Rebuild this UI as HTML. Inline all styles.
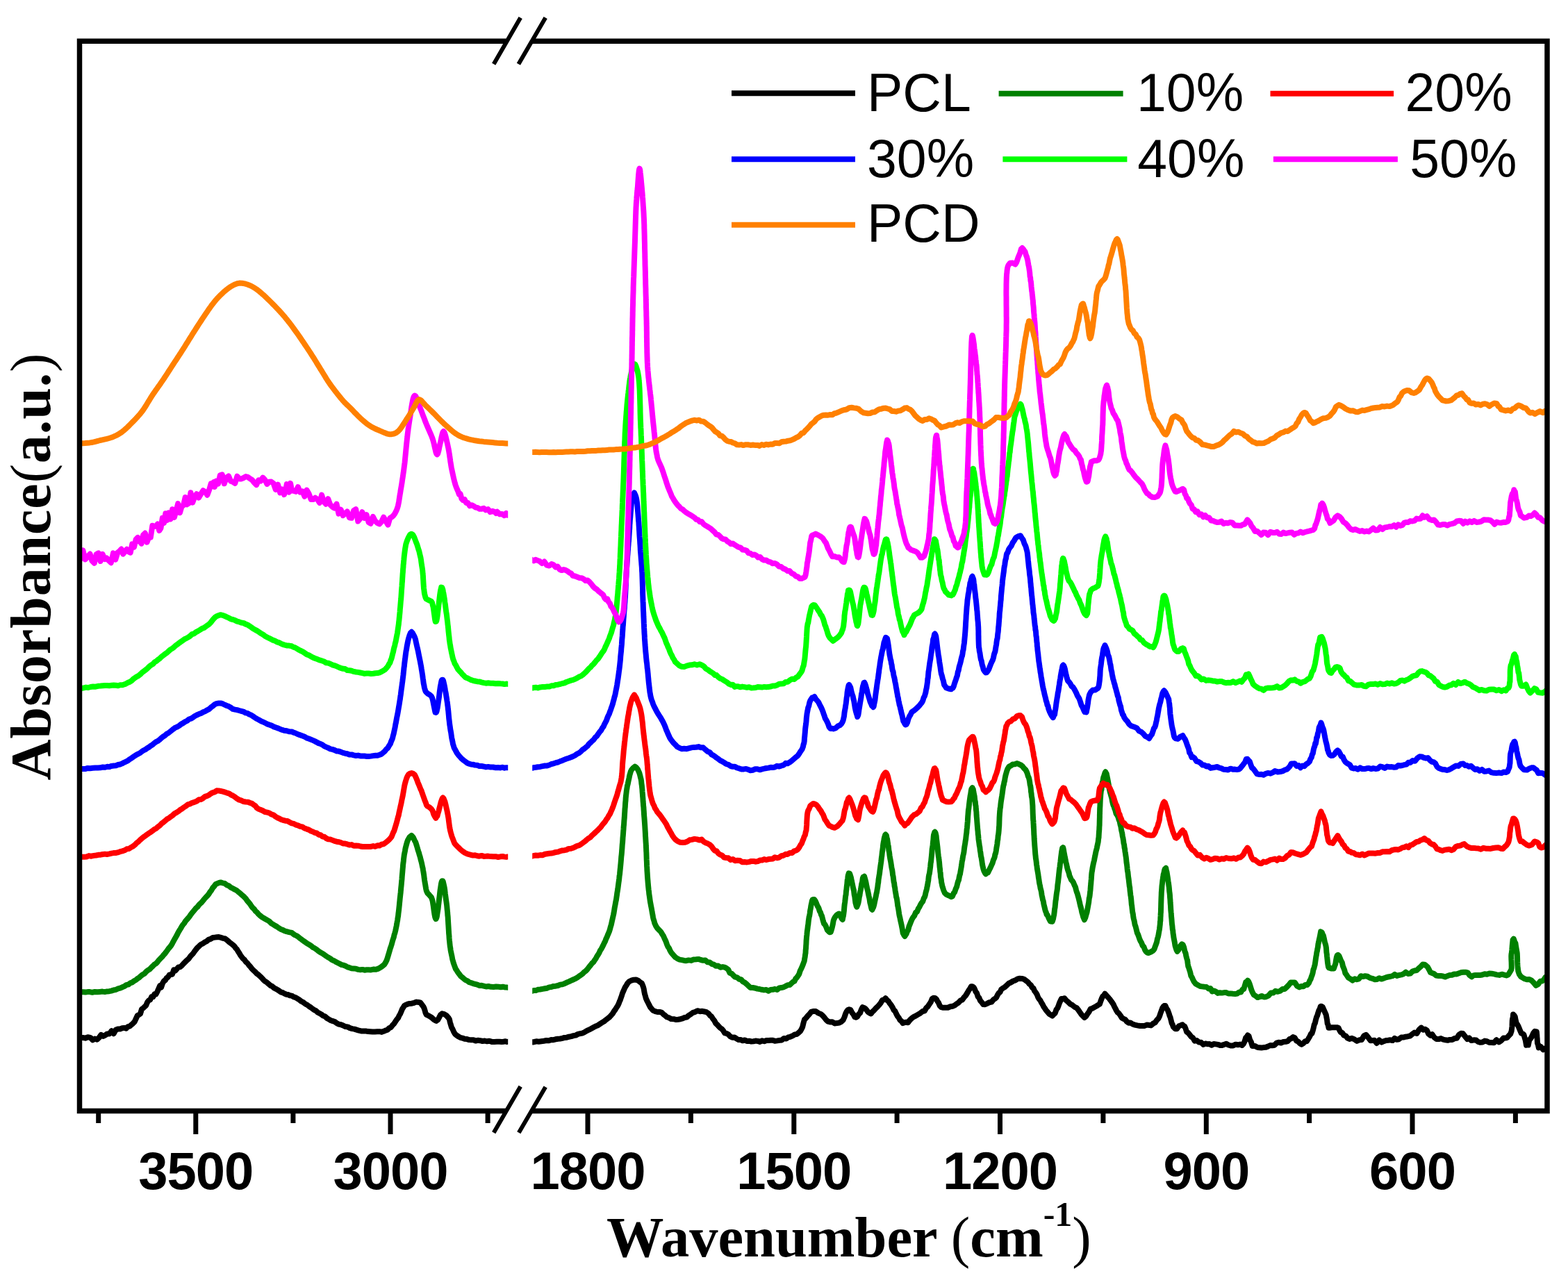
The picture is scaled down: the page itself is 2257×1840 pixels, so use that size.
<!DOCTYPE html>
<html><head><meta charset="utf-8"><title>FTIR spectra</title>
<style>html,body{margin:0;padding:0;background:#fff;}svg{display:block;filter:blur(0.55px);}</style>
</head><body>
<svg width="2257" height="1840" viewBox="0 0 2257 1840">
<defs>
<clipPath id="clipL"><rect x="114.5" y="59.3" width="616.7" height="1540.2"/></clipPath>
<clipPath id="clipR"><rect x="766.2" y="59.3" width="1460.8" height="1540.2"/></clipPath>
</defs>
<rect width="2257" height="1840" fill="#fff"/>
<g fill="none" stroke-width="8.0" stroke-linejoin="round" stroke-linecap="butt">
<path d="M110.0 1497.0L111.8 1492.5 114.0 1493.7 116.3 1493.9 119.3 1494.0 122.8 1494.7 126.4 1493.3 130.1 1493.9 133.5 1497.4 136.5 1495.6 139.8 1496.6 142.7 1493.8 145.5 1489.9 148.6 1491.9 151.4 1490.5 154.4 1488.4 157.5 1488.5 160.6 1484.2 163.7 1488.2 166.6 1482.8 169.8 1481.5 172.9 1481.5 175.9 1480.3 178.8 1479.9 181.6 1480.8 184.2 1478.1 186.7 1477.6 189.1 1475.4 191.4 1473.4 193.6 1471.2 195.8 1466.5 197.9 1462.0 199.9 1461.0 202.0 1459.5 204.1 1452.8 206.1 1451.5 208.1 1449.5 210.1 1447.8 212.2 1442.7 214.2 1440.3 216.2 1439.4 218.3 1434.9 220.4 1435.2 222.4 1431.2 224.5 1431.5 226.7 1427.2 228.4 1423.3 230.2 1419.2 232.1 1421.4 234.0 1415.7 235.9 1412.4 237.8 1411.4 239.7 1408.2 241.7 1406.9 243.8 1403.7 245.9 1403.1 248.0 1402.8 250.2 1396.3 252.3 1397.6 254.5 1395.1 256.7 1392.5 259.2 1392.3 261.7 1390.2 264.2 1387.4 266.7 1384.9 269.2 1382.4 271.7 1380.2 273.8 1377.2 275.9 1374.8 277.9 1372.9 279.9 1369.9 282.0 1367.1 284.2 1364.4 286.6 1362.2 289.1 1359.8 291.6 1358.7 294.4 1356.7 297.2 1355.4 300.2 1352.9 303.2 1351.9 306.3 1350.0 309.3 1349.6 312.1 1349.2 314.9 1349.0 318.0 1349.9 321.1 1350.8 324.1 1351.5 327.1 1353.7 329.9 1356.3 332.6 1358.4 335.2 1360.4 337.3 1362.2 339.2 1364.9 341.0 1366.8 342.7 1369.7 344.4 1372.3 346.1 1375.3 347.9 1377.7 349.9 1380.2 351.9 1381.9 353.9 1384.8 356.0 1386.5 358.2 1389.5 360.3 1391.8 362.6 1394.7 364.8 1397.0 367.1 1399.0 369.4 1401.5 371.8 1403.3 374.2 1405.4 376.7 1407.8 379.2 1410.7 381.7 1412.9 384.2 1414.4 386.8 1416.7 389.4 1419.0 392.0 1420.2 394.8 1422.6 397.9 1424.1 401.0 1426.0 404.1 1428.3 407.1 1429.2 409.9 1430.7 412.4 1431.7 414.5 1432.0 417.3 1433.2 420.0 1433.6 422.1 1435.1 424.6 1435.8 427.4 1437.3 430.4 1439.2 433.4 1441.5 436.6 1443.1 439.6 1445.5 442.5 1447.0 445.0 1449.0 447.5 1450.5 450.0 1452.5 452.5 1454.2 455.0 1455.4 457.5 1457.7 460.0 1459.0 462.6 1460.4 465.1 1462.5 467.9 1463.3 470.7 1466.0 473.5 1467.6 476.3 1469.2 479.1 1470.1 481.9 1471.0 484.7 1473.2 487.6 1474.6 490.8 1475.2 494.0 1476.5 497.2 1478.1 500.4 1478.4 503.6 1480.1 506.9 1481.1 510.1 1481.6 513.3 1482.6 516.6 1483.7 519.8 1484.4 523.1 1484.4 526.3 1484.4 529.5 1485.1 532.7 1485.3 536.1 1485.6 539.6 1485.6 543.0 1485.3 546.3 1485.2 549.4 1485.9 552.2 1484.8 555.2 1483.5 557.8 1482.6 560.3 1480.1 562.7 1479.1 565.0 1476.1 567.1 1473.9 569.2 1470.8 571.2 1467.8 573.2 1465.4 574.7 1462.0 576.2 1459.6 577.6 1456.2 579.0 1452.7 580.5 1450.5 582.1 1447.9 583.8 1446.9 586.7 1445.7 589.7 1444.9 592.8 1444.7 596.1 1443.8 599.5 1442.6 602.5 1443.0 605.0 1443.4 607.3 1446.5 609.3 1449.1 610.6 1451.8 611.5 1454.6 612.4 1458.0 613.8 1460.9 617.4 1462.6 621.3 1465.0 624.7 1468.2 628.1 1469.9 630.1 1468.4 632.1 1464.9 634.1 1461.1 636.3 1459.3 639.4 1460.1 642.7 1462.2 645.4 1465.2 646.9 1467.6 647.9 1472.1 648.7 1474.7 649.9 1478.9 651.4 1481.5 653.0 1485.2 654.9 1488.6 657.4 1490.7 659.8 1492.3 662.6 1493.9 665.6 1494.6 668.8 1495.8 672.1 1496.1 675.4 1497.1 678.4 1497.3 681.5 1497.3 684.6 1498.5 687.8 1497.8 691.1 1498.2 694.5 1499.0 697.9 1498.5 701.0 1499.3 704.4 1498.7 707.9 1499.9 711.6 1500.0 715.2 1499.8 718.8 1499.8 722.1 1500.1 725.0 1499.7 727.5 1499.3 729.5 1499.9 731.7 1499.7 733.5 1499.3" stroke="#000000" clip-path="url(#clipL)"/>
<path d="M762.8 1500.6L764.6 1500.2 766.8 1500.5 769.1 1500.0 772.0 1499.3 775.4 1499.7 779.1 1499.2 782.8 1498.7 786.5 1498.0 790.0 1498.2 793.3 1497.1 796.5 1497.2 799.7 1496.3 803.0 1495.7 806.2 1495.5 809.4 1494.9 812.6 1493.9 815.8 1493.7 819.1 1492.7 822.3 1492.1 825.5 1491.1 828.7 1490.6 831.9 1488.9 835.1 1488.2 838.0 1487.6 840.9 1486.3 843.7 1484.6 846.6 1483.2 849.5 1481.9 852.3 1480.3 855.0 1478.8 857.7 1477.4 860.7 1476.2 863.7 1474.2 866.6 1472.2 869.5 1470.6 872.2 1468.3 874.8 1466.3 877.2 1464.5 879.6 1461.9 881.8 1459.4 883.8 1456.0 885.7 1453.5 887.5 1450.5 889.2 1448.0 890.5 1445.3 891.7 1442.0 892.8 1439.7 893.9 1436.3 894.9 1433.6 896.0 1429.9 897.1 1427.6 898.2 1424.9 899.9 1421.2 901.6 1418.6 903.5 1415.4 905.7 1413.1 908.8 1411.7 912.2 1410.7 915.5 1410.5 918.5 1411.7 921.3 1414.0 923.8 1415.6 925.0 1418.3 925.9 1420.8 926.7 1423.7 927.3 1427.5 928.0 1431.0 928.8 1433.6 929.8 1437.4 931.2 1440.6 932.7 1443.5 934.4 1446.9 936.2 1450.4 938.2 1452.7 940.3 1454.9 943.1 1456.1 946.3 1457.0 949.5 1457.0 952.3 1457.6 954.9 1460.3 957.2 1461.9 959.8 1464.3 962.8 1465.3 966.2 1467.1 969.8 1467.2 973.3 1468.1 976.3 1467.7 979.4 1467.2 982.5 1466.3 985.5 1465.0 988.4 1464.6 991.6 1461.9 994.5 1460.1 997.4 1457.9 1000.4 1457.1 1003.9 1455.2 1007.5 1456.2 1010.9 1455.8 1014.0 1456.5 1017.0 1457.2 1019.9 1459.2 1022.1 1462.1 1024.1 1463.5 1026.1 1466.8 1028.1 1469.2 1030.4 1473.5 1032.4 1475.3 1034.4 1477.5 1036.5 1479.7 1038.7 1481.2 1040.9 1483.7 1043.2 1487.3 1045.5 1487.8 1048.3 1489.3 1051.1 1492.2 1054.0 1493.7 1057.1 1493.4 1060.5 1495.6 1063.1 1497.1 1065.9 1496.9 1068.9 1498.3 1071.9 1497.4 1075.0 1498.9 1078.2 1498.7 1081.4 1499.5 1084.5 1499.2 1087.6 1498.6 1090.7 1498.9 1093.8 1499.9 1096.9 1498.3 1100.1 1499.2 1103.2 1498.0 1106.3 1497.9 1109.4 1497.7 1112.4 1497.8 1115.3 1498.8 1118.7 1498.4 1122.0 1497.9 1125.3 1497.5 1128.5 1494.9 1131.6 1495.6 1134.6 1493.4 1137.4 1492.8 1140.8 1491.4 1144.0 1489.4 1147.0 1489.0 1149.8 1486.7 1152.2 1484.4 1153.8 1481.4 1155.1 1478.8 1156.0 1475.0 1156.9 1471.4 1158.0 1467.8 1159.5 1466.5 1161.9 1463.6 1164.7 1460.6 1167.6 1456.9 1170.6 1456.0 1174.2 1456.0 1178.0 1458.6 1181.7 1460.2 1184.3 1462.3 1186.7 1465.1 1189.2 1468.4 1191.8 1470.6 1194.6 1471.4 1197.8 1471.2 1201.3 1473.4 1204.8 1473.1 1208.2 1472.5 1211.2 1470.9 1213.5 1468.7 1215.4 1464.6 1217.1 1459.6 1218.8 1456.1 1220.4 1454.2 1222.2 1453.3 1224.2 1453.8 1226.2 1457.7 1228.3 1460.4 1230.4 1464.2 1232.4 1464.8 1234.2 1463.5 1236.1 1460.1 1238.0 1458.5 1239.8 1453.6 1241.6 1450.2 1243.4 1450.9 1245.5 1452.0 1247.5 1454.4 1249.5 1457.0 1251.7 1458.6 1253.8 1459.5 1256.0 1456.5 1258.2 1454.5 1260.5 1451.8 1262.8 1449.7 1265.2 1447.1 1267.6 1444.2 1270.0 1439.9 1272.4 1439.4 1274.7 1437.3 1276.8 1440.0 1278.8 1441.5 1280.7 1444.6 1282.7 1447.1 1284.9 1450.7 1286.6 1454.3 1288.3 1455.7 1290.0 1459.4 1291.8 1462.9 1293.7 1465.2 1295.6 1468.8 1297.5 1470.1 1299.5 1473.2 1301.5 1472.3 1304.2 1471.8 1306.9 1472.3 1309.8 1468.5 1312.6 1465.8 1315.4 1463.9 1318.1 1462.6 1321.4 1460.6 1324.7 1458.7 1327.9 1456.2 1331.0 1455.3 1333.2 1451.3 1335.4 1449.3 1337.6 1445.9 1339.8 1442.7 1341.8 1437.9 1343.8 1436.7 1345.7 1436.9 1347.6 1438.2 1349.2 1441.2 1350.9 1443.6 1352.7 1447.9 1354.9 1450.2 1357.7 1450.8 1361.0 1450.7 1364.4 1450.8 1367.9 1449.3 1371.1 1448.8 1374.0 1447.6 1376.9 1445.3 1379.8 1443.5 1382.5 1440.6 1385.1 1439.6 1387.6 1435.9 1389.9 1433.5 1392.1 1430.0 1394.1 1426.3 1396.1 1423.4 1397.9 1420.3 1399.6 1420.2 1401.4 1421.3 1402.9 1424.0 1404.4 1427.7 1406.1 1430.0 1407.7 1434.9 1409.3 1436.6 1411.1 1440.8 1413.0 1442.9 1415.3 1446.0 1417.9 1446.2 1420.9 1444.8 1424.1 1443.2 1427.2 1442.6 1430.0 1439.2 1432.1 1437.9 1434.1 1436.2 1435.9 1432.5 1437.7 1429.7 1439.5 1428.5 1441.2 1424.5 1443.0 1423.2 1446.0 1421.3 1448.9 1418.9 1452.2 1415.7 1455.0 1414.5 1458.2 1412.5 1461.5 1411.4 1464.7 1409.4 1467.8 1408.7 1471.0 1408.9 1474.0 1409.8 1477.0 1412.0 1479.8 1414.1 1481.8 1416.8 1483.8 1418.2 1485.6 1421.6 1487.5 1422.9 1489.2 1426.8 1491.0 1429.1 1492.7 1431.9 1494.3 1436.1 1495.9 1438.6 1497.5 1440.4 1499.0 1443.6 1500.5 1445.8 1502.1 1449.1 1503.8 1451.5 1506.0 1454.9 1508.2 1457.3 1510.6 1460.1 1512.8 1461.4 1514.8 1462.6 1516.8 1460.4 1518.7 1458.8 1520.5 1453.6 1522.2 1451.5 1523.7 1447.7 1525.0 1444.0 1526.3 1441.1 1527.8 1437.9 1529.6 1438.2 1532.1 1437.2 1534.9 1440.5 1537.8 1442.9 1540.6 1445.7 1543.7 1447.2 1546.8 1449.8 1549.9 1451.2 1552.1 1454.0 1554.3 1457.3 1556.5 1460.4 1558.7 1462.7 1560.9 1465.0 1563.1 1463.3 1565.3 1459.9 1567.5 1456.9 1569.7 1452.6 1572.0 1452.0 1575.1 1450.2 1578.3 1448.5 1581.2 1446.7 1582.9 1445.6 1584.5 1441.0 1585.9 1437.3 1587.4 1434.3 1588.8 1433.6 1590.4 1430.8 1592.6 1433.2 1594.9 1435.7 1597.3 1438.5 1599.6 1441.6 1601.2 1443.9 1602.6 1446.0 1604.1 1449.3 1605.6 1452.1 1607.1 1455.1 1608.8 1457.7 1610.7 1459.2 1612.7 1462.0 1614.9 1465.5 1617.1 1466.8 1619.5 1467.7 1621.9 1470.8 1624.6 1472.7 1627.3 1472.5 1630.3 1474.5 1633.6 1475.6 1637.1 1476.4 1640.8 1477.0 1644.3 1476.9 1647.6 1476.9 1650.6 1475.6 1653.1 1475.7 1656.9 1476.4 1660.0 1473.5 1662.6 1472.4 1665.1 1468.8 1667.5 1466.2 1669.0 1463.2 1670.4 1458.9 1671.8 1455.3 1673.1 1451.5 1674.5 1449.3 1675.8 1448.1 1677.5 1448.0 1679.2 1452.0 1680.8 1454.3 1682.5 1458.8 1683.6 1462.5 1684.6 1464.9 1685.6 1468.9 1686.7 1473.3 1687.7 1475.0 1688.9 1478.6 1690.2 1479.6 1691.6 1481.3 1694.1 1481.2 1696.9 1477.2 1699.7 1476.3 1702.1 1475.3 1703.8 1477.2 1705.2 1477.8 1706.5 1480.6 1708.1 1485.6 1710.1 1486.9 1712.2 1489.3 1714.5 1492.4 1717.1 1494.3 1719.7 1498.6 1722.6 1497.9 1725.7 1500.6 1728.9 1500.8 1732.1 1503.9 1735.0 1502.5 1737.9 1503.2 1740.9 1503.0 1744.0 1504.8 1747.1 1503.0 1750.1 1503.4 1753.1 1503.9 1756.1 1504.9 1759.1 1504.9 1762.1 1503.9 1765.1 1502.7 1768.2 1504.5 1771.5 1505.5 1775.0 1505.4 1778.6 1503.7 1782.0 1504.3 1785.1 1503.6 1787.7 1505.0 1789.9 1502.9 1791.7 1499.0 1793.2 1494.0 1794.6 1492.9 1796.0 1490.4 1797.7 1492.0 1799.2 1497.3 1800.8 1500.0 1802.7 1505.9 1806.1 1505.9 1810.2 1508.0 1812.8 1508.2 1815.8 1508.5 1819.0 1508.1 1822.2 1507.8 1825.3 1506.5 1828.4 1505.0 1831.4 1505.3 1834.5 1504.7 1837.5 1501.6 1840.3 1500.8 1843.9 1501.5 1847.4 1500.0 1850.8 1499.8 1853.5 1499.1 1856.1 1496.1 1858.7 1495.2 1861.3 1493.1 1863.7 1494.2 1866.1 1498.5 1868.5 1499.4 1870.9 1502.1 1873.3 1503.7 1875.8 1502.3 1878.4 1499.3 1880.9 1499.2 1883.3 1495.6 1885.4 1492.0 1887.0 1488.3 1888.4 1488.0 1889.5 1484.6 1890.6 1480.5 1891.7 1475.4 1892.9 1473.0 1894.0 1468.1 1895.1 1464.3 1896.2 1462.1 1897.3 1458.2 1898.5 1454.6 1899.6 1453.0 1900.8 1449.0 1901.9 1448.8 1903.9 1450.0 1906.0 1454.8 1907.9 1459.2 1908.8 1461.2 1909.5 1465.3 1910.1 1468.2 1910.7 1473.5 1911.5 1475.0 1912.5 1479.8 1913.9 1479.7 1917.1 1479.3 1921.0 1479.3 1924.4 1479.2 1926.5 1479.8 1928.3 1483.6 1930.0 1486.3 1932.0 1486.8 1934.4 1490.7 1937.0 1491.3 1939.7 1494.6 1942.5 1495.9 1946.0 1494.8 1949.6 1496.4 1953.0 1498.9 1956.6 1497.3 1960.0 1497.0 1963.2 1491.4 1966.3 1489.9 1969.2 1493.4 1972.7 1498.2 1975.2 1498.1 1978.3 1497.7 1981.7 1501.9 1985.2 1497.4 1988.6 1500.6 1991.7 1499.2 1995.1 1498.0 1998.2 1497.8 2001.3 1497.3 2004.4 1498.1 2007.5 1494.9 2010.6 1496.8 2013.7 1496.2 2017.0 1493.5 2020.0 1493.6 2023.2 1492.7 2026.5 1492.2 2029.8 1491.5 2033.0 1488.7 2036.1 1486.6 2039.4 1488.0 2042.6 1482.4 2045.8 1479.6 2048.7 1482.6 2051.3 1481.7 2054.0 1483.6 2056.2 1488.5 2058.9 1490.8 2061.5 1489.1 2064.5 1493.6 2067.8 1496.1 2071.0 1496.1 2074.1 1495.1 2077.4 1496.6 2080.6 1497.3 2083.8 1497.8 2086.8 1496.9 2090.3 1496.9 2093.7 1495.1 2096.9 1494.8 2100.0 1489.8 2103.0 1487.8 2105.8 1488.1 2108.8 1492.2 2112.1 1496.1 2114.8 1494.4 2117.9 1498.1 2121.3 1497.3 2124.8 1497.6 2127.7 1500.0 2130.7 1500.8 2133.9 1500.5 2137.1 1498.6 2140.4 1499.2 2143.8 1501.0 2146.9 1501.0 2150.4 1501.3 2154.0 1497.2 2157.6 1500.4 2161.0 1498.1 2164.2 1494.5 2167.0 1494.5 2169.2 1494.1 2172.2 1490.7 2174.2 1488.7 2175.0 1486.2 2175.6 1484.7 2176.1 1481.0 2176.5 1478.0 2176.8 1469.6 2177.2 1466.5 2177.6 1466.9 2178.1 1460.4 2178.7 1463.9 2179.7 1462.1 2180.7 1463.6 2181.9 1469.9 2183.1 1474.4 2184.3 1475.3 2185.6 1477.7 2187.7 1482.8 2189.9 1487.8 2192.0 1488.5 2193.4 1489.6 2194.6 1493.8 2195.8 1497.9 2197.0 1504.8 2198.3 1504.4 2199.8 1504.6 2201.3 1497.2 2202.9 1495.7 2204.6 1493.0 2206.8 1488.0 2209.1 1484.9 2211.0 1488.0 2211.8 1485.4 2212.3 1490.5 2212.5 1494.5 2212.7 1496.2 2213.0 1502.0 2213.7 1503.1 2214.8 1508.4 2217.7 1506.8 2221.3 1511.3 2224.4 1509.2 2226.5 1511.7 2228.4 1507.1" stroke="#000000" clip-path="url(#clipR)"/>
<path d="M110.0 1428.2L111.7 1428.7 114.0 1427.9 115.6 1427.9 117.7 1428.3 120.2 1428.2 123.0 1428.5 126.1 1428.1 129.4 1428.1 132.9 1428.8 136.5 1427.9 140.2 1428.2 143.8 1427.9 147.4 1427.6 150.9 1428.1 154.2 1427.4 157.3 1427.2 160.1 1426.6 163.5 1425.5 166.8 1424.8 170.0 1423.4 173.0 1422.7 176.0 1421.3 178.9 1420.1 181.8 1418.2 184.8 1417.4 187.7 1415.3 190.3 1414.4 192.9 1412.3 195.5 1411.0 198.0 1408.9 200.5 1407.3 203.1 1404.9 205.6 1403.0 208.1 1401.7 210.5 1398.9 213.0 1396.9 215.4 1395.5 217.6 1393.2 219.9 1391.0 222.1 1388.7 224.4 1387.3 226.6 1385.1 228.8 1382.2 231.0 1379.9 233.1 1377.9 235.2 1375.3 237.3 1373.0 239.2 1370.5 241.2 1367.7 243.0 1365.2 244.8 1363.2 246.5 1361.0 248.1 1358.2 249.7 1355.2 251.1 1352.6 252.6 1350.0 254.0 1347.6 255.5 1344.6 256.9 1341.8 258.4 1339.4 259.9 1337.0 261.5 1334.2 263.3 1331.4 265.1 1329.4 266.9 1326.4 268.7 1324.2 270.5 1322.2 272.4 1320.0 274.3 1317.2 276.1 1314.8 278.0 1312.5 279.9 1310.2 281.9 1307.7 284.0 1306.0 286.0 1303.3 288.1 1301.1 290.2 1299.2 292.2 1296.8 294.3 1294.1 296.3 1291.9 298.3 1289.9 300.4 1287.4 302.4 1284.1 304.4 1281.7 306.3 1278.2 308.3 1276.0 310.4 1273.2 312.6 1272.1 314.9 1271.1 317.6 1270.4 320.5 1271.3 323.5 1271.9 326.6 1274.3 329.6 1275.5 332.5 1277.9 335.2 1279.1 337.9 1280.7 340.3 1281.8 342.7 1283.8 345.0 1285.6 347.4 1287.8 349.9 1289.8 351.8 1291.7 353.8 1293.8 355.8 1296.8 357.8 1299.0 359.8 1301.3 361.8 1304.5 363.9 1307.2 365.9 1308.9 368.0 1312.0 370.1 1313.7 372.1 1316.1 374.7 1318.5 377.3 1320.5 379.9 1322.0 382.6 1323.7 385.2 1325.0 387.8 1326.7 390.5 1329.3 393.1 1330.9 395.8 1332.6 398.6 1334.1 401.3 1336.1 403.9 1337.7 406.5 1338.7 408.9 1339.9 412.6 1341.2 416.1 1342.1 420.0 1342.9 422.1 1344.6 424.3 1346.1 426.7 1347.1 429.2 1348.8 431.8 1351.0 434.4 1352.8 437.1 1354.9 439.8 1356.7 442.4 1358.6 445.0 1360.0 447.6 1361.6 450.1 1363.8 452.6 1365.0 455.1 1366.7 457.6 1368.7 460.1 1370.5 462.6 1371.9 465.1 1373.4 467.7 1375.2 470.2 1377.0 472.7 1378.6 475.3 1380.0 478.0 1382.1 480.7 1383.2 483.5 1384.9 486.2 1386.3 489.0 1387.7 491.8 1389.1 494.6 1389.7 497.4 1390.8 500.2 1392.4 503.0 1393.2 506.0 1394.2 509.2 1394.4 512.3 1394.8 515.5 1395.9 518.7 1396.3 521.8 1395.9 524.8 1396.7 527.8 1396.3 530.6 1396.3 534.0 1396.4 537.4 1395.6 540.8 1395.8 543.9 1394.9 546.6 1393.4 549.0 1392.0 551.6 1390.0 553.4 1388.4 555.2 1385.4 556.5 1382.8 557.6 1379.7 558.7 1376.0 559.7 1372.7 560.8 1368.9 561.9 1364.9 562.7 1362.9 563.5 1360.4 564.3 1357.5 565.1 1354.5 566.0 1351.6 566.8 1349.4 567.6 1345.5 568.4 1343.3 569.2 1340.1 569.9 1336.7 570.6 1333.5 571.2 1330.3 571.7 1327.2 572.2 1324.8 572.6 1321.4 573.1 1318.8 573.4 1315.6 573.8 1312.5 574.1 1310.0 574.5 1306.2 574.8 1303.4 575.1 1299.9 575.4 1297.1 575.7 1293.7 576.0 1291.1 576.4 1287.3 576.7 1284.7 577.0 1281.1 577.3 1277.8 577.6 1275.1 577.9 1271.8 578.2 1268.3 578.5 1265.3 578.7 1262.1 579.0 1258.6 579.3 1255.4 579.6 1251.5 579.9 1248.4 580.1 1245.3 580.5 1242.1 580.8 1239.7 581.1 1236.5 581.4 1234.3 581.8 1231.0 582.2 1228.8 582.9 1225.5 583.6 1221.2 584.3 1218.6 585.1 1215.6 586.0 1212.4 587.0 1209.7 588.3 1207.3 589.6 1205.2 592.4 1203.0 594.8 1205.7 597.0 1210.5 598.3 1212.8 599.4 1216.2 600.6 1220.2 601.3 1222.7 602.1 1225.3 603.0 1227.9 603.8 1230.9 604.7 1233.7 605.5 1237.2 606.4 1240.3 607.2 1243.7 608.0 1247.7 608.6 1250.0 609.1 1253.4 609.7 1256.8 610.2 1260.1 610.6 1263.5 611.1 1267.3 611.6 1270.5 612.1 1273.2 612.7 1276.8 613.2 1279.9 613.9 1282.7 614.6 1284.3 615.4 1285.9 618.2 1288.8 620.9 1291.9 621.8 1294.4 622.6 1297.0 623.3 1301.5 623.9 1305.2 624.5 1310.0 625.1 1314.1 625.6 1317.3 626.2 1320.3 626.8 1322.0 627.4 1323.1 627.9 1322.4 628.4 1321.1 628.9 1319.3 629.4 1315.8 629.9 1312.5 630.5 1308.9 631.0 1304.2 631.5 1300.0 632.0 1295.4 632.6 1290.7 633.1 1286.1 633.6 1281.7 634.1 1278.6 634.6 1275.1 635.1 1272.0 635.6 1270.0 636.1 1268.7 636.6 1268.2 637.2 1268.4 637.8 1269.3 638.5 1272.3 639.1 1275.1 639.7 1277.8 640.3 1281.9 640.8 1286.5 641.4 1290.8 642.0 1295.2 642.5 1298.8 643.0 1302.4 643.3 1305.1 643.6 1308.6 643.9 1311.6 644.2 1314.4 644.4 1317.9 644.7 1320.1 644.9 1324.2 645.1 1327.2 645.3 1330.8 645.5 1333.7 645.7 1337.2 645.9 1340.2 646.1 1344.0 646.4 1346.8 646.6 1350.5 646.9 1353.9 647.2 1356.5 647.5 1359.6 647.8 1362.4 648.2 1364.5 648.6 1367.8 649.2 1370.9 649.9 1374.1 650.6 1377.4 651.3 1381.4 652.0 1383.6 652.8 1386.7 653.8 1389.4 654.8 1392.1 656.0 1395.2 657.6 1397.4 659.3 1400.3 661.2 1402.6 663.2 1405.4 665.4 1407.2 667.9 1409.3 670.2 1411.1 672.7 1412.1 675.3 1414.2 678.1 1415.0 681.0 1416.1 684.0 1416.9 687.2 1417.7 690.4 1418.9 693.2 1418.8 696.3 1419.6 699.7 1420.5 703.2 1420.0 706.8 1420.8 710.5 1421.0 714.1 1420.5 717.6 1420.8 720.9 1421.2 723.9 1420.7 726.6 1421.4 728.8 1421.4 730.6 1421.7 732.9 1421.8 734.6 1422.1" stroke="#008000" clip-path="url(#clipL)"/>
<path d="M762.5 1427.5L764.3 1427.4 766.5 1426.6 768.6 1426.0 771.2 1426.1 774.2 1424.8 777.5 1424.5 780.9 1423.9 784.3 1423.3 787.6 1422.7 790.6 1421.4 793.6 1421.0 796.8 1419.9 800.0 1419.7 803.2 1419.0 806.4 1417.6 809.5 1417.2 812.5 1416.2 815.3 1414.8 818.7 1413.4 821.8 1411.9 824.9 1410.5 827.9 1409.2 830.8 1407.6 833.7 1405.4 836.2 1403.7 838.6 1402.0 841.0 1399.4 843.4 1397.7 845.7 1395.2 847.9 1392.3 850.1 1389.6 852.2 1386.9 854.1 1385.3 855.8 1382.6 857.6 1380.2 859.2 1377.0 860.9 1374.5 862.4 1372.0 864.0 1368.4 865.4 1366.5 866.9 1363.6 868.3 1360.9 869.7 1357.8 871.0 1355.5 872.3 1351.9 873.6 1349.3 874.7 1346.4 875.9 1343.6 877.0 1340.9 878.0 1337.8 878.9 1334.2 879.7 1331.8 880.4 1328.6 881.1 1325.4 881.8 1322.4 882.4 1319.7 883.0 1317.1 883.6 1314.1 884.2 1310.3 884.7 1307.0 885.3 1303.9 885.8 1301.2 886.4 1297.8 886.9 1295.7 887.4 1292.2 887.9 1288.8 888.3 1285.8 888.8 1282.9 889.3 1279.7 889.7 1276.7 890.1 1273.4 890.5 1270.5 890.9 1267.9 891.3 1264.4 891.6 1261.1 892.0 1258.9 892.3 1255.6 892.6 1252.5 892.9 1249.6 893.2 1246.5 893.5 1243.3 893.8 1239.9 894.0 1237.4 894.3 1233.4 894.6 1231.1 894.9 1228.0 895.1 1225.2 895.4 1221.4 895.6 1218.3 895.8 1215.4 896.1 1213.0 896.3 1209.9 896.5 1206.2 896.8 1203.2 897.0 1200.5 897.2 1197.4 897.5 1193.8 897.7 1190.3 898.0 1187.5 898.2 1184.6 898.4 1181.3 898.7 1178.2 898.9 1174.7 899.1 1171.6 899.3 1168.6 899.5 1164.8 899.8 1162.1 900.0 1158.3 900.2 1155.4 900.5 1152.7 900.7 1149.0 901.0 1146.0 901.3 1143.6 901.6 1140.9 901.9 1138.1 902.5 1134.7 903.0 1131.2 903.7 1128.8 904.3 1125.7 904.9 1123.0 905.6 1119.8 906.3 1116.2 907.0 1113.8 907.9 1110.7 909.0 1108.3 911.4 1105.6 913.9 1103.7 916.0 1105.1 918.0 1107.7 919.2 1110.4 920.3 1112.9 921.3 1116.5 922.2 1120.3 922.7 1122.1 923.1 1124.7 923.4 1128.1 923.8 1130.7 924.1 1133.6 924.4 1136.4 924.6 1140.0 924.9 1143.3 925.1 1146.4 925.4 1149.7 925.6 1153.6 925.9 1156.7 926.1 1160.0 926.4 1162.3 926.6 1165.8 926.8 1168.4 927.0 1171.9 927.2 1174.9 927.4 1177.2 927.7 1181.1 927.9 1184.1 928.1 1186.9 928.3 1189.7 928.5 1193.3 928.7 1196.6 928.9 1199.7 929.0 1203.2 929.2 1205.5 929.4 1209.0 929.6 1212.5 929.8 1215.4 929.9 1218.1 930.1 1221.4 930.2 1224.9 930.4 1227.7 930.5 1230.9 930.6 1234.2 930.7 1237.4 930.9 1240.7 931.0 1244.0 931.1 1247.0 931.3 1249.8 931.4 1252.9 931.6 1255.6 931.8 1258.8 932.0 1262.0 932.2 1264.7 932.4 1267.1 932.7 1271.0 933.0 1274.4 933.3 1277.6 933.6 1280.7 934.0 1283.5 934.3 1286.8 934.7 1289.5 935.1 1292.2 935.5 1295.2 936.0 1298.7 936.5 1301.3 937.0 1304.0 937.6 1307.1 938.2 1310.3 938.7 1313.5 939.4 1317.0 940.0 1320.7 940.7 1323.5 941.5 1325.9 942.3 1329.2 943.3 1331.4 944.3 1333.6 946.4 1336.7 948.8 1339.1 951.2 1341.5 953.5 1345.4 954.9 1347.5 956.3 1350.7 957.6 1353.4 958.8 1356.2 960.1 1360.0 961.4 1363.0 962.8 1364.7 964.5 1368.5 966.2 1371.4 967.9 1373.5 969.8 1375.6 972.0 1378.2 974.8 1379.9 977.9 1381.6 981.3 1382.1 984.9 1382.9 987.9 1383.2 991.2 1382.4 994.7 1382.9 998.3 1381.5 1001.9 1381.3 1005.4 1380.9 1008.8 1382.0 1012.0 1382.8 1015.2 1382.4 1018.4 1385.3 1021.5 1385.6 1024.5 1387.8 1027.5 1388.6 1030.4 1390.8 1033.7 1390.5 1037.0 1392.7 1040.2 1392.1 1043.1 1392.7 1045.7 1394.0 1048.4 1396.2 1050.5 1400.7 1053.0 1401.7 1055.5 1404.2 1058.2 1406.7 1061.1 1407.4 1064.1 1409.8 1066.7 1410.2 1069.4 1413.4 1072.2 1414.7 1075.0 1417.1 1077.6 1419.6 1080.0 1421.9 1083.7 1422.0 1087.6 1422.7 1090.2 1423.6 1093.2 1424.0 1096.3 1424.8 1099.6 1425.4 1102.9 1425.0 1106.1 1426.8 1109.2 1425.1 1112.3 1424.8 1115.5 1424.0 1118.6 1425.0 1121.6 1422.4 1124.5 1422.1 1127.7 1421.3 1130.8 1419.9 1133.8 1418.3 1136.7 1418.1 1139.3 1415.6 1141.5 1413.6 1143.5 1412.7 1145.3 1409.0 1147.1 1407.3 1148.7 1404.9 1150.3 1402.3 1151.8 1397.5 1153.2 1394.8 1154.5 1392.1 1155.7 1389.1 1156.7 1386.2 1157.7 1383.8 1158.3 1379.6 1158.7 1377.9 1159.1 1374.2 1159.5 1372.2 1159.7 1367.9 1160.0 1365.5 1160.2 1361.7 1160.4 1359.3 1160.6 1354.3 1160.8 1352.1 1161.1 1348.5 1161.4 1346.2 1161.8 1341.6 1162.1 1339.3 1162.5 1336.7 1162.9 1332.8 1163.3 1331.0 1163.7 1326.6 1164.1 1323.7 1164.6 1320.3 1165.1 1318.8 1165.7 1314.8 1166.2 1310.8 1166.8 1308.0 1167.4 1303.9 1168.1 1300.9 1168.8 1297.1 1169.6 1295.3 1170.6 1295.0 1171.9 1294.9 1173.4 1296.7 1175.1 1300.5 1176.7 1304.4 1178.3 1307.0 1179.8 1311.8 1181.0 1313.7 1182.0 1317.0 1183.0 1318.8 1184.0 1322.8 1185.0 1326.6 1186.0 1329.7 1187.2 1330.8 1189.0 1334.0 1190.9 1339.1 1192.8 1341.1 1194.6 1342.3 1195.8 1341.9 1196.8 1338.7 1197.8 1335.1 1198.7 1331.2 1199.7 1325.4 1200.7 1322.8 1201.9 1320.5 1204.7 1317.1 1207.5 1315.4 1209.2 1316.1 1210.7 1321.1 1212.1 1323.2 1212.8 1323.9 1213.4 1320.6 1213.9 1318.7 1214.4 1315.1 1214.9 1311.3 1215.3 1305.9 1215.7 1302.0 1216.2 1298.8 1216.7 1294.2 1217.1 1290.4 1217.6 1288.2 1218.0 1283.0 1218.4 1280.6 1218.8 1276.5 1219.3 1272.5 1219.7 1267.4 1220.2 1265.0 1220.6 1261.1 1221.1 1259.5 1221.7 1257.4 1222.2 1257.5 1223.1 1257.7 1224.0 1260.5 1224.9 1263.2 1225.9 1268.5 1226.8 1272.4 1227.7 1276.7 1228.4 1280.0 1229.0 1282.0 1229.7 1288.3 1230.3 1290.7 1230.9 1295.9 1231.4 1299.8 1232.0 1301.7 1232.7 1304.5 1233.3 1305.7 1234.0 1303.9 1234.7 1302.3 1235.4 1300.3 1236.1 1296.6 1236.8 1291.5 1237.4 1289.4 1238.1 1284.4 1238.8 1281.3 1239.6 1277.0 1240.3 1272.4 1241.1 1269.9 1241.8 1264.5 1242.6 1262.6 1243.4 1262.4 1244.2 1261.8 1244.9 1264.8 1245.8 1267.6 1246.6 1271.2 1247.5 1276.1 1248.3 1279.9 1249.1 1282.7 1249.9 1286.6 1250.7 1290.6 1251.5 1293.8 1252.3 1299.3 1253.0 1301.8 1253.8 1305.7 1254.6 1308.8 1255.4 1309.7 1256.3 1307.9 1257.2 1306.2 1258.2 1302.7 1259.1 1298.2 1260.1 1293.6 1260.9 1289.9 1261.4 1287.1 1262.0 1284.8 1262.4 1282.3 1262.9 1279.3 1263.3 1277.1 1263.8 1272.5 1264.2 1270.9 1264.6 1266.2 1265.1 1263.2 1265.5 1260.6 1266.0 1257.8 1266.5 1253.2 1266.9 1250.7 1267.4 1246.6 1267.8 1244.0 1268.3 1240.5 1268.8 1235.7 1269.3 1232.4 1269.8 1227.4 1270.3 1224.1 1270.8 1220.4 1271.2 1215.8 1271.7 1212.8 1272.2 1210.7 1272.7 1207.1 1273.2 1205.1 1273.7 1204.0 1274.2 1202.0 1274.7 1201.5 1275.3 1202.9 1275.9 1202.9 1276.5 1206.5 1277.1 1208.2 1277.7 1212.3 1278.3 1216.2 1278.9 1219.1 1279.4 1224.4 1280.0 1227.1 1280.6 1232.0 1281.2 1235.9 1281.7 1238.4 1282.2 1241.0 1282.7 1244.4 1283.2 1247.7 1283.7 1250.5 1284.2 1252.4 1284.7 1256.2 1285.1 1260.0 1285.6 1261.8 1286.1 1265.9 1286.6 1270.0 1287.1 1271.4 1287.6 1276.1 1288.1 1278.0 1288.6 1282.1 1289.1 1285.0 1289.6 1287.8 1290.1 1291.6 1290.7 1293.1 1291.2 1296.2 1291.7 1299.6 1292.2 1304.0 1292.7 1306.0 1293.3 1309.5 1293.8 1313.0 1294.3 1316.4 1294.9 1319.5 1295.4 1321.3 1296.0 1324.6 1296.7 1327.7 1297.5 1331.2 1298.2 1334.6 1298.9 1338.4 1299.7 1343.4 1300.5 1344.8 1301.4 1346.6 1302.4 1348.0 1303.5 1346.2 1304.6 1344.6 1305.9 1341.0 1307.1 1339.3 1308.5 1333.7 1309.8 1330.6 1311.1 1327.3 1312.5 1323.9 1314.3 1320.7 1316.2 1318.4 1318.1 1313.8 1320.0 1312.7 1321.8 1308.3 1323.4 1305.9 1325.1 1302.3 1326.7 1299.7 1328.2 1297.9 1329.7 1293.4 1331.0 1291.3 1331.8 1288.7 1332.6 1284.7 1333.3 1282.6 1333.9 1280.1 1334.5 1277.1 1335.1 1274.5 1335.6 1271.1 1336.2 1268.0 1336.7 1262.8 1337.2 1259.9 1337.8 1257.8 1338.3 1254.5 1338.8 1250.7 1339.2 1247.7 1339.6 1242.9 1340.1 1240.4 1340.5 1236.1 1340.9 1232.4 1341.3 1228.0 1341.7 1222.4 1342.2 1219.7 1342.6 1216.4 1343.0 1212.3 1343.4 1209.0 1343.7 1204.6 1344.1 1201.6 1344.5 1201.2 1344.9 1199.2 1345.3 1198.2 1345.7 1197.8 1346.2 1199.0 1346.6 1199.2 1347.1 1201.4 1347.6 1203.4 1348.0 1208.0 1348.5 1211.6 1348.9 1215.0 1349.4 1219.0 1349.9 1224.1 1350.3 1228.3 1350.8 1232.7 1351.2 1234.6 1351.6 1238.4 1352.0 1241.1 1352.3 1244.7 1352.6 1248.3 1353.0 1251.0 1353.3 1254.9 1353.7 1257.2 1354.0 1262.3 1354.4 1264.5 1354.8 1266.6 1355.2 1270.6 1355.7 1272.5 1356.2 1275.2 1356.8 1277.3 1358.3 1282.0 1359.9 1285.6 1362.0 1287.6 1365.5 1289.3 1369.2 1291.2 1371.0 1290.3 1372.6 1286.2 1374.2 1284.3 1375.7 1279.7 1377.1 1276.8 1378.4 1271.4 1379.2 1268.7 1380.0 1267.2 1380.7 1263.0 1381.4 1259.9 1382.0 1258.5 1382.6 1254.4 1383.1 1251.7 1383.7 1248.3 1384.2 1244.9 1384.7 1240.6 1385.3 1238.1 1385.8 1234.9 1386.3 1231.9 1386.8 1229.9 1387.4 1227.1 1387.8 1223.5 1388.3 1219.5 1388.8 1216.6 1389.2 1214.4 1389.7 1210.6 1390.1 1208.6 1390.5 1204.9 1390.9 1201.4 1391.3 1199.0 1391.6 1194.6 1392.0 1191.7 1392.2 1189.6 1392.5 1185.7 1392.8 1182.8 1393.0 1179.1 1393.2 1175.7 1393.5 1172.1 1393.7 1169.4 1394.0 1165.6 1394.3 1164.6 1394.6 1161.9 1395.0 1158.3 1395.5 1153.9 1396.0 1150.4 1396.6 1146.1 1397.2 1143.0 1397.8 1138.7 1398.4 1135.9 1399.0 1135.1 1399.6 1134.2 1400.2 1135.7 1400.8 1136.5 1401.4 1140.4 1402.1 1143.9 1402.7 1146.7 1403.2 1152.0 1403.8 1154.3 1404.2 1158.9 1404.6 1160.5 1404.9 1165.2 1405.1 1166.9 1405.4 1169.2 1405.6 1173.9 1405.8 1176.4 1406.1 1179.6 1406.3 1182.5 1406.6 1186.4 1406.8 1188.8 1407.1 1192.5 1407.3 1194.8 1407.6 1197.3 1407.8 1201.0 1408.2 1203.3 1408.5 1208.1 1408.9 1210.8 1409.3 1213.5 1409.8 1217.5 1410.3 1219.6 1410.8 1224.4 1411.4 1227.5 1412.0 1232.7 1412.6 1234.8 1413.3 1239.3 1414.0 1244.7 1414.7 1247.9 1415.5 1251.4 1416.3 1253.9 1417.1 1255.5 1418.0 1257.2 1419.0 1258.3 1420.4 1256.4 1422.0 1256.4 1423.7 1252.9 1425.4 1249.6 1427.1 1245.8 1428.6 1242.7 1430.0 1237.9 1430.9 1236.2 1431.7 1233.9 1432.4 1230.0 1433.1 1228.6 1433.8 1224.9 1434.3 1221.2 1434.9 1217.9 1435.4 1215.2 1435.8 1210.6 1436.3 1208.5 1436.7 1203.4 1437.0 1202.0 1437.4 1199.1 1437.7 1195.7 1438.0 1191.0 1438.2 1189.3 1438.3 1186.9 1438.4 1182.8 1438.5 1180.2 1438.6 1176.7 1438.8 1173.9 1439.0 1170.5 1439.3 1167.7 1439.6 1163.9 1440.0 1162.5 1440.4 1158.0 1440.8 1154.6 1441.2 1152.2 1441.7 1148.8 1442.2 1145.9 1442.7 1142.5 1443.3 1137.9 1443.8 1134.3 1444.3 1131.4 1444.9 1129.5 1445.5 1125.8 1446.0 1124.6 1446.6 1120.5 1447.5 1116.1 1448.3 1113.4 1449.2 1110.2 1450.4 1107.0 1452.2 1103.9 1454.6 1102.7 1457.6 1100.6 1460.9 1100.3 1464.1 1099.1 1466.9 1100.3 1469.5 1101.5 1471.9 1103.4 1474.1 1106.3 1476.2 1108.2 1478.0 1111.7 1479.0 1114.4 1479.9 1117.8 1480.8 1119.4 1481.5 1122.1 1482.1 1125.4 1482.7 1130.1 1483.2 1131.6 1483.7 1135.1 1484.1 1140.2 1484.5 1142.1 1484.9 1146.7 1485.3 1148.3 1485.7 1151.1 1486.0 1155.1 1486.2 1157.6 1486.4 1160.2 1486.5 1164.6 1486.6 1166.6 1486.7 1170.5 1486.8 1172.7 1487.0 1177.0 1487.2 1181.1 1487.4 1181.7 1487.5 1184.7 1487.7 1187.6 1487.8 1190.9 1488.0 1193.5 1488.2 1198.1 1488.3 1201.1 1488.5 1203.4 1488.7 1208.1 1488.9 1211.0 1489.1 1213.6 1489.3 1217.0 1489.5 1219.5 1489.8 1223.4 1490.0 1226.0 1490.3 1230.1 1490.6 1232.4 1490.9 1235.9 1491.3 1237.9 1491.7 1241.0 1492.1 1245.0 1492.5 1247.1 1492.9 1250.7 1493.4 1253.5 1493.9 1256.4 1494.4 1259.4 1494.9 1263.6 1495.4 1266.2 1495.9 1270.1 1496.5 1273.1 1497.0 1275.1 1497.6 1278.8 1498.2 1280.9 1498.9 1283.8 1499.6 1288.9 1500.3 1291.8 1501.0 1295.6 1501.7 1297.3 1502.5 1302.0 1503.3 1305.2 1504.1 1308.9 1504.9 1311.8 1505.7 1313.3 1506.6 1316.7 1507.5 1317.2 1509.6 1321.9 1511.9 1326.6 1513.9 1326.8 1514.7 1326.9 1515.4 1324.7 1516.0 1323.1 1516.6 1319.6 1517.2 1317.1 1517.7 1312.7 1518.1 1308.8 1518.6 1306.4 1519.0 1302.0 1519.5 1296.9 1519.9 1294.9 1520.4 1290.3 1520.8 1287.1 1521.2 1284.4 1521.6 1282.4 1522.0 1279.2 1522.4 1274.1 1522.8 1271.3 1523.1 1269.4 1523.5 1265.2 1523.8 1262.8 1524.2 1258.4 1524.5 1255.8 1524.9 1251.8 1525.2 1250.0 1525.5 1248.0 1525.9 1244.1 1526.4 1240.8 1526.8 1237.3 1527.2 1233.5 1527.7 1229.8 1528.1 1226.5 1528.6 1223.8 1529.1 1221.4 1529.6 1221.6 1530.2 1220.2 1530.8 1222.7 1531.5 1226.8 1532.2 1230.5 1532.9 1234.5 1533.6 1237.5 1534.4 1241.9 1535.1 1244.2 1536.0 1248.7 1536.8 1251.8 1537.7 1254.3 1538.6 1256.8 1539.5 1261.0 1540.6 1263.3 1542.0 1266.8 1543.5 1268.2 1545.0 1270.5 1546.6 1274.4 1548.0 1277.3 1548.9 1281.0 1549.8 1284.3 1550.7 1286.2 1551.5 1289.4 1552.3 1292.1 1553.1 1295.4 1553.9 1298.6 1554.6 1301.9 1555.4 1305.2 1556.3 1308.3 1557.3 1313.5 1558.2 1316.3 1559.1 1319.9 1560.0 1322.1 1560.9 1324.3 1561.6 1322.6 1562.3 1321.2 1563.0 1318.6 1563.7 1316.1 1564.5 1313.8 1565.2 1309.8 1565.9 1306.1 1566.6 1302.0 1567.2 1298.7 1567.8 1293.0 1568.3 1291.5 1568.7 1288.6 1569.1 1284.6 1569.5 1281.4 1569.8 1277.1 1570.0 1274.9 1570.3 1272.0 1570.5 1269.0 1570.8 1265.8 1571.0 1262.7 1571.3 1258.4 1571.6 1255.8 1572.0 1253.9 1572.6 1249.6 1573.1 1247.1 1573.8 1243.6 1574.4 1241.1 1575.0 1238.8 1575.7 1234.9 1576.3 1232.2 1576.9 1229.1 1577.5 1226.1 1578.2 1223.4 1578.9 1220.8 1579.5 1217.6 1580.1 1214.9 1580.7 1212.2 1581.2 1207.2 1581.5 1206.0 1581.7 1202.0 1581.9 1198.6 1582.1 1196.5 1582.3 1193.6 1582.4 1190.5 1582.6 1188.1 1582.7 1183.1 1582.8 1179.4 1582.9 1176.3 1582.9 1173.4 1583.0 1171.1 1583.1 1167.2 1583.2 1163.6 1583.4 1160.8 1583.5 1157.8 1583.7 1152.8 1583.8 1151.0 1584.1 1147.6 1584.3 1144.1 1584.6 1141.4 1584.9 1138.6 1585.5 1136.7 1586.1 1130.7 1586.8 1126.3 1587.5 1123.7 1588.3 1119.1 1589.0 1117.6 1589.8 1114.9 1590.6 1112.4 1591.3 1111.3 1592.0 1113.4 1592.7 1113.7 1593.4 1117.4 1594.1 1120.6 1594.8 1124.2 1595.6 1128.8 1596.3 1132.7 1597.0 1136.8 1597.8 1140.4 1598.6 1143.2 1599.4 1146.1 1600.2 1148.7 1601.0 1153.4 1601.8 1156.8 1602.7 1159.9 1603.5 1161.1 1604.3 1164.2 1605.2 1166.2 1606.6 1171.4 1608.0 1173.4 1609.4 1176.1 1610.7 1180.5 1611.4 1181.6 1612.1 1185.0 1612.7 1187.9 1613.4 1190.1 1614.0 1194.3 1614.6 1197.1 1615.2 1199.5 1615.8 1203.9 1616.4 1206.4 1617.0 1210.1 1617.5 1214.2 1618.1 1216.1 1618.6 1220.7 1619.0 1221.8 1619.4 1225.7 1619.8 1227.8 1620.3 1231.5 1620.7 1233.8 1621.1 1237.1 1621.5 1241.6 1621.9 1244.2 1622.3 1247.2 1622.6 1250.6 1623.0 1254.2 1623.4 1255.5 1623.8 1259.6 1624.2 1263.1 1624.6 1265.5 1625.0 1269.1 1625.4 1272.6 1625.8 1276.2 1626.2 1277.6 1626.6 1282.7 1627.0 1285.6 1627.3 1288.7 1627.7 1290.6 1628.1 1293.9 1628.4 1297.1 1628.8 1302.1 1629.2 1304.1 1629.6 1308.0 1630.0 1311.6 1630.4 1314.3 1630.9 1316.3 1631.3 1320.1 1631.8 1322.7 1632.3 1324.5 1632.8 1326.7 1633.6 1331.4 1634.4 1333.3 1635.2 1336.3 1636.0 1339.5 1636.9 1343.2 1637.9 1345.0 1639.0 1348.0 1640.2 1351.6 1641.6 1354.9 1643.1 1357.3 1644.7 1361.5 1646.4 1363.2 1648.1 1367.7 1649.8 1370.2 1651.5 1371.6 1653.1 1372.0 1656.7 1370.5 1660.0 1368.5 1661.5 1366.4 1662.9 1362.4 1664.0 1359.5 1665.0 1356.7 1666.0 1351.5 1666.7 1349.5 1667.4 1346.6 1667.9 1343.6 1668.5 1340.1 1668.9 1338.2 1669.4 1334.0 1669.8 1330.7 1670.0 1326.6 1670.3 1326.0 1670.4 1321.6 1670.6 1318.4 1670.7 1315.2 1670.9 1313.5 1671.0 1309.2 1671.1 1306.3 1671.2 1302.0 1671.3 1299.0 1671.4 1295.8 1671.5 1292.7 1671.7 1288.3 1671.8 1284.9 1672.0 1282.6 1672.2 1280.1 1672.4 1276.9 1672.6 1274.5 1672.9 1272.6 1673.4 1267.7 1674.1 1263.5 1674.7 1258.7 1675.4 1256.7 1676.1 1253.0 1676.8 1250.9 1677.5 1250.6 1678.2 1249.8 1678.8 1253.1 1679.5 1255.4 1680.2 1259.9 1680.9 1264.2 1681.5 1268.6 1682.1 1272.3 1682.4 1275.3 1682.7 1277.0 1683.0 1280.4 1683.3 1283.8 1683.6 1285.7 1683.9 1288.5 1684.1 1292.4 1684.4 1295.3 1684.6 1299.6 1684.9 1303.3 1685.1 1306.5 1685.3 1310.4 1685.6 1313.7 1685.8 1315.0 1686.0 1319.0 1686.3 1321.7 1686.5 1324.0 1686.7 1327.1 1687.0 1330.6 1687.4 1333.2 1687.8 1338.3 1688.2 1339.5 1688.5 1343.3 1689.0 1346.3 1689.4 1349.6 1690.0 1352.7 1690.7 1356.1 1691.5 1361.4 1692.4 1364.5 1693.4 1367.6 1694.6 1369.9 1696.7 1367.2 1697.9 1365.0 1699.1 1361.7 1701.3 1359.3 1702.8 1360.3 1704.2 1364.0 1705.4 1369.6 1706.6 1372.4 1707.3 1376.2 1708.0 1378.9 1708.5 1380.8 1709.1 1382.5 1709.7 1387.5 1710.3 1391.3 1711.1 1393.1 1712.1 1396.4 1713.2 1399.9 1714.3 1404.8 1715.6 1406.9 1717.0 1410.0 1718.6 1413.3 1721.3 1416.6 1724.3 1418.3 1727.6 1420.0 1730.4 1420.4 1733.5 1420.8 1736.6 1421.0 1739.6 1423.4 1742.3 1423.1 1744.8 1427.5 1747.3 1426.4 1750.1 1427.7 1752.9 1430.0 1755.8 1429.2 1758.8 1429.6 1762.0 1429.1 1765.2 1429.1 1768.1 1430.5 1771.3 1430.4 1774.5 1430.8 1777.8 1431.1 1780.9 1430.5 1783.7 1428.4 1786.2 1428.5 1788.4 1424.8 1790.3 1424.0 1791.9 1418.7 1793.3 1413.9 1794.6 1414.0 1796.0 1411.6 1797.4 1413.6 1798.7 1416.6 1799.9 1420.5 1801.2 1424.7 1802.7 1428.6 1804.9 1432.4 1807.4 1433.9 1810.2 1436.1 1813.0 1435.2 1816.1 1433.9 1819.3 1435.5 1822.3 1435.2 1825.8 1433.6 1829.2 1429.6 1832.8 1429.5 1835.9 1426.8 1839.3 1427.8 1842.8 1426.7 1846.2 1424.0 1849.3 1423.9 1852.3 1421.0 1855.1 1418.2 1857.8 1414.6 1860.6 1414.4 1863.7 1414.4 1867.0 1419.5 1870.2 1421.4 1873.3 1420.0 1876.2 1420.3 1879.0 1417.9 1881.6 1418.0 1883.9 1415.4 1885.4 1411.7 1886.6 1409.9 1887.7 1406.3 1888.7 1403.9 1889.6 1400.9 1890.5 1395.7 1891.4 1393.9 1892.1 1390.9 1892.7 1389.0 1893.3 1384.8 1893.8 1381.3 1894.4 1377.2 1894.9 1374.7 1895.4 1371.0 1895.9 1369.4 1896.4 1365.9 1896.9 1364.0 1897.4 1359.5 1898.1 1356.4 1898.8 1352.7 1899.6 1349.6 1900.3 1345.7 1901.1 1341.4 1901.9 1343.0 1902.8 1342.4 1903.8 1345.0 1904.9 1347.1 1905.9 1351.5 1907.0 1356.8 1907.9 1359.5 1908.5 1361.9 1909.0 1365.0 1909.4 1371.2 1909.8 1373.6 1910.1 1377.1 1910.5 1380.7 1911.0 1385.9 1911.5 1389.2 1912.1 1392.3 1912.9 1393.5 1913.9 1393.6 1916.9 1394.6 1919.9 1394.4 1921.3 1390.3 1922.3 1387.8 1923.2 1381.7 1924.0 1377.6 1924.9 1375.3 1925.9 1374.8 1927.3 1376.0 1928.8 1379.3 1930.3 1383.3 1931.9 1386.1 1933.0 1391.2 1934.1 1393.7 1935.2 1396.4 1936.4 1401.2 1937.7 1402.8 1939.2 1405.1 1941.0 1407.8 1943.7 1409.2 1946.9 1411.6 1950.1 1409.3 1953.0 1410.2 1956.0 1409.4 1958.8 1405.2 1962.0 1406.1 1965.0 1405.2 1968.3 1405.8 1971.8 1407.9 1975.4 1408.8 1979.0 1410.2 1982.1 1409.9 1985.2 1408.2 1988.4 1409.6 1991.6 1408.7 1994.8 1407.3 1998.0 1406.5 2001.2 1406.0 2004.3 1405.2 2007.5 1402.9 2010.7 1405.0 2013.8 1404.0 2017.0 1403.4 2020.2 1402.2 2023.5 1399.7 2026.8 1402.0 2030.0 1401.6 2033.1 1398.5 2036.1 1397.5 2039.3 1397.0 2042.3 1394.0 2045.2 1391.5 2048.0 1388.5 2050.6 1388.7 2052.9 1390.5 2055.0 1392.3 2057.0 1396.0 2059.1 1400.1 2061.4 1401.0 2064.3 1402.1 2067.4 1404.6 2070.7 1405.1 2074.1 1405.0 2077.0 1405.4 2080.2 1406.6 2083.4 1405.2 2086.7 1403.9 2090.0 1403.8 2093.1 1402.5 2096.6 1402.5 2100.1 1401.2 2103.5 1400.0 2106.7 1399.8 2109.6 1399.7 2112.6 1400.3 2115.2 1404.0 2118.4 1406.3 2120.9 1404.4 2123.7 1403.9 2126.8 1404.0 2130.1 1404.1 2133.5 1403.5 2137.0 1402.3 2140.4 1402.8 2143.8 1401.5 2147.1 1401.7 2150.7 1402.4 2154.4 1403.4 2158.1 1403.9 2161.8 1402.7 2165.2 1403.6 2168.3 1404.4 2170.9 1403.5 2173.0 1400.1 2174.5 1397.7 2175.3 1396.2 2175.7 1393.9 2175.7 1390.6 2175.6 1385.4 2175.4 1381.4 2175.3 1376.6 2175.5 1373.6 2175.9 1371.4 2176.3 1367.6 2176.7 1362.2 2177.1 1358.1 2177.6 1353.2 2178.1 1352.5 2178.7 1351.6 2179.5 1353.5 2180.4 1356.6 2181.4 1357.8 2182.3 1364.0 2183.1 1368.2 2183.5 1371.0 2183.8 1372.7 2184.0 1376.9 2184.1 1380.5 2184.2 1385.4 2184.4 1389.3 2184.6 1391.7 2184.9 1394.5 2185.4 1398.4 2186.0 1400.4 2186.9 1402.7 2189.1 1406.0 2191.7 1407.6 2194.5 1409.2 2197.8 1410.3 2201.4 1410.1 2204.6 1411.7 2207.9 1415.1 2211.0 1418.9 2214.0 1417.1 2217.1 1412.7 2219.9 1412.6 2222.2 1410.6 2224.4 1407.0 2226.4 1405.9 2228.4 1406.2" stroke="#008000" clip-path="url(#clipR)"/>
<path d="M110.0 1234.6L111.8 1234.2 114.0 1233.6 116.0 1233.6 118.5 1233.7 121.4 1233.8 124.6 1233.5 128.0 1232.1 131.5 1232.7 135.0 1231.9 138.4 1231.5 141.6 1230.8 144.7 1230.7 147.8 1230.0 151.0 1229.6 154.1 1230.0 157.3 1229.4 160.4 1228.6 163.4 1228.1 166.4 1228.0 169.3 1227.4 172.7 1226.2 176.0 1225.4 179.3 1224.3 182.5 1222.3 185.6 1222.0 188.6 1220.0 191.4 1218.5 194.1 1216.4 196.6 1213.8 199.0 1212.1 201.3 1209.6 203.7 1207.6 206.2 1205.4 208.7 1203.7 211.3 1201.8 213.9 1199.9 216.6 1198.3 219.3 1196.3 222.0 1194.1 224.6 1192.9 227.2 1190.5 229.9 1188.7 232.5 1185.8 235.1 1183.9 237.7 1181.7 240.3 1179.4 243.0 1178.0 245.7 1175.8 248.4 1174.0 251.2 1171.3 254.0 1169.9 256.7 1168.2 259.2 1166.1 261.5 1164.8 264.7 1162.4 267.5 1160.7 270.7 1158.1 273.4 1157.6 276.6 1155.8 279.9 1154.9 283.2 1153.5 286.3 1151.3 289.1 1151.1 292.3 1149.2 295.1 1146.9 298.3 1145.9 300.8 1144.7 303.4 1142.6 306.2 1141.1 309.0 1140.3 312.0 1138.3 314.9 1138.4 317.8 1139.0 320.8 1139.6 323.9 1140.6 327.0 1141.7 330.0 1142.6 332.7 1144.5 335.2 1145.5 338.4 1147.6 341.2 1149.8 344.4 1151.7 347.1 1152.4 350.3 1154.0 353.6 1154.5 357.0 1154.7 360.1 1156.0 362.8 1156.9 365.4 1158.9 367.5 1160.2 369.6 1163.0 372.1 1164.8 374.8 1165.7 377.9 1167.0 381.3 1169.0 384.6 1169.6 387.7 1170.5 390.5 1172.4 393.7 1173.3 396.5 1175.6 399.7 1177.5 402.1 1178.5 404.8 1180.0 407.6 1180.8 410.6 1181.7 413.7 1182.0 416.9 1183.8 420.0 1185.3 422.9 1185.9 425.9 1187.6 428.9 1188.4 432.0 1189.9 435.1 1190.4 438.3 1192.5 441.4 1193.6 444.5 1194.6 447.6 1196.5 450.4 1197.5 453.1 1198.8 455.9 1199.5 458.7 1201.7 461.4 1202.2 464.2 1204.5 466.9 1204.8 469.7 1207.0 472.5 1208.3 475.3 1208.4 478.3 1209.6 481.4 1210.8 484.5 1211.7 487.5 1212.2 490.6 1213.0 493.7 1214.5 496.8 1214.6 499.9 1215.4 503.0 1216.6 506.1 1216.1 509.2 1217.7 512.4 1217.4 515.6 1217.7 518.7 1218.5 521.8 1219.0 524.8 1219.0 527.8 1218.9 530.6 1219.0 533.9 1218.9 537.2 1218.1 540.3 1218.8 543.3 1217.2 546.2 1217.5 549.0 1215.8 551.9 1215.3 554.7 1213.5 557.3 1211.4 559.7 1209.3 561.9 1206.8 563.5 1204.9 564.8 1201.7 566.1 1198.5 567.2 1196.5 568.3 1193.1 569.2 1189.9 570.2 1186.7 571.2 1183.1 572.1 1179.8 572.9 1176.4 573.7 1174.2 574.4 1170.2 575.1 1167.3 575.8 1164.2 576.5 1160.8 577.2 1158.1 577.8 1154.9 578.5 1151.3 579.2 1148.2 579.8 1145.4 580.4 1141.8 580.9 1138.8 581.5 1135.5 582.1 1131.8 582.7 1129.1 583.3 1126.9 584.0 1124.4 585.2 1120.6 586.5 1117.5 588.0 1115.1 590.1 1113.7 592.4 1113.1 594.8 1113.9 597.0 1115.7 598.9 1119.8 600.6 1123.9 601.7 1127.1 602.9 1129.7 604.2 1133.0 605.4 1136.2 606.7 1138.7 608.0 1142.7 609.2 1146.0 610.4 1149.3 611.5 1152.5 612.7 1155.3 614.0 1159.2 615.4 1160.8 618.1 1162.2 620.9 1164.7 622.7 1167.4 624.2 1172.3 625.8 1175.3 627.4 1177.9 628.4 1176.0 629.4 1174.9 630.5 1170.6 631.5 1167.7 632.6 1163.0 633.6 1159.2 634.6 1155.1 635.6 1152.2 636.6 1149.6 637.5 1148.4 638.6 1149.6 639.6 1152.3 640.5 1154.4 641.5 1158.4 642.4 1162.8 643.2 1165.9 644.0 1169.9 644.6 1173.0 645.1 1175.9 645.6 1178.7 646.0 1182.4 646.4 1185.3 646.8 1188.4 647.3 1191.8 647.9 1195.0 648.6 1197.9 649.5 1201.3 650.5 1204.5 651.6 1207.2 652.8 1210.5 654.2 1214.0 656.0 1216.3 658.2 1218.6 660.6 1220.8 663.3 1223.5 666.3 1225.9 669.3 1227.9 672.5 1229.3 675.2 1230.1 677.9 1230.8 680.8 1231.6 683.8 1231.2 686.9 1232.2 690.0 1232.7 693.2 1231.9 696.5 1232.9 699.5 1232.8 702.8 1232.6 706.3 1233.1 709.9 1233.3 713.5 1233.2 717.0 1234.0 720.4 1233.3 723.5 1233.0 726.3 1233.6 728.7 1233.9 730.6 1233.5 732.8 1233.4 734.6 1233.3" stroke="#ff0000" clip-path="url(#clipL)"/>
<path d="M762.5 1232.9L764.3 1232.9 766.5 1232.5 768.6 1231.9 771.2 1231.5 774.2 1231.7 777.5 1231.1 780.9 1231.2 784.3 1229.8 787.6 1229.2 790.6 1228.7 793.6 1228.6 796.8 1227.9 800.0 1226.9 803.2 1226.6 806.4 1225.3 809.5 1224.4 812.5 1224.2 815.3 1223.6 818.6 1221.9 821.8 1221.8 824.8 1220.8 827.8 1219.4 830.8 1217.8 833.7 1217.1 836.5 1215.4 839.2 1213.4 841.9 1211.4 844.6 1209.0 847.2 1206.9 849.7 1205.5 852.2 1202.8 854.8 1200.5 857.4 1198.0 859.9 1195.8 862.4 1193.1 864.7 1190.9 866.9 1187.8 869.0 1185.2 871.0 1183.0 872.9 1179.8 874.7 1177.5 876.4 1174.2 878.0 1171.9 879.5 1168.4 880.8 1165.6 882.0 1162.6 883.1 1159.5 884.2 1156.0 885.3 1152.8 886.3 1149.9 887.3 1147.3 888.3 1144.3 889.2 1140.5 890.1 1137.7 890.9 1134.7 891.7 1131.7 892.6 1128.9 893.3 1126.6 894.0 1123.3 894.6 1119.6 895.0 1116.6 895.3 1113.7 895.5 1110.9 895.7 1107.1 895.9 1103.8 896.1 1099.8 896.4 1096.2 896.6 1094.1 896.9 1091.0 897.2 1087.6 897.4 1085.3 897.7 1081.4 898.0 1078.6 898.4 1075.3 898.7 1072.1 899.0 1069.0 899.4 1066.2 899.7 1062.8 900.1 1059.8 900.5 1056.2 900.9 1053.6 901.4 1049.6 901.8 1047.1 902.3 1043.3 902.8 1040.0 903.2 1037.4 903.7 1033.4 904.2 1030.7 904.7 1028.4 905.1 1025.2 905.6 1022.9 906.2 1019.1 906.9 1015.8 907.5 1013.7 908.2 1010.4 909.0 1008.3 910.0 1005.6 910.9 1003.6 913.0 1000.4 915.0 1003.6 916.0 1005.3 917.0 1008.0 918.1 1010.5 919.2 1013.6 920.3 1016.3 921.3 1019.2 922.2 1023.1 922.7 1025.6 923.2 1028.0 923.6 1030.7 924.0 1033.4 924.4 1037.4 924.8 1039.8 925.1 1043.1 925.4 1047.0 925.7 1049.6 926.1 1053.1 926.4 1056.1 926.8 1059.1 927.2 1062.6 927.6 1065.9 928.0 1068.8 928.4 1072.6 928.8 1075.5 929.3 1078.4 929.7 1082.0 930.0 1085.2 930.4 1088.3 930.8 1090.7 931.1 1093.4 931.4 1096.5 931.7 1100.5 932.0 1103.2 932.2 1107.3 932.5 1109.8 932.7 1112.9 933.0 1116.6 933.3 1120.4 933.6 1122.8 933.9 1125.9 934.2 1128.8 934.5 1132.2 934.9 1135.6 935.3 1138.8 935.8 1142.3 936.3 1145.1 937.0 1147.7 937.9 1150.7 939.0 1154.7 940.1 1157.6 941.4 1159.9 942.8 1163.6 944.3 1165.7 946.0 1168.9 947.8 1171.0 949.8 1173.2 951.8 1176.1 953.7 1178.8 955.4 1181.1 957.4 1184.1 959.2 1186.9 960.9 1190.7 962.8 1193.8 964.5 1197.0 966.2 1199.8 967.9 1203.2 969.9 1205.9 972.0 1208.5 975.4 1211.2 979.1 1212.8 983.0 1212.9 986.2 1212.8 989.5 1211.5 992.8 1209.3 996.0 1208.9 999.7 1207.9 1003.3 1208.4 1007.0 1209.6 1009.9 1208.6 1012.9 1211.8 1015.9 1213.5 1018.9 1214.6 1021.8 1216.3 1024.3 1218.6 1026.7 1222.3 1029.0 1224.8 1031.4 1225.2 1033.8 1228.5 1036.5 1230.4 1039.3 1231.4 1042.2 1234.6 1045.3 1235.0 1048.4 1235.2 1051.6 1238.0 1054.9 1237.0 1058.1 1239.3 1061.4 1238.8 1064.9 1238.9 1068.3 1241.2 1071.8 1241.1 1075.2 1241.4 1078.4 1240.9 1081.6 1239.9 1084.7 1239.9 1087.8 1240.7 1090.8 1240.1 1093.8 1238.6 1096.9 1238.5 1100.0 1237.1 1103.0 1238.0 1106.1 1237.1 1109.2 1236.8 1112.3 1236.5 1115.3 1234.3 1118.4 1235.2 1121.5 1234.6 1124.7 1232.3 1127.8 1231.7 1130.8 1229.8 1133.7 1229.9 1136.9 1227.9 1140.1 1227.9 1143.1 1225.3 1146.0 1224.5 1148.5 1222.7 1150.5 1219.9 1152.3 1216.5 1153.9 1214.5 1155.4 1210.2 1156.6 1207.6 1157.7 1204.3 1158.9 1202.3 1159.8 1197.6 1160.5 1195.7 1160.8 1191.5 1161.1 1188.9 1161.2 1187.2 1161.3 1183.7 1161.5 1180.1 1161.7 1176.7 1162.0 1172.7 1162.5 1169.6 1163.2 1167.0 1164.7 1164.4 1166.4 1160.0 1168.5 1158.3 1170.6 1157.0 1172.7 1157.4 1175.0 1158.7 1177.4 1161.4 1179.7 1165.1 1181.7 1167.6 1183.4 1170.9 1184.8 1172.8 1186.0 1176.0 1187.4 1179.8 1189.0 1181.9 1191.1 1185.3 1193.3 1188.7 1195.6 1189.5 1198.2 1190.9 1201.4 1191.8 1205.0 1189.8 1208.4 1186.4 1211.2 1183.0 1212.5 1181.7 1213.5 1178.8 1214.3 1175.3 1214.8 1172.5 1215.4 1168.8 1216.0 1165.8 1216.7 1164.5 1217.8 1160.0 1218.8 1155.1 1219.9 1153.3 1221.1 1149.6 1222.2 1148.5 1223.6 1150.8 1224.9 1154.3 1226.3 1157.7 1227.7 1161.6 1228.8 1165.2 1229.9 1169.5 1231.1 1174.2 1232.2 1176.5 1233.2 1179.0 1234.2 1179.2 1235.1 1180.3 1235.8 1176.9 1236.5 1173.3 1237.2 1168.3 1238.0 1164.3 1238.8 1161.6 1240.1 1157.3 1241.4 1153.6 1242.9 1149.8 1244.3 1148.3 1245.7 1148.6 1247.0 1152.8 1248.5 1156.1 1249.9 1161.0 1251.7 1163.6 1253.6 1166.6 1255.4 1168.4 1256.4 1168.8 1257.4 1166.7 1258.3 1163.7 1259.3 1159.4 1260.2 1155.4 1261.1 1151.1 1262.0 1149.3 1262.8 1144.7 1263.6 1141.2 1264.4 1138.1 1265.1 1137.0 1265.8 1133.0 1266.6 1130.0 1267.4 1126.9 1268.3 1124.2 1269.8 1120.7 1271.4 1116.4 1273.1 1114.0 1274.7 1112.2 1275.8 1112.5 1277.0 1114.8 1278.0 1117.7 1279.1 1122.5 1280.1 1126.7 1281.2 1129.5 1282.0 1132.9 1282.9 1136.9 1283.7 1138.2 1284.5 1142.0 1285.3 1144.7 1286.1 1148.9 1286.9 1152.1 1287.7 1155.0 1288.6 1158.0 1289.6 1161.3 1290.6 1164.5 1291.6 1167.4 1292.6 1172.6 1293.6 1175.4 1294.8 1177.8 1296.0 1179.8 1298.0 1183.5 1300.1 1185.4 1302.4 1188.5 1304.3 1186.0 1306.2 1185.5 1308.3 1182.6 1310.4 1179.7 1312.5 1176.3 1315.6 1173.3 1318.8 1172.1 1321.8 1169.5 1323.8 1167.7 1325.8 1163.1 1327.6 1161.5 1329.4 1157.7 1331.0 1155.2 1332.1 1151.2 1333.1 1148.6 1334.0 1146.6 1334.9 1143.2 1335.7 1139.1 1336.6 1136.6 1337.4 1133.9 1338.3 1129.8 1339.2 1127.5 1340.2 1123.1 1341.1 1119.0 1342.1 1116.3 1343.1 1111.9 1344.0 1108.6 1344.9 1106.3 1345.7 1106.1 1346.5 1108.0 1347.2 1108.7 1347.9 1111.6 1348.5 1116.2 1349.2 1120.3 1349.8 1124.0 1350.5 1126.7 1351.2 1130.5 1351.9 1133.1 1352.6 1136.8 1353.3 1140.0 1354.1 1143.3 1354.9 1146.4 1355.8 1148.3 1356.8 1151.8 1359.2 1152.8 1362.0 1154.2 1365.5 1154.6 1369.2 1154.3 1370.7 1152.9 1372.3 1150.3 1373.8 1149.0 1375.4 1145.1 1376.9 1142.6 1378.3 1139.2 1379.7 1135.8 1380.9 1133.7 1382.1 1130.1 1383.0 1126.6 1383.8 1124.9 1384.6 1120.8 1385.2 1117.7 1385.8 1114.4 1386.4 1112.7 1386.9 1109.2 1387.4 1106.5 1387.9 1102.0 1388.4 1100.3 1388.9 1096.9 1389.5 1093.0 1390.1 1090.4 1390.7 1086.7 1391.2 1083.8 1391.7 1080.0 1392.3 1075.5 1392.8 1073.2 1393.5 1070.1 1394.2 1067.5 1395.0 1065.5 1397.3 1063.0 1399.6 1060.8 1400.7 1060.8 1401.7 1063.5 1402.6 1067.8 1403.4 1071.3 1404.2 1075.7 1404.6 1078.1 1405.0 1079.1 1405.4 1082.4 1405.7 1085.9 1405.9 1088.7 1406.2 1092.0 1406.4 1096.6 1406.7 1099.9 1407.0 1104.0 1407.3 1105.8 1407.7 1110.4 1408.1 1113.2 1408.6 1115.9 1409.1 1119.0 1409.8 1121.9 1411.1 1125.2 1412.4 1129.7 1414.0 1132.2 1415.6 1137.4 1417.3 1138.4 1419.0 1140.3 1420.7 1138.3 1422.6 1137.5 1424.6 1135.1 1426.5 1131.3 1428.3 1127.1 1430.0 1125.4 1431.2 1122.9 1432.3 1118.9 1433.4 1115.9 1434.3 1113.6 1435.3 1110.5 1436.1 1107.6 1437.0 1103.4 1437.8 1099.3 1438.5 1096.0 1439.3 1094.2 1440.0 1089.3 1440.7 1087.8 1441.3 1084.1 1441.9 1082.1 1442.5 1078.5 1443.0 1074.0 1443.6 1071.7 1444.2 1068.5 1444.8 1066.7 1445.4 1063.2 1446.0 1058.9 1446.5 1056.7 1447.0 1052.2 1447.6 1049.5 1448.3 1045.5 1449.2 1044.4 1450.3 1041.6 1452.5 1039.3 1455.1 1038.4 1457.7 1035.6 1460.8 1034.4 1463.9 1031.1 1466.9 1030.0 1468.9 1030.1 1470.9 1031.9 1472.7 1037.2 1474.5 1041.0 1476.1 1042.7 1477.4 1045.6 1478.5 1048.7 1479.6 1052.9 1480.7 1055.6 1481.7 1060.2 1482.6 1061.5 1483.5 1065.0 1484.2 1069.1 1484.9 1071.9 1485.6 1074.2 1486.2 1078.0 1486.7 1081.0 1487.3 1083.2 1487.9 1088.1 1488.4 1090.2 1489.0 1092.8 1489.5 1095.9 1489.9 1098.4 1490.4 1103.0 1490.8 1105.1 1491.2 1108.6 1491.6 1111.8 1492.0 1114.2 1492.5 1118.2 1492.9 1122.1 1493.4 1124.9 1494.0 1128.4 1494.6 1129.8 1495.3 1133.8 1496.0 1135.9 1496.7 1139.7 1497.4 1142.4 1498.2 1147.1 1499.1 1149.6 1499.9 1153.1 1500.8 1155.0 1501.8 1158.4 1502.8 1160.8 1503.8 1164.3 1505.2 1166.4 1506.7 1169.8 1508.3 1174.9 1509.9 1176.8 1511.6 1181.7 1513.1 1184.3 1514.6 1186.3 1515.8 1185.2 1516.8 1183.9 1517.6 1183.0 1518.3 1180.6 1519.0 1177.7 1519.5 1172.6 1520.1 1169.9 1520.7 1164.2 1521.4 1161.3 1522.2 1158.5 1523.1 1154.8 1524.1 1151.4 1525.1 1148.0 1526.2 1143.3 1527.3 1138.8 1528.3 1137.5 1529.4 1135.9 1530.5 1134.4 1532.0 1134.8 1533.4 1138.2 1535.0 1142.9 1537.0 1146.5 1538.9 1150.2 1541.2 1151.1 1543.7 1153.4 1546.4 1155.5 1549.0 1158.3 1551.4 1161.7 1553.5 1164.6 1555.7 1167.9 1557.7 1170.6 1559.5 1174.4 1561.2 1178.2 1562.8 1177.9 1563.8 1177.4 1564.7 1175.6 1565.4 1171.6 1566.1 1166.9 1566.8 1162.5 1567.7 1160.6 1568.8 1157.5 1570.1 1154.7 1573.1 1153.2 1576.6 1152.5 1579.4 1152.4 1580.7 1149.0 1581.4 1146.5 1581.7 1142.6 1582.2 1138.4 1583.0 1134.4 1585.2 1131.2 1588.0 1127.7 1591.9 1130.0 1594.0 1129.8 1596.0 1132.7 1597.6 1134.7 1598.9 1137.9 1600.2 1140.5 1601.4 1144.3 1602.6 1146.7 1603.9 1151.0 1605.2 1155.3 1606.3 1158.1 1607.3 1159.6 1608.3 1163.2 1609.3 1166.0 1610.4 1170.7 1611.5 1172.1 1612.6 1176.2 1613.8 1178.6 1615.1 1182.2 1616.6 1184.7 1618.1 1184.9 1620.8 1188.6 1623.8 1190.2 1626.9 1190.6 1630.0 1192.8 1632.8 1192.2 1636.0 1194.2 1639.0 1195.0 1642.0 1196.7 1644.8 1198.3 1647.6 1200.4 1650.5 1202.1 1653.1 1202.3 1656.7 1202.8 1660.0 1202.5 1661.5 1200.4 1663.0 1197.8 1664.2 1193.8 1665.4 1191.7 1666.4 1189.3 1667.4 1185.3 1668.2 1183.0 1668.9 1180.1 1669.4 1175.5 1669.9 1172.4 1670.4 1169.6 1671.1 1167.3 1672.2 1163.2 1673.3 1159.5 1674.5 1156.2 1675.7 1154.6 1676.9 1155.6 1678.0 1158.8 1679.2 1162.2 1680.3 1165.8 1681.1 1169.8 1681.8 1173.9 1682.5 1175.6 1683.3 1179.8 1684.0 1182.0 1684.9 1186.2 1685.8 1189.1 1686.9 1192.5 1688.0 1196.4 1689.1 1199.4 1690.4 1202.3 1691.7 1205.7 1693.2 1206.6 1695.4 1204.9 1697.8 1201.2 1700.2 1197.8 1702.4 1195.5 1703.8 1198.4 1705.1 1198.5 1706.2 1202.3 1707.3 1205.8 1708.5 1210.8 1709.8 1213.1 1711.4 1217.2 1713.1 1218.7 1714.9 1222.2 1716.8 1223.9 1719.0 1225.1 1721.5 1228.4 1724.2 1231.5 1727.1 1230.8 1730.3 1234.5 1733.7 1236.5 1736.3 1234.8 1739.2 1235.8 1742.3 1237.8 1745.4 1237.1 1748.7 1235.8 1751.9 1236.0 1755.2 1237.5 1758.4 1236.3 1761.4 1236.8 1765.0 1235.0 1768.7 1236.0 1772.4 1236.3 1776.0 1235.3 1779.4 1236.8 1782.6 1234.5 1785.3 1234.5 1787.9 1232.3 1790.1 1229.7 1792.0 1225.6 1793.7 1223.3 1795.5 1220.6 1797.2 1222.4 1798.8 1226.1 1800.3 1231.0 1801.9 1234.9 1803.8 1237.7 1806.5 1238.0 1809.5 1240.5 1813.0 1243.0 1815.7 1243.3 1818.7 1240.6 1822.0 1241.3 1825.4 1239.7 1828.8 1237.9 1832.1 1237.4 1835.1 1236.6 1838.3 1238.8 1841.4 1235.5 1844.4 1237.1 1847.2 1236.9 1849.9 1235.3 1852.8 1231.9 1855.5 1230.8 1858.1 1227.1 1860.9 1227.2 1864.5 1228.7 1868.3 1229.9 1872.0 1231.0 1874.7 1230.1 1877.4 1228.8 1880.2 1227.3 1882.7 1224.0 1884.9 1221.3 1886.6 1219.3 1888.0 1218.5 1889.2 1214.3 1890.3 1211.2 1891.3 1208.8 1892.3 1204.5 1893.2 1202.1 1893.9 1198.6 1894.6 1196.9 1895.3 1193.0 1895.9 1189.1 1896.5 1187.0 1897.1 1183.0 1897.8 1178.3 1899.0 1175.2 1900.2 1171.8 1901.5 1168.3 1902.8 1171.8 1904.3 1174.4 1905.7 1178.5 1907.0 1182.0 1907.7 1185.8 1908.2 1186.4 1908.7 1189.0 1909.2 1194.2 1909.7 1197.5 1910.1 1201.9 1910.6 1203.5 1911.1 1205.8 1911.8 1209.9 1912.5 1211.5 1914.2 1213.3 1916.2 1213.3 1918.3 1214.1 1920.7 1210.3 1923.1 1206.6 1925.4 1203.1 1927.3 1206.4 1929.0 1209.4 1930.8 1211.6 1932.8 1215.7 1934.6 1217.1 1936.6 1221.0 1938.6 1222.0 1940.8 1225.7 1943.2 1225.9 1945.7 1227.6 1948.5 1227.9 1951.4 1230.2 1954.5 1230.5 1957.7 1231.3 1960.9 1229.5 1964.1 1231.5 1967.3 1229.9 1970.4 1228.4 1973.6 1228.6 1976.7 1228.6 1980.0 1228.7 1983.3 1228.0 1986.5 1227.9 1989.8 1226.3 1993.2 1226.2 1996.6 1226.0 2000.0 1226.3 2003.4 1224.2 2006.7 1223.3 2009.6 1223.1 2012.6 1223.4 2015.6 1222.1 2018.5 1220.4 2021.5 1219.8 2024.4 1218.4 2027.2 1220.2 2030.0 1216.8 2033.1 1216.1 2036.1 1213.9 2039.2 1212.0 2042.1 1211.6 2045.0 1209.5 2047.7 1208.8 2050.2 1207.0 2053.2 1209.7 2055.9 1210.5 2058.4 1213.7 2061.1 1215.5 2063.5 1216.0 2065.9 1218.3 2068.3 1222.3 2070.8 1222.8 2073.5 1224.2 2076.4 1224.9 2079.5 1223.6 2082.6 1223.2 2085.9 1222.7 2089.1 1224.2 2092.2 1223.1 2095.5 1219.0 2098.8 1217.9 2102.1 1217.6 2105.1 1215.9 2107.7 1215.1 2111.5 1218.6 2115.5 1220.4 2118.1 1221.0 2121.1 1220.9 2124.4 1221.3 2127.9 1221.4 2131.6 1222.7 2135.2 1220.8 2138.8 1221.7 2142.1 1221.7 2145.6 1221.9 2149.3 1221.0 2153.0 1220.5 2156.7 1220.2 2160.1 1221.7 2163.3 1222.0 2166.1 1219.0 2168.4 1217.2 2170.1 1214.5 2171.3 1212.5 2172.1 1209.3 2172.7 1205.9 2173.0 1204.4 2173.3 1198.6 2173.6 1197.5 2174.0 1193.5 2174.6 1189.6 2175.7 1186.7 2176.9 1182.4 2178.1 1178.4 2179.3 1178.5 2180.5 1179.5 2181.7 1181.2 2182.9 1184.7 2184.0 1189.9 2184.7 1193.9 2185.2 1196.7 2185.7 1201.0 2186.2 1203.4 2187.2 1207.2 2188.6 1211.3 2191.2 1211.3 2194.5 1214.1 2197.9 1216.5 2201.2 1217.6 2205.0 1216.2 2208.8 1211.5 2212.0 1212.3 2214.3 1214.0 2216.2 1219.2 2218.2 1220.5 2221.3 1219.8 2224.4 1217.1 2226.5 1215.0 2228.4 1212.4" stroke="#ff0000" clip-path="url(#clipR)"/>
<path d="M110.0 1107.5L111.7 1107.0 114.0 1106.9 115.7 1106.9 117.8 1107.0 120.3 1106.9 123.2 1106.9 126.4 1105.9 129.8 1106.2 133.4 1105.8 137.1 1105.5 140.8 1105.5 144.5 1105.3 148.0 1104.4 151.4 1104.7 154.6 1103.7 157.5 1104.1 160.1 1102.9 163.7 1102.5 166.9 1102.2 169.9 1101.0 172.8 1100.5 175.6 1099.4 178.5 1097.8 181.2 1096.6 183.8 1095.4 186.3 1093.4 188.9 1091.8 191.5 1089.9 194.2 1088.2 197.0 1086.4 199.3 1085.2 201.7 1084.0 204.2 1082.0 206.7 1080.3 209.2 1079.2 211.8 1077.3 214.4 1075.8 217.0 1073.7 219.5 1072.3 222.1 1069.9 224.6 1068.1 227.1 1066.9 229.6 1065.1 232.2 1062.6 234.7 1060.6 237.2 1059.2 239.7 1056.8 242.2 1055.5 244.7 1053.5 247.2 1051.5 249.8 1049.4 252.3 1047.6 255.1 1046.5 257.9 1044.9 260.7 1042.6 263.5 1041.1 266.4 1039.1 269.2 1037.9 272.0 1035.5 274.7 1034.7 277.3 1033.2 279.9 1031.3 283.2 1029.5 286.3 1028.1 289.4 1027.0 292.4 1025.3 295.3 1024.1 298.3 1022.3 301.1 1020.9 303.8 1018.3 306.5 1016.4 309.2 1014.2 312.0 1012.9 314.9 1012.5 317.7 1012.5 320.5 1013.2 323.4 1014.7 326.4 1016.0 329.4 1017.1 332.3 1018.8 335.2 1020.9 338.3 1021.6 341.3 1022.1 344.3 1023.0 347.3 1023.8 350.4 1024.6 353.6 1026.4 356.2 1026.9 358.8 1028.5 361.5 1029.5 364.3 1031.4 367.1 1033.3 369.9 1035.0 372.8 1036.5 375.6 1038.2 378.5 1039.4 381.3 1040.6 384.4 1042.4 387.6 1043.5 390.9 1044.6 394.2 1046.4 397.4 1047.5 400.6 1048.6 403.6 1049.9 406.4 1050.9 408.9 1051.7 412.8 1052.2 416.1 1053.3 420.0 1053.4 422.5 1054.6 425.3 1055.5 428.3 1057.0 431.5 1058.1 434.7 1059.2 438.0 1060.4 441.3 1062.4 444.5 1063.6 447.6 1064.8 450.4 1065.9 453.1 1067.1 455.9 1068.6 458.7 1070.1 461.4 1071.0 464.2 1072.4 466.9 1074.4 469.7 1075.6 472.5 1076.7 475.3 1078.3 478.3 1078.9 481.4 1079.9 484.5 1081.4 487.5 1081.6 490.6 1082.6 493.7 1083.9 496.8 1084.7 499.9 1085.2 503.0 1086.5 506.1 1086.4 509.2 1087.4 512.4 1088.0 515.5 1087.6 518.7 1088.4 521.8 1088.4 524.8 1088.6 527.8 1088.9 530.6 1089.0 534.0 1088.6 537.2 1088.1 540.4 1087.7 543.4 1087.8 546.3 1086.8 549.0 1085.7 551.6 1083.5 553.9 1081.6 556.1 1078.7 558.2 1076.9 560.1 1073.6 561.9 1070.8 563.0 1067.7 564.1 1065.2 565.0 1063.0 565.8 1059.3 566.6 1056.6 567.3 1053.4 568.0 1050.0 568.7 1046.9 569.3 1043.0 569.9 1040.5 570.5 1037.0 571.2 1033.2 571.8 1030.4 572.3 1027.9 572.9 1024.6 573.4 1021.6 573.9 1018.5 574.4 1015.7 574.9 1012.7 575.4 1009.2 575.9 1006.6 576.3 1003.1 576.8 1000.1 577.2 996.8 577.6 993.6 578.1 990.2 578.5 987.3 578.9 984.0 579.3 981.3 579.7 978.0 580.1 974.7 580.5 971.5 580.8 968.4 581.2 964.7 581.5 961.4 581.9 959.0 582.2 955.5 582.6 952.2 582.9 949.7 583.3 947.1 583.6 944.3 584.0 941.4 584.5 937.6 585.1 934.8 585.6 931.2 586.1 928.5 586.7 925.7 587.3 922.4 588.0 919.7 589.3 915.3 590.8 911.4 592.4 909.8 594.0 911.7 595.6 914.6 597.0 917.5 598.1 920.8 598.9 924.7 599.7 928.3 600.6 932.4 601.2 934.6 601.8 937.3 602.4 940.4 603.0 943.5 603.6 946.7 604.3 949.9 604.9 952.9 605.5 956.2 606.2 959.8 606.7 963.2 607.2 966.1 607.7 969.3 608.2 972.5 608.7 976.5 609.2 979.7 609.7 983.9 610.3 986.5 610.9 990.0 611.7 992.9 612.5 995.2 613.5 996.6 615.9 998.8 618.5 1000.3 620.9 1002.3 622.0 1004.7 623.0 1008.2 623.8 1012.1 624.6 1016.3 625.3 1019.8 625.9 1022.8 626.6 1025.7 627.4 1025.9 628.0 1025.5 628.6 1023.8 629.1 1021.5 629.7 1019.0 630.3 1015.0 630.9 1010.8 631.5 1007.0 632.1 1002.6 632.6 997.3 633.2 993.2 633.8 988.9 634.4 985.9 634.9 983.1 635.5 980.2 636.1 978.9 636.6 978.7 637.3 978.7 638.1 980.2 638.8 983.2 639.6 986.6 640.3 990.3 641.0 994.5 641.7 997.8 642.4 1002.3 643.0 1005.9 643.4 1008.8 643.9 1011.9 644.2 1014.6 644.6 1017.3 644.9 1020.6 645.3 1023.6 645.6 1027.2 645.9 1030.5 646.2 1034.1 646.6 1037.1 646.9 1039.9 647.3 1043.5 647.7 1045.8 648.1 1048.7 648.6 1052.1 649.2 1054.9 649.7 1058.8 650.2 1062.2 650.8 1065.3 651.4 1067.7 652.0 1071.3 652.8 1073.7 653.7 1076.8 654.8 1078.7 656.0 1081.0 657.8 1084.2 659.8 1087.1 662.1 1089.6 664.5 1092.3 667.0 1094.4 669.7 1096.4 672.5 1098.5 675.1 1099.7 677.9 1100.4 680.8 1100.7 683.8 1101.6 686.9 1101.8 690.0 1103.0 693.2 1103.0 696.5 1103.7 699.5 1104.4 702.8 1103.9 706.2 1104.6 709.8 1104.5 713.5 1105.2 717.0 1105.1 720.4 1105.4 723.5 1104.7 726.3 1105.7 728.7 1105.2 730.6 1105.2 732.8 1105.1 734.6 1105.5" stroke="#0000ff" clip-path="url(#clipL)"/>
<path d="M762.5 1105.9L764.3 1106.1 766.5 1105.7 768.6 1104.9 771.2 1104.7 774.3 1104.2 777.5 1103.9 780.9 1103.2 784.3 1102.5 787.6 1102.4 790.6 1101.5 793.7 1100.0 796.8 1099.3 800.0 1098.2 803.2 1097.5 806.4 1096.0 809.5 1094.9 812.5 1093.6 815.3 1092.5 818.6 1091.5 821.8 1090.3 824.9 1089.0 827.8 1087.5 830.8 1085.3 833.7 1084.0 836.1 1082.0 838.5 1079.5 840.9 1078.0 843.3 1075.9 845.6 1074.1 847.9 1071.0 850.1 1069.1 852.2 1067.0 854.5 1065.0 856.8 1061.7 858.9 1060.0 861.1 1056.7 863.1 1053.9 865.0 1051.8 866.9 1048.3 868.5 1046.3 870.1 1042.6 871.6 1039.8 873.0 1037.1 874.3 1033.4 875.6 1030.3 876.8 1028.1 878.0 1024.7 879.1 1021.8 880.1 1018.8 881.1 1016.0 882.0 1013.3 882.9 1009.5 883.7 1007.0 884.5 1003.4 885.3 1001.1 885.9 998.0 886.5 994.8 887.1 991.9 887.6 989.4 888.2 986.1 888.7 982.7 889.1 980.0 889.6 976.8 890.0 974.0 890.5 970.5 890.9 967.2 891.3 964.5 891.7 961.2 892.0 958.8 892.3 955.8 892.7 952.1 893.0 949.3 893.2 945.7 893.5 942.7 893.8 939.9 894.1 937.2 894.3 933.7 894.6 930.9 894.9 927.8 895.1 924.5 895.3 921.0 895.6 917.8 895.8 915.5 896.0 912.0 896.2 908.9 896.4 906.4 896.6 902.4 896.9 900.1 897.1 897.1 897.3 893.7 897.5 890.7 897.8 887.9 898.0 884.1 898.3 881.2 898.5 878.8 898.8 875.8 899.0 872.5 899.2 869.5 899.5 866.5 899.7 862.9 899.9 860.3 900.1 856.9 900.3 853.6 900.4 851.0 900.6 847.5 900.7 844.7 900.9 842.1 901.0 838.3 901.1 836.1 901.2 832.5 901.4 829.9 901.5 826.5 901.7 823.3 901.9 820.1 902.1 817.2 902.3 813.9 902.5 810.8 902.7 807.9 903.0 804.6 903.2 801.0 903.5 797.8 903.7 794.7 904.0 791.2 904.2 787.6 904.5 784.5 904.7 781.2 905.0 778.9 905.2 775.7 905.4 772.5 905.6 769.5 905.8 766.2 906.1 762.7 906.3 759.5 906.4 756.0 906.6 753.7 906.8 750.2 907.0 747.4 907.3 744.3 907.5 741.5 907.8 737.4 908.1 733.8 908.4 730.2 908.7 727.3 909.0 724.0 909.5 720.4 910.0 718.3 910.7 715.4 911.4 712.2 913.0 709.5 914.6 712.9 915.3 715.0 916.0 717.6 916.5 720.5 916.9 723.2 917.3 726.5 917.6 729.9 917.9 733.9 918.2 737.5 918.5 741.0 918.7 743.8 918.9 746.5 919.1 749.7 919.4 752.0 919.6 756.0 919.8 759.0 920.0 762.2 920.2 765.1 920.4 769.1 920.6 772.3 920.9 775.8 921.1 779.0 921.3 782.6 921.5 784.9 921.7 788.4 921.8 791.5 922.0 794.3 922.2 796.3 922.5 799.9 922.8 804.1 923.0 806.5 923.3 809.8 923.5 812.9 923.8 816.0 924.0 819.6 924.1 822.5 924.3 825.0 924.4 828.2 924.5 831.1 924.6 833.9 924.7 837.1 924.8 840.1 924.9 843.1 925.0 846.2 925.1 848.9 925.1 853.1 925.2 856.4 925.3 859.1 925.4 862.1 925.5 865.4 925.7 868.5 925.8 872.6 925.9 875.3 926.0 878.6 926.2 881.6 926.3 884.2 926.4 887.5 926.6 891.2 926.7 894.3 926.8 897.2 927.0 900.3 927.1 903.9 927.3 907.1 927.4 910.1 927.6 913.2 927.8 915.7 927.9 918.9 928.1 922.1 928.3 924.5 928.5 928.1 928.7 930.3 929.0 934.1 929.2 937.0 929.5 940.0 929.8 943.0 930.1 946.6 930.4 949.6 930.7 952.5 931.1 955.0 931.4 958.1 931.7 961.8 932.1 964.0 932.4 967.3 932.7 970.4 933.0 974.0 933.3 977.0 933.6 980.5 933.9 983.6 934.3 986.6 934.6 989.9 935.0 992.8 935.4 996.4 935.9 999.1 936.4 1002.1 937.0 1004.7 938.0 1008.2 939.1 1010.7 940.2 1014.0 941.5 1017.0 942.9 1019.6 944.3 1022.4 945.7 1025.0 947.3 1027.8 949.0 1030.4 950.7 1032.9 952.4 1036.0 954.0 1038.8 955.4 1041.6 956.8 1044.7 958.0 1047.7 959.1 1051.0 960.2 1053.3 961.4 1056.3 962.8 1059.3 964.4 1062.8 966.2 1065.4 968.0 1067.7 970.0 1070.2 972.0 1072.1 974.9 1075.2 978.0 1076.8 981.2 1078.2 984.7 1077.8 988.4 1078.2 992.3 1077.1 995.4 1076.4 998.8 1075.9 1002.3 1075.7 1005.6 1075.1 1008.8 1076.2 1012.2 1076.3 1015.4 1079.3 1018.6 1082.1 1021.8 1083.3 1024.2 1086.3 1026.6 1087.4 1029.0 1089.1 1031.4 1091.0 1033.9 1092.6 1036.5 1094.8 1039.4 1096.2 1042.3 1097.9 1045.3 1100.0 1048.4 1100.8 1051.6 1103.0 1054.9 1103.8 1057.8 1103.7 1060.9 1105.5 1064.2 1106.4 1067.4 1107.6 1070.7 1107.4 1073.9 1106.9 1077.1 1108.1 1080.0 1109.2 1083.6 1108.7 1087.0 1107.3 1090.2 1107.2 1093.5 1108.3 1096.9 1107.3 1099.9 1106.7 1103.0 1106.0 1106.1 1105.6 1109.2 1104.8 1112.2 1105.1 1115.3 1104.5 1118.4 1102.8 1121.6 1103.6 1124.7 1102.4 1127.8 1101.6 1130.8 1098.8 1133.7 1099.2 1137.0 1097.3 1140.2 1094.8 1143.2 1092.2 1146.0 1089.8 1148.5 1087.8 1150.9 1084.2 1152.8 1081.2 1154.5 1078.8 1155.9 1075.1 1156.6 1071.6 1157.2 1070.2 1157.7 1067.4 1158.0 1062.6 1158.3 1060.0 1158.6 1056.4 1158.8 1054.5 1159.1 1049.7 1159.5 1046.4 1159.9 1043.7 1160.2 1041.6 1160.5 1038.9 1160.8 1034.1 1161.1 1031.7 1161.5 1028.2 1162.0 1025.2 1162.5 1022.9 1163.2 1018.8 1164.2 1016.5 1165.2 1011.7 1166.4 1008.5 1167.7 1006.6 1169.1 1004.4 1170.6 1004.1 1172.3 1003.0 1174.2 1006.3 1176.2 1008.6 1178.2 1011.0 1180.0 1014.9 1181.7 1018.0 1183.1 1021.0 1184.4 1024.2 1185.5 1027.6 1186.6 1030.5 1187.7 1034.1 1189.0 1036.3 1190.5 1039.0 1191.9 1042.1 1193.5 1046.8 1195.3 1049.0 1197.3 1048.7 1199.9 1049.4 1202.9 1048.2 1206.0 1045.5 1208.9 1044.2 1211.2 1042.1 1212.6 1039.6 1213.7 1037.0 1214.5 1033.2 1215.0 1031.1 1215.5 1026.2 1216.1 1022.5 1216.7 1019.6 1217.2 1015.9 1217.7 1013.1 1218.2 1008.8 1218.7 1004.4 1219.1 1002.5 1219.6 996.6 1220.1 993.7 1220.6 990.9 1221.1 988.7 1221.6 986.7 1222.2 985.9 1223.2 987.7 1224.3 989.9 1225.5 995.6 1226.6 999.5 1227.7 1002.6 1228.5 1006.7 1229.2 1009.1 1230.0 1014.2 1230.7 1018.7 1231.5 1022.5 1232.2 1025.2 1232.9 1027.6 1233.6 1029.6 1234.2 1032.0 1234.8 1030.6 1235.4 1029.2 1236.0 1025.4 1236.5 1021.6 1237.1 1018.1 1237.6 1014.8 1238.2 1011.2 1238.8 1007.8 1239.4 1004.4 1240.1 998.7 1240.8 996.7 1241.4 991.4 1242.1 987.8 1242.8 985.7 1243.6 982.9 1244.3 982.6 1245.2 984.5 1246.1 987.0 1247.0 990.6 1247.9 993.5 1248.9 998.6 1249.9 1001.6 1251.1 1005.4 1252.5 1010.2 1253.8 1013.0 1255.1 1016.2 1256.3 1017.1 1257.0 1018.2 1257.7 1016.9 1258.3 1013.4 1258.9 1010.7 1259.5 1007.7 1260.1 1002.2 1260.6 998.4 1261.2 994.2 1261.7 990.9 1262.3 986.2 1262.8 982.8 1263.3 979.6 1263.7 977.4 1264.2 974.1 1264.6 970.4 1265.0 968.2 1265.4 964.2 1265.9 961.1 1266.3 959.0 1266.7 955.2 1267.2 952.2 1267.7 949.0 1268.3 945.5 1269.0 942.2 1269.8 937.5 1270.7 934.9 1271.5 930.9 1272.4 925.3 1273.3 923.0 1274.1 920.4 1274.9 917.9 1275.7 918.1 1276.4 919.0 1277.0 919.4 1277.6 922.3 1278.2 925.7 1278.8 929.7 1279.4 934.3 1279.9 938.3 1280.6 943.2 1281.2 945.9 1281.8 949.6 1282.4 950.9 1283.0 955.4 1283.6 957.3 1284.2 962.1 1284.8 965.2 1285.5 966.7 1286.1 970.6 1286.7 973.9 1287.4 975.9 1288.0 979.6 1288.6 982.6 1289.2 985.1 1289.8 989.3 1290.4 992.1 1291.0 995.9 1291.6 998.9 1292.2 1002.8 1292.8 1004.7 1293.4 1008.7 1294.0 1011.0 1294.7 1015.1 1295.3 1016.4 1296.0 1019.8 1296.8 1022.9 1297.7 1027.2 1298.5 1029.9 1299.4 1034.1 1300.3 1038.3 1301.2 1039.7 1302.2 1041.8 1303.3 1043.4 1304.7 1042.9 1306.1 1040.2 1307.5 1035.0 1309.1 1031.4 1310.8 1028.6 1312.5 1025.1 1315.5 1023.1 1318.8 1020.4 1321.8 1017.5 1323.5 1015.7 1325.2 1013.6 1326.8 1011.7 1328.3 1008.8 1329.7 1004.2 1331.0 1002.0 1331.7 999.4 1332.4 997.2 1333.0 993.3 1333.6 991.1 1334.1 988.0 1334.5 985.4 1335.0 981.8 1335.4 977.2 1335.8 975.8 1336.2 970.8 1336.5 967.0 1337.0 964.5 1337.4 961.3 1337.8 958.3 1338.3 954.5 1338.8 951.5 1339.3 948.9 1339.9 944.1 1340.4 940.7 1341.0 937.2 1341.5 931.6 1342.1 929.0 1342.6 925.8 1343.1 920.7 1343.7 919.1 1344.2 917.4 1344.7 915.0 1345.2 913.0 1345.7 912.5 1346.2 913.5 1346.8 914.6 1347.3 916.3 1347.8 920.0 1348.3 923.4 1348.7 927.1 1349.2 931.4 1349.7 935.6 1350.2 938.5 1350.7 943.1 1351.2 945.2 1351.7 948.8 1352.3 953.3 1352.8 956.3 1353.3 959.3 1353.8 963.0 1354.3 966.6 1354.9 970.2 1355.5 971.7 1356.1 973.9 1356.8 977.0 1357.9 980.3 1359.0 985.8 1360.3 987.6 1362.0 990.2 1365.5 991.5 1369.2 992.3 1370.4 990.8 1371.5 990.7 1372.7 988.3 1373.8 984.5 1374.8 981.6 1375.9 978.5 1376.9 975.3 1377.9 972.8 1378.8 967.4 1379.7 965.4 1380.5 960.8 1381.3 957.9 1382.1 955.4 1382.9 952.1 1383.7 948.4 1384.4 945.6 1385.0 944.2 1385.5 941.4 1386.1 937.0 1386.6 935.6 1387.1 931.3 1387.6 927.8 1387.9 926.2 1388.2 922.7 1388.5 919.4 1388.8 916.1 1389.0 914.0 1389.3 910.2 1389.5 907.2 1389.7 903.9 1389.9 901.1 1390.1 896.7 1390.3 893.8 1390.5 891.3 1390.7 886.4 1391.0 882.8 1391.2 880.1 1391.4 877.1 1391.7 872.9 1391.9 871.7 1392.2 868.7 1392.5 864.2 1392.8 862.4 1393.2 859.7 1393.8 855.1 1394.4 852.6 1395.0 847.3 1395.7 844.7 1396.4 839.3 1397.1 838.1 1397.7 834.8 1398.4 832.6 1399.0 830.5 1399.6 829.8 1400.2 831.5 1400.8 832.9 1401.3 834.6 1401.8 839.5 1402.3 841.9 1402.8 847.5 1403.3 851.0 1403.8 854.9 1404.2 859.0 1404.6 862.6 1404.9 864.8 1405.2 867.6 1405.6 871.6 1405.9 874.6 1406.2 878.5 1406.5 880.1 1406.8 885.3 1407.0 887.1 1407.3 891.8 1407.5 893.6 1407.8 896.4 1408.0 900.0 1408.2 902.7 1408.3 906.4 1408.4 908.6 1408.4 913.2 1408.5 916.3 1408.5 918.9 1408.6 922.5 1408.7 925.4 1408.8 928.2 1409.0 932.0 1409.4 933.5 1409.8 937.6 1410.4 939.9 1411.1 945.0 1411.9 949.5 1412.8 951.8 1413.7 957.1 1414.7 960.1 1415.7 964.0 1416.8 965.9 1417.9 967.3 1419.0 968.4 1420.3 968.2 1421.7 966.2 1423.2 963.9 1424.7 959.9 1426.2 956.0 1427.6 952.8 1428.9 950.4 1430.0 946.8 1430.9 942.2 1431.7 939.7 1432.4 938.2 1433.1 933.9 1433.6 930.6 1434.1 928.2 1434.6 923.9 1435.1 920.7 1435.6 919.3 1436.0 915.4 1436.3 912.3 1436.7 909.8 1436.9 907.7 1437.2 903.1 1437.5 900.9 1437.7 898.2 1438.0 894.2 1438.2 891.7 1438.5 888.3 1438.7 883.7 1439.0 880.6 1439.3 878.8 1439.6 874.4 1439.8 873.1 1440.1 869.5 1440.4 865.6 1440.7 863.9 1440.9 859.1 1441.2 855.8 1441.5 852.9 1441.8 849.6 1442.1 845.9 1442.4 843.8 1442.7 841.1 1443.0 836.6 1443.4 833.5 1443.7 830.8 1444.1 828.5 1444.4 825.9 1444.8 823.3 1445.3 818.4 1445.8 815.2 1446.3 813.1 1446.9 808.3 1447.4 805.7 1448.0 804.1 1448.7 799.2 1449.4 796.7 1450.3 796.0 1451.9 791.2 1453.7 788.3 1455.6 786.1 1457.7 781.4 1459.9 778.3 1462.2 774.2 1464.6 772.8 1466.9 771.6 1468.9 771.3 1470.9 774.7 1472.8 777.4 1474.6 782.9 1476.1 785.8 1476.9 788.2 1477.6 791.0 1478.2 793.1 1478.7 795.5 1479.1 798.8 1479.5 802.5 1479.9 806.9 1480.3 810.3 1480.6 813.6 1480.9 816.6 1481.3 819.0 1481.7 822.4 1482.0 826.5 1482.4 829.2 1482.7 831.0 1483.0 833.8 1483.3 838.2 1483.6 840.6 1483.9 844.9 1484.2 846.0 1484.5 850.7 1484.8 854.2 1485.1 857.4 1485.4 859.2 1485.7 863.2 1486.0 866.1 1486.3 869.6 1486.6 871.5 1486.9 875.1 1487.2 877.1 1487.5 881.9 1487.9 884.2 1488.3 886.7 1488.6 890.7 1489.0 893.8 1489.3 897.0 1489.7 900.9 1490.1 902.1 1490.4 906.9 1490.8 907.8 1491.1 910.9 1491.4 915.5 1491.7 916.3 1492.0 919.6 1492.4 924.4 1492.7 925.8 1492.9 930.5 1493.2 931.9 1493.5 936.3 1493.8 938.5 1494.2 941.5 1494.6 945.7 1495.0 949.2 1495.3 952.0 1495.7 954.4 1496.2 958.0 1496.6 960.9 1497.1 963.9 1497.6 968.0 1498.1 970.1 1498.6 974.6 1499.1 976.6 1499.7 980.7 1500.2 983.3 1500.8 987.2 1501.3 989.7 1501.9 992.7 1502.6 995.0 1503.4 999.1 1504.2 1002.2 1505.0 1005.1 1505.8 1009.1 1506.6 1011.1 1507.5 1015.2 1508.4 1016.3 1509.3 1020.6 1510.9 1024.7 1512.6 1028.3 1514.3 1031.3 1515.8 1033.1 1516.6 1031.2 1517.4 1029.3 1518.1 1028.7 1518.7 1024.1 1519.3 1020.9 1519.9 1016.8 1520.5 1012.0 1521.1 1008.4 1521.6 1005.1 1522.2 1002.1 1522.8 997.3 1523.3 995.6 1523.8 992.4 1524.3 988.4 1524.8 986.2 1525.3 981.8 1525.8 978.8 1526.3 976.6 1526.8 972.6 1527.5 968.6 1528.2 965.4 1528.9 961.6 1529.6 958.4 1530.5 957.6 1531.3 958.7 1532.0 960.3 1532.9 963.2 1533.7 967.4 1534.7 972.1 1535.8 976.2 1537.0 980.1 1538.7 981.8 1540.5 984.1 1542.5 988.0 1544.4 989.2 1546.2 991.9 1547.8 994.9 1549.2 997.6 1550.6 1001.1 1552.0 1003.4 1553.5 1005.9 1555.0 1010.2 1556.6 1015.4 1558.3 1018.2 1559.9 1022.1 1561.4 1025.1 1562.8 1024.9 1563.7 1025.4 1564.4 1021.8 1565.0 1019.0 1565.5 1015.5 1566.0 1012.3 1566.6 1007.3 1567.2 1004.4 1568.0 1000.7 1568.9 998.6 1570.1 996.4 1573.1 993.4 1576.5 993.4 1579.4 991.4 1580.4 991.0 1581.3 988.9 1581.9 986.0 1582.4 982.4 1582.8 979.7 1583.1 975.7 1583.4 972.8 1583.6 967.5 1583.8 963.9 1584.1 961.7 1584.5 959.2 1584.9 956.3 1585.5 950.9 1586.2 946.4 1586.8 944.1 1587.5 938.9 1588.2 934.7 1588.9 932.4 1589.6 931.3 1590.4 929.1 1591.5 931.4 1592.6 933.9 1593.8 937.5 1594.9 943.0 1596.0 945.3 1596.7 948.2 1597.3 951.4 1597.9 955.5 1598.5 957.2 1599.0 960.7 1599.6 964.9 1600.2 966.7 1600.8 970.7 1601.5 974.1 1602.2 977.7 1603.0 980.0 1603.8 983.6 1604.5 985.3 1605.4 989.4 1606.2 991.7 1607.1 995.4 1607.9 998.1 1608.8 1002.0 1609.7 1003.9 1610.5 1008.9 1611.4 1012.0 1612.2 1015.1 1613.1 1017.2 1614.0 1022.6 1615.0 1025.3 1616.0 1028.8 1617.0 1029.4 1618.1 1032.7 1620.3 1036.0 1622.7 1038.5 1625.4 1042.8 1628.0 1045.0 1630.8 1046.0 1633.7 1047.0 1636.5 1048.4 1639.7 1052.6 1642.7 1053.7 1645.7 1056.4 1648.6 1059.8 1651.4 1061.2 1654.0 1063.2 1656.2 1059.6 1658.1 1057.2 1659.8 1052.2 1661.0 1048.4 1662.2 1047.1 1663.2 1044.3 1664.2 1039.7 1664.9 1036.9 1665.5 1033.1 1666.1 1030.9 1666.7 1027.1 1667.3 1023.8 1667.9 1019.9 1668.6 1016.9 1669.3 1013.9 1670.2 1011.1 1671.2 1006.5 1672.2 1003.0 1673.3 998.2 1674.4 995.8 1675.6 994.3 1677.6 996.7 1679.7 1001.1 1681.5 1005.3 1682.2 1006.5 1682.8 1011.3 1683.2 1013.0 1683.6 1017.5 1683.9 1019.5 1684.1 1023.1 1684.4 1028.1 1684.7 1029.8 1685.1 1033.0 1685.6 1036.9 1686.1 1040.3 1686.6 1044.0 1687.1 1046.5 1687.6 1049.0 1688.3 1051.3 1689.1 1055.7 1689.9 1059.8 1690.9 1062.0 1692.5 1063.4 1695.5 1063.9 1699.2 1060.5 1702.4 1059.0 1704.3 1062.4 1705.8 1064.4 1707.2 1067.7 1708.5 1071.6 1709.8 1075.0 1711.1 1078.4 1712.1 1083.9 1713.4 1084.9 1715.3 1090.2 1717.2 1089.8 1719.6 1091.7 1722.2 1096.0 1725.0 1096.7 1727.9 1098.4 1730.9 1101.5 1733.7 1101.5 1736.6 1103.6 1739.5 1103.0 1742.5 1105.9 1745.6 1105.3 1748.8 1104.7 1752.2 1103.9 1754.9 1105.4 1757.9 1106.1 1761.1 1107.8 1764.4 1108.1 1767.8 1108.4 1771.2 1106.7 1774.5 1107.7 1777.6 1107.6 1780.5 1108.1 1783.1 1107.6 1785.3 1106.1 1788.1 1102.6 1790.3 1099.7 1792.1 1097.4 1793.8 1093.0 1795.5 1092.7 1797.2 1094.8 1798.8 1096.4 1800.3 1100.7 1802.0 1105.4 1803.8 1106.6 1806.5 1110.2 1809.5 1114.4 1813.0 1115.1 1815.6 1114.8 1818.7 1115.7 1822.0 1113.8 1825.4 1112.9 1828.8 1113.7 1832.1 1112.2 1835.1 1110.0 1839.1 1111.4 1842.9 1111.1 1846.5 1110.1 1849.9 1108.3 1852.3 1107.6 1854.5 1105.7 1856.6 1103.3 1858.7 1099.4 1860.9 1099.4 1863.6 1099.2 1866.4 1103.0 1869.2 1102.1 1872.0 1105.2 1874.7 1102.5 1877.4 1103.2 1880.2 1100.3 1882.7 1098.8 1884.9 1096.5 1886.4 1092.5 1887.7 1090.7 1888.8 1086.3 1889.8 1084.7 1890.7 1079.6 1891.5 1076.4 1892.3 1074.8 1893.2 1070.4 1893.9 1070.5 1894.5 1067.2 1895.2 1061.8 1896.0 1061.4 1896.8 1056.4 1897.7 1053.9 1898.7 1047.4 1899.6 1045.7 1900.6 1043.6 1901.5 1040.6 1902.4 1042.8 1903.4 1046.6 1904.3 1048.2 1905.2 1050.8 1906.1 1055.4 1907.0 1060.6 1907.7 1064.0 1908.4 1067.3 1909.0 1069.4 1909.7 1072.2 1910.3 1075.1 1911.0 1079.5 1911.7 1080.8 1912.5 1084.0 1914.2 1086.8 1916.2 1088.0 1918.2 1087.8 1920.6 1086.2 1923.1 1082.3 1925.4 1080.4 1927.3 1082.1 1929.0 1085.2 1930.8 1089.1 1932.8 1089.7 1934.6 1093.9 1936.6 1097.0 1938.6 1098.7 1940.8 1099.8 1943.2 1101.4 1945.7 1105.7 1948.4 1106.4 1951.4 1106.1 1954.5 1107.7 1957.7 1105.4 1960.9 1107.1 1964.1 1107.1 1967.3 1106.3 1970.4 1105.9 1973.6 1107.1 1976.7 1106.1 1980.0 1106.9 1983.3 1106.6 1986.5 1103.5 1989.8 1104.2 1993.2 1105.9 1996.6 1103.6 2000.0 1104.2 2003.4 1104.1 2006.7 1104.7 2009.7 1104.5 2012.6 1101.9 2015.6 1102.5 2018.5 1102.0 2021.5 1101.1 2024.4 1100.6 2027.2 1097.8 2030.0 1098.0 2033.4 1095.1 2036.8 1095.7 2040.2 1091.5 2043.4 1089.3 2046.5 1089.4 2049.4 1090.8 2052.5 1091.7 2055.4 1091.1 2058.2 1094.6 2061.1 1096.8 2063.6 1097.2 2066.1 1099.2 2068.6 1104.0 2071.2 1106.1 2073.9 1107.1 2076.6 1107.9 2079.6 1108.1 2082.8 1109.0 2086.0 1108.1 2089.1 1106.4 2092.2 1104.5 2095.7 1102.5 2099.2 1102.9 2102.6 1099.9 2106.2 1099.5 2108.9 1101.9 2111.7 1102.1 2114.5 1103.7 2117.3 1102.8 2120.3 1105.5 2123.3 1108.1 2126.4 1107.2 2129.7 1109.7 2133.0 1107.9 2136.4 1110.7 2139.8 1110.4 2143.2 1109.6 2146.6 1112.1 2150.1 1112.8 2153.8 1113.1 2157.6 1112.5 2161.2 1113.1 2164.7 1111.4 2167.6 1112.1 2170.0 1110.9 2171.6 1107.0 2172.6 1104.9 2173.2 1100.2 2173.5 1098.8 2173.7 1093.0 2173.8 1090.0 2174.1 1085.9 2174.6 1083.7 2175.5 1080.5 2176.4 1074.9 2177.3 1071.7 2178.3 1070.3 2179.3 1068.0 2180.1 1067.7 2180.8 1068.9 2181.6 1073.7 2182.4 1076.1 2183.2 1081.3 2184.0 1084.7 2184.7 1088.1 2185.5 1091.5 2186.5 1093.9 2187.5 1099.3 2188.6 1103.1 2190.2 1104.8 2193.8 1108.3 2198.0 1108.6 2201.1 1106.7 2204.3 1105.3 2207.3 1105.3 2209.7 1107.3 2212.0 1108.9 2214.2 1113.2 2216.6 1112.8 2220.6 1113.3 2224.4 1115.9 2226.5 1113.7 2228.4 1114.0" stroke="#0000ff" clip-path="url(#clipR)"/>
<path d="M110.0 991.2L111.7 991.5 114.0 990.6 115.8 990.9 118.1 990.9 120.7 990.3 123.7 989.6 127.0 990.0 130.5 989.0 134.0 988.5 137.6 988.7 141.2 987.8 144.6 987.6 147.9 987.3 150.9 987.0 154.2 987.1 157.4 987.3 160.7 986.8 163.8 986.6 166.9 986.7 170.0 987.2 172.9 986.3 175.8 986.3 178.5 985.5 181.4 984.4 184.2 982.8 186.9 981.7 189.4 980.1 191.9 977.6 194.5 975.8 197.0 974.1 199.6 972.8 202.2 970.6 204.8 968.0 207.3 966.2 209.9 964.3 212.6 961.9 215.4 959.2 217.7 957.4 220.1 956.1 222.5 953.3 225.0 952.0 227.5 949.8 230.1 947.9 232.7 945.4 235.3 943.4 237.9 941.3 240.5 939.6 243.0 937.3 245.5 935.1 248.0 933.6 250.5 931.7 253.0 929.3 255.5 927.7 258.0 925.7 260.5 923.8 263.1 922.1 265.6 920.2 268.1 919.1 270.7 917.6 273.5 915.8 276.3 913.2 279.2 912.4 282.1 910.1 285.0 908.6 287.8 906.9 290.6 905.1 293.3 904.1 295.9 902.3 298.3 900.6 300.9 898.7 303.3 896.2 305.6 893.2 307.8 890.6 310.0 888.4 312.4 886.9 314.9 886.0 317.6 885.2 320.4 885.8 323.4 886.9 326.4 888.4 329.4 889.7 332.3 891.3 335.2 892.0 338.3 893.1 341.3 894.6 344.3 895.4 347.3 896.6 350.4 896.9 353.6 898.6 356.2 899.5 358.8 901.1 361.6 903.0 364.3 905.0 367.1 906.6 370.0 908.1 372.8 910.0 375.6 911.9 378.5 913.5 381.3 915.7 384.1 917.2 387.0 918.7 389.9 920.1 392.8 921.7 395.8 922.6 398.7 924.3 401.5 925.1 404.1 926.5 406.6 927.7 408.9 928.4 412.8 929.4 416.2 929.6 420.0 930.3 422.3 931.7 424.8 932.4 427.4 933.9 430.2 935.7 433.0 937.0 436.0 938.4 438.9 940.4 441.8 942.4 444.8 943.3 447.6 945.1 450.6 946.7 453.7 948.0 456.8 949.1 459.8 950.4 462.9 951.2 466.0 952.2 469.1 954.2 472.2 954.6 475.3 955.7 478.4 957.3 481.4 958.2 484.5 959.2 487.6 960.8 490.6 961.9 493.7 962.8 496.8 963.1 499.9 965.0 503.0 965.2 506.1 965.8 509.2 966.9 512.4 967.5 515.5 967.9 518.7 968.5 521.8 969.1 524.8 969.9 527.8 969.5 530.6 969.5 534.0 970.0 537.3 969.7 540.4 969.2 543.5 969.1 546.4 968.4 549.0 967.2 551.6 965.6 554.1 964.1 556.3 961.7 558.3 959.3 560.1 955.9 561.4 954.1 562.5 950.5 563.5 948.3 564.4 944.8 565.2 941.4 566.0 938.7 566.7 935.0 567.5 931.8 568.2 929.6 568.9 925.9 569.6 923.8 570.2 920.6 570.8 917.1 571.4 914.5 572.0 911.4 572.5 907.9 573.0 904.2 573.4 901.5 573.8 898.8 574.1 895.5 574.4 893.5 574.7 890.2 575.0 887.1 575.3 883.9 575.6 880.8 575.8 877.4 576.1 874.6 576.4 871.2 576.7 867.2 576.9 865.0 577.2 862.2 577.4 859.5 577.6 856.4 577.8 853.3 578.0 850.1 578.3 846.3 578.5 843.7 578.7 839.8 579.0 837.0 579.2 832.8 579.4 830.2 579.6 826.6 579.9 823.5 580.1 819.6 580.4 817.0 580.6 813.2 580.9 811.1 581.1 808.3 581.4 805.4 581.6 802.8 581.9 799.9 582.2 797.5 582.7 793.4 583.2 789.8 583.7 786.9 584.3 783.4 585.1 781.0 586.0 778.4 587.9 773.9 590.1 769.8 592.3 768.7 594.3 769.9 596.2 773.4 598.0 778.1 599.2 781.3 600.3 784.0 601.4 787.6 602.5 791.3 603.4 794.0 604.3 798.1 605.0 801.0 605.6 803.5 606.1 806.7 606.5 809.9 607.0 813.5 607.5 816.5 608.0 819.6 608.3 822.3 608.6 826.0 608.9 828.9 609.1 832.9 609.3 836.1 609.5 839.8 609.7 842.6 610.0 847.1 610.4 849.6 610.8 853.4 611.3 855.9 611.9 858.1 612.6 860.6 613.5 862.2 617.2 864.1 620.9 865.9 622.0 867.6 622.8 871.2 623.6 874.0 624.2 877.9 624.8 882.6 625.3 886.0 625.8 889.9 626.3 893.0 626.8 894.9 627.4 894.9 627.9 894.7 628.4 893.5 629.0 890.4 629.5 887.6 630.0 883.6 630.5 879.4 631.1 874.7 631.6 870.1 632.1 865.3 632.6 860.9 633.1 856.7 633.6 853.3 634.2 849.7 634.7 848.0 635.2 845.6 635.7 845.8 636.3 845.8 636.9 847.5 637.4 848.9 638.0 852.3 638.6 855.3 639.2 858.9 639.8 862.4 640.3 866.5 640.9 870.3 641.5 875.2 642.0 879.2 642.5 882.7 643.0 885.7 643.4 889.2 643.8 892.6 644.2 895.5 644.5 899.0 644.9 901.8 645.2 905.2 645.5 908.6 645.8 911.4 646.1 914.3 646.5 917.5 646.8 921.1 647.2 923.5 647.6 926.7 648.1 929.1 648.6 932.6 649.3 935.9 650.0 939.5 650.7 942.6 651.5 946.4 652.4 949.7 653.4 952.0 654.6 955.5 656.0 957.5 657.6 960.7 659.3 963.8 661.2 965.8 663.2 967.8 665.4 970.6 667.6 972.7 670.0 975.2 672.5 976.2 675.1 977.5 677.9 978.9 680.7 979.8 683.7 980.5 686.8 981.2 690.0 981.4 693.2 982.3 696.5 983.1 699.5 983.7 702.8 983.3 706.2 983.7 709.8 983.7 713.4 984.3 717.0 984.0 720.4 984.3 723.5 984.5 726.3 985.1 728.7 984.6 730.6 984.7 732.8 985.1 734.6 984.6" stroke="#00ff00" clip-path="url(#clipL)"/>
<path d="M762.5 990.8L764.3 990.8 766.5 990.6 768.6 989.9 771.2 989.7 774.2 990.5 777.5 989.4 780.9 989.1 784.3 988.9 787.6 988.6 790.6 988.6 793.6 987.3 796.8 987.3 800.0 986.0 803.2 985.7 806.4 984.8 809.5 984.0 812.5 983.4 815.3 981.9 818.6 980.7 821.8 979.6 824.9 978.9 827.9 977.6 830.8 976.2 833.7 974.3 836.1 973.5 838.6 971.8 841.0 969.6 843.3 967.5 845.6 965.0 847.9 962.4 850.1 960.7 852.2 957.9 854.5 955.9 856.8 953.1 858.9 950.4 861.1 948.3 863.1 945.3 865.0 942.3 866.9 939.4 868.5 937.5 870.1 934.6 871.6 930.8 873.0 928.1 874.3 925.2 875.6 922.2 876.8 919.5 878.0 915.7 879.1 913.0 880.2 910.0 881.2 906.3 882.1 903.1 883.0 900.5 883.8 896.6 884.6 893.5 885.3 890.2 885.8 887.5 886.3 884.4 886.7 880.9 887.0 878.2 887.4 875.0 887.6 872.7 887.9 869.5 888.2 866.4 888.5 862.9 888.7 859.8 889.0 857.1 889.3 854.2 889.5 850.7 889.8 848.2 890.0 844.7 890.3 841.6 890.5 838.7 890.7 836.5 891.0 833.0 891.2 829.8 891.4 826.5 891.6 823.8 891.8 819.9 892.0 817.5 892.1 814.3 892.3 812.3 892.4 808.9 892.5 806.5 892.7 803.4 892.8 800.0 892.9 797.1 893.1 793.8 893.2 790.8 893.3 788.6 893.5 785.0 893.6 781.5 893.7 779.0 893.8 775.9 894.0 772.4 894.1 769.5 894.2 766.4 894.4 763.3 894.5 759.7 894.6 756.9 894.8 753.6 894.9 750.8 895.0 748.6 895.1 745.2 895.3 742.4 895.4 739.5 895.5 736.7 895.7 733.5 895.8 730.4 895.9 726.9 896.1 723.7 896.2 720.6 896.3 718.1 896.5 714.5 896.6 711.9 896.7 708.4 896.9 705.3 897.0 702.5 897.1 699.1 897.2 696.6 897.4 692.7 897.5 690.2 897.6 686.8 897.7 683.8 897.8 681.4 897.9 678.1 898.0 674.4 898.1 671.9 898.2 668.2 898.3 664.7 898.4 661.9 898.5 658.9 898.6 655.4 898.7 652.7 898.8 649.2 898.9 646.1 899.0 642.8 899.1 639.9 899.2 636.1 899.4 633.5 899.5 629.8 899.6 627.2 899.7 623.8 899.9 621.3 900.0 618.8 900.2 615.4 900.3 613.0 900.5 610.0 900.7 606.4 901.0 603.4 901.2 599.9 901.5 596.2 901.7 593.0 902.0 589.8 902.3 585.9 902.5 583.0 902.8 580.2 903.1 577.1 903.4 574.0 903.7 571.2 904.0 568.2 904.4 565.5 904.7 562.4 905.0 560.5 905.4 556.3 905.9 552.4 906.3 549.2 906.8 546.1 907.3 543.7 907.8 540.7 908.4 538.0 909.0 535.2 909.7 532.7 910.4 530.6 911.9 526.0 913.4 524.2 914.4 524.8 915.5 527.2 916.6 530.7 917.6 533.9 918.5 538.4 918.9 540.8 919.2 542.5 919.5 545.0 919.7 547.7 920.0 550.2 920.2 553.1 920.3 555.1 920.5 558.1 920.7 561.7 920.8 564.6 920.9 567.4 921.0 570.7 921.1 574.5 921.2 577.7 921.3 581.7 921.4 584.4 921.5 588.2 921.5 591.5 921.6 595.3 921.7 598.3 921.8 602.6 921.9 605.3 922.1 609.3 922.2 612.4 922.3 615.5 922.5 617.9 922.6 620.5 922.7 624.1 922.8 626.5 923.0 629.3 923.1 632.6 923.2 636.2 923.3 639.2 923.4 641.4 923.5 645.2 923.7 647.8 923.8 651.1 923.9 653.4 924.0 656.9 924.1 660.1 924.2 663.0 924.4 666.4 924.5 668.8 924.6 672.7 924.7 675.4 924.8 678.3 925.0 681.5 925.1 684.8 925.2 688.7 925.4 691.8 925.5 694.5 925.6 697.9 925.8 701.0 925.9 704.1 926.0 707.6 926.2 710.3 926.3 712.8 926.4 716.3 926.5 718.9 926.6 722.8 926.8 726.0 926.9 728.9 927.0 731.9 927.1 735.5 927.3 738.1 927.4 741.9 927.5 745.2 927.6 747.7 927.8 751.5 927.9 754.5 928.0 758.1 928.2 760.9 928.3 764.3 928.4 767.6 928.6 771.3 928.7 774.2 928.9 777.1 929.0 780.4 929.2 784.2 929.3 787.3 929.5 789.6 929.6 793.4 929.8 795.8 929.9 798.7 930.1 801.4 930.3 804.3 930.5 807.2 930.6 810.4 930.8 812.7 931.0 814.7 931.2 817.4 931.4 820.1 931.7 823.4 932.0 826.9 932.3 831.1 932.7 833.7 933.0 837.7 933.3 841.0 933.7 843.8 934.0 847.0 934.4 849.6 934.8 852.1 935.2 854.9 935.6 858.4 936.0 860.6 936.5 863.1 937.0 866.1 937.7 869.4 938.4 873.1 939.1 876.3 939.8 879.5 940.6 882.1 941.4 884.9 942.3 887.5 943.3 890.4 944.3 893.4 945.5 896.2 946.9 899.5 948.3 902.4 949.8 904.9 951.3 908.1 952.7 910.2 954.1 913.2 955.4 916.1 956.8 918.9 958.0 922.5 959.1 925.7 960.3 928.2 961.5 931.4 962.8 933.9 964.2 937.9 965.6 941.2 967.1 943.8 968.6 947.3 970.3 949.7 972.0 953.1 974.8 955.6 977.9 958.4 981.2 959.8 984.7 960.1 988.4 958.6 992.3 957.6 995.8 957.3 999.6 956.3 1003.3 957.5 1007.0 956.3 1010.0 957.5 1013.0 959.2 1016.0 962.7 1018.9 964.2 1021.8 966.5 1024.3 968.0 1026.7 969.6 1029.0 972.0 1031.4 972.1 1033.9 974.8 1036.5 976.7 1039.5 977.9 1042.8 980.1 1046.2 982.1 1049.5 984.8 1052.4 985.9 1054.9 985.7 1057.4 988.9 1060.0 988.2 1062.4 988.3 1065.3 989.3 1068.5 988.6 1071.8 989.1 1075.2 989.8 1078.4 989.3 1081.5 990.4 1084.6 990.3 1087.7 990.0 1090.7 989.1 1093.8 989.3 1096.9 989.6 1100.0 988.9 1103.1 989.3 1106.1 988.9 1109.2 988.6 1112.3 987.4 1115.3 987.6 1118.4 986.4 1121.5 984.7 1124.7 984.5 1127.8 984.3 1130.8 981.9 1133.7 981.8 1136.9 979.3 1140.1 977.6 1143.2 977.9 1146.0 975.4 1148.5 974.3 1150.9 970.7 1152.9 968.2 1154.5 965.4 1155.9 960.2 1156.7 958.5 1157.3 955.3 1157.8 951.6 1158.2 950.0 1158.5 947.4 1158.8 944.2 1159.2 939.3 1159.5 936.2 1159.8 933.2 1160.1 931.0 1160.3 928.0 1160.6 923.3 1160.8 919.6 1161.0 917.0 1161.2 912.9 1161.4 909.6 1161.6 905.9 1161.8 903.2 1162.1 901.3 1162.3 900.0 1162.7 897.4 1163.2 897.2 1163.7 893.8 1164.4 889.9 1165.2 885.6 1166.1 882.0 1167.1 877.7 1168.2 873.3 1169.3 871.9 1170.6 871.1 1172.8 871.2 1175.2 874.7 1177.7 878.6 1179.8 881.6 1181.4 885.0 1182.7 886.3 1184.0 889.1 1185.3 892.3 1186.3 895.8 1187.3 899.8 1188.3 901.7 1189.3 905.0 1190.4 908.3 1191.5 912.3 1192.7 915.4 1194.7 918.6 1196.8 920.5 1199.2 922.8 1201.4 920.9 1204.0 919.1 1206.7 917.0 1209.2 913.9 1211.2 911.1 1212.2 907.9 1213.0 906.3 1213.7 903.4 1214.2 901.3 1214.6 897.2 1215.0 894.1 1215.3 891.5 1215.5 886.6 1215.9 883.5 1216.2 880.7 1216.7 878.2 1217.2 875.6 1217.8 870.7 1218.3 868.0 1218.8 862.8 1219.4 859.9 1219.9 855.3 1220.5 854.0 1221.0 849.9 1221.6 850.1 1222.2 849.6 1223.1 849.8 1224.0 851.9 1224.9 856.3 1225.9 861.1 1226.8 865.3 1227.7 869.1 1228.4 871.9 1229.1 876.2 1229.7 879.8 1230.4 884.7 1231.1 888.7 1231.8 892.1 1232.4 895.7 1233.0 897.1 1233.6 900.6 1234.2 901.1 1234.7 898.9 1235.2 898.6 1235.7 895.3 1236.1 891.9 1236.5 889.0 1236.9 884.5 1237.3 880.9 1237.8 875.7 1238.3 871.1 1238.8 869.0 1239.4 865.3 1240.1 862.1 1240.7 858.3 1241.4 854.2 1242.1 850.0 1242.9 847.0 1243.6 845.8 1244.3 845.7 1245.1 846.3 1245.9 848.0 1246.7 851.4 1247.5 855.4 1248.3 858.2 1249.1 862.5 1249.9 866.0 1250.8 869.6 1251.8 874.5 1252.7 878.2 1253.6 882.0 1254.5 885.4 1255.4 884.9 1256.0 885.9 1256.5 884.3 1257.0 882.6 1257.6 880.2 1258.1 876.9 1258.6 872.2 1259.2 869.0 1259.7 865.9 1260.2 861.3 1260.7 856.1 1261.2 852.5 1261.8 847.3 1262.3 845.2 1262.8 840.8 1263.3 837.8 1263.8 834.2 1264.2 831.5 1264.7 827.5 1265.2 825.8 1265.7 822.3 1266.1 819.1 1266.6 815.0 1267.1 811.6 1267.5 808.6 1268.0 805.3 1268.5 803.0 1269.0 799.4 1269.6 798.4 1270.1 796.2 1271.0 790.7 1271.9 786.8 1272.9 783.7 1273.9 779.7 1274.8 776.8 1275.7 776.3 1276.4 776.4 1277.0 779.0 1277.6 781.1 1278.3 784.9 1278.8 787.5 1279.4 791.9 1280.0 795.7 1280.6 800.9 1281.2 804.5 1281.6 806.9 1282.0 810.3 1282.4 812.0 1282.8 816.1 1283.2 819.6 1283.6 822.5 1284.0 825.1 1284.4 829.0 1284.8 831.3 1285.2 835.1 1285.6 838.2 1286.0 841.7 1286.4 843.8 1286.8 847.0 1287.3 851.3 1287.7 854.5 1288.1 857.1 1288.6 859.0 1289.2 862.4 1289.8 866.5 1290.3 869.0 1290.9 873.6 1291.6 876.1 1292.2 878.7 1292.8 883.6 1293.4 886.1 1294.1 888.4 1294.7 892.2 1295.4 893.1 1296.0 896.1 1297.0 901.0 1298.0 904.9 1299.0 908.8 1300.2 910.9 1301.5 914.2 1302.9 911.3 1304.4 909.6 1306.0 906.4 1307.7 903.2 1309.3 900.3 1310.7 897.1 1312.1 893.5 1313.3 890.4 1314.6 888.3 1316.2 885.2 1319.1 883.7 1322.5 881.9 1325.4 878.9 1326.6 877.0 1327.6 872.9 1328.5 869.6 1329.3 867.5 1330.1 863.7 1330.8 861.4 1331.4 857.8 1332.1 853.4 1332.8 850.5 1333.4 846.8 1333.9 844.5 1334.4 842.8 1334.9 838.9 1335.4 835.7 1335.9 832.7 1336.4 829.4 1336.9 825.0 1337.4 821.4 1337.8 818.8 1338.3 815.9 1338.8 812.5 1339.2 810.3 1339.7 806.7 1340.2 803.9 1340.8 800.3 1341.4 796.1 1342.0 792.8 1342.7 787.5 1343.3 785.1 1343.9 781.9 1344.5 779.5 1345.1 776.2 1345.7 776.5 1346.3 777.7 1347.0 778.7 1347.6 782.7 1348.2 785.4 1348.9 789.3 1349.5 792.0 1350.1 796.4 1350.7 801.9 1351.2 805.4 1351.7 806.6 1352.1 811.4 1352.4 814.0 1352.7 816.1 1353.0 820.3 1353.4 822.4 1353.8 826.7 1354.3 828.8 1354.9 830.9 1355.7 835.7 1356.6 838.6 1357.5 843.6 1358.5 847.2 1359.7 849.0 1360.9 851.9 1362.3 853.1 1365.7 856.7 1369.2 857.4 1370.4 855.9 1371.6 856.2 1372.7 854.1 1373.9 851.2 1375.0 848.9 1376.1 844.5 1377.2 842.1 1378.3 837.4 1379.3 834.0 1380.3 830.6 1381.2 826.6 1382.1 823.5 1382.8 820.0 1383.5 817.6 1384.1 813.7 1384.7 810.3 1385.3 808.9 1385.8 805.7 1386.4 801.4 1386.9 799.1 1387.4 795.4 1387.9 792.5 1388.3 790.1 1388.8 787.1 1389.2 784.3 1389.6 779.6 1390.1 776.4 1390.5 773.9 1390.9 770.9 1391.3 766.9 1391.7 764.9 1392.1 761.5 1392.5 759.0 1392.8 754.9 1393.1 752.4 1393.5 749.3 1393.8 746.0 1394.1 741.9 1394.4 739.9 1394.7 736.9 1395.0 732.0 1395.3 730.6 1395.5 726.0 1395.8 722.9 1396.1 719.8 1396.3 717.3 1396.6 714.9 1396.9 712.8 1397.2 709.5 1397.5 704.3 1397.8 701.0 1398.1 696.1 1398.4 692.9 1398.7 688.9 1399.0 685.0 1399.3 682.9 1399.6 680.0 1399.9 677.3 1400.2 674.8 1400.6 674.7 1401.0 674.8 1401.4 677.1 1401.9 679.1 1402.4 681.4 1402.9 685.9 1403.4 688.1 1403.9 692.8 1404.4 695.8 1404.8 700.8 1405.3 704.5 1405.7 707.8 1406.1 713.2 1406.4 715.4 1406.6 718.7 1406.9 721.8 1407.1 724.7 1407.3 725.7 1407.5 730.8 1407.7 733.9 1407.9 736.0 1408.0 738.5 1408.2 741.7 1408.4 745.7 1408.6 749.5 1408.7 752.1 1408.9 754.0 1409.1 758.2 1409.3 760.4 1409.6 764.8 1409.8 768.3 1410.0 771.5 1410.3 774.9 1410.5 778.3 1410.8 781.9 1411.0 785.1 1411.2 788.6 1411.5 792.2 1411.7 795.9 1412.0 797.9 1412.2 802.2 1412.5 804.6 1412.8 808.3 1413.2 811.5 1413.5 815.3 1413.9 817.4 1414.3 819.2 1414.8 821.0 1415.3 822.5 1417.0 827.6 1419.0 827.5 1420.2 827.7 1421.5 826.6 1423.0 823.5 1424.5 818.8 1426.0 814.8 1427.4 812.7 1428.8 807.1 1430.0 803.6 1430.8 802.5 1431.6 798.4 1432.3 794.8 1433.0 791.8 1433.6 789.2 1434.2 786.4 1434.8 782.7 1435.3 780.3 1435.8 776.9 1436.3 773.1 1436.9 771.1 1437.4 767.7 1437.9 764.7 1438.4 761.7 1438.9 758.7 1439.4 756.2 1439.9 752.7 1440.3 748.3 1440.8 745.4 1441.2 744.0 1441.6 739.5 1442.1 736.1 1442.5 732.9 1443.0 730.2 1443.5 727.7 1443.9 725.1 1444.4 721.1 1444.9 718.0 1445.3 714.9 1445.8 713.4 1446.3 708.4 1446.7 706.7 1447.2 703.1 1447.6 699.7 1448.1 696.6 1448.5 692.9 1448.9 691.1 1449.3 687.3 1449.7 685.7 1450.0 682.1 1450.4 678.2 1450.8 674.1 1451.2 671.7 1451.5 668.7 1451.9 664.6 1452.3 662.8 1452.6 659.3 1453.0 655.8 1453.3 652.1 1453.7 651.1 1454.0 647.2 1454.4 643.5 1454.8 641.1 1455.2 638.8 1455.6 635.3 1456.0 632.6 1456.4 628.6 1456.8 626.3 1457.3 622.2 1457.7 620.4 1458.2 617.1 1458.6 613.4 1459.0 610.3 1459.5 607.3 1460.0 602.9 1460.5 599.8 1461.2 598.1 1462.0 595.2 1463.5 590.7 1465.3 586.9 1467.2 584.2 1468.8 581.6 1469.8 582.9 1470.8 586.7 1471.7 589.4 1472.5 593.6 1473.2 596.9 1474.0 600.7 1474.8 603.0 1475.5 607.0 1476.1 609.0 1476.8 612.0 1477.4 616.5 1478.0 619.3 1478.3 621.3 1478.7 624.3 1479.0 627.3 1479.3 630.4 1479.6 633.4 1479.9 636.0 1480.2 638.9 1480.5 642.9 1480.8 646.4 1481.1 650.3 1481.4 651.9 1481.7 656.8 1482.0 659.2 1482.3 661.8 1482.6 664.9 1482.9 668.0 1483.2 671.6 1483.5 675.1 1483.8 679.1 1484.1 681.4 1484.4 684.0 1484.7 687.6 1485.0 690.9 1485.3 694.2 1485.6 696.5 1485.9 699.4 1486.2 703.0 1486.5 705.9 1486.9 708.2 1487.2 712.2 1487.5 715.6 1487.8 717.7 1488.1 722.0 1488.4 724.5 1488.7 726.7 1489.0 729.9 1489.3 732.7 1489.6 737.7 1489.9 739.2 1490.2 743.7 1490.5 746.6 1490.8 749.8 1491.1 751.9 1491.4 756.0 1491.7 759.3 1492.0 760.9 1492.3 765.1 1492.6 766.8 1492.9 769.8 1493.2 773.4 1493.6 777.7 1493.9 779.6 1494.2 783.4 1494.6 785.5 1495.0 790.0 1495.3 792.8 1495.7 795.0 1496.1 797.4 1496.5 802.6 1496.8 804.0 1497.2 808.1 1497.6 810.1 1498.0 813.4 1498.4 817.2 1498.8 820.7 1499.3 824.0 1499.7 826.8 1500.1 828.9 1500.6 832.8 1501.0 835.7 1501.4 837.5 1501.9 842.3 1502.5 843.7 1503.0 849.1 1503.6 850.8 1504.1 855.7 1504.7 858.3 1505.3 861.8 1505.9 863.8 1506.5 866.4 1507.2 869.8 1507.8 872.4 1508.5 875.6 1509.3 877.9 1510.4 881.5 1511.7 886.6 1513.0 889.1 1514.3 892.0 1515.5 893.1 1516.7 893.9 1517.5 893.2 1518.3 891.5 1519.0 890.7 1519.7 886.7 1520.4 883.7 1521.1 880.7 1521.7 875.2 1522.3 870.6 1522.9 867.4 1523.5 863.2 1524.1 859.0 1524.5 855.8 1524.9 853.5 1525.3 850.5 1525.7 846.5 1526.0 841.1 1526.3 838.7 1526.7 833.5 1527.0 829.9 1527.3 826.6 1527.6 822.1 1527.9 818.5 1528.2 814.2 1528.6 813.0 1528.9 809.1 1529.3 807.5 1529.7 805.0 1530.1 803.8 1530.5 804.2 1531.1 805.9 1531.8 807.5 1532.4 810.6 1533.0 813.7 1533.7 816.8 1534.5 822.0 1535.2 824.7 1536.1 828.4 1537.0 832.3 1538.7 836.4 1540.5 838.1 1542.4 841.5 1544.3 845.7 1545.6 848.2 1546.9 851.3 1548.2 853.3 1549.5 856.8 1550.8 859.2 1552.1 861.9 1553.5 864.2 1554.9 868.4 1556.5 871.6 1558.0 875.9 1559.6 880.5 1561.1 883.5 1562.5 885.0 1563.7 886.1 1564.5 884.4 1565.1 883.7 1565.6 880.2 1566.0 875.3 1566.3 871.4 1566.7 867.9 1567.1 863.7 1567.6 859.4 1568.2 855.4 1569.0 853.7 1570.1 849.9 1573.1 847.4 1576.5 846.1 1579.4 844.2 1580.4 843.8 1581.1 841.6 1581.8 837.9 1582.3 834.1 1582.6 832.4 1582.9 828.3 1583.2 824.8 1583.4 820.5 1583.6 818.0 1583.8 814.5 1584.1 811.5 1584.5 806.9 1584.9 804.3 1585.5 800.3 1586.1 796.9 1586.7 793.7 1587.4 788.6 1588.0 785.0 1588.7 781.1 1589.3 777.6 1590.0 775.1 1590.6 773.8 1591.3 772.4 1591.9 774.4 1592.6 775.2 1593.2 778.5 1593.8 780.6 1594.5 785.5 1595.1 789.9 1595.7 793.8 1596.4 796.4 1597.1 800.7 1597.8 803.4 1598.6 807.2 1599.4 811.4 1600.2 812.9 1601.0 815.6 1601.8 819.1 1602.6 822.2 1603.5 826.6 1604.3 828.0 1605.2 831.9 1605.9 834.5 1606.7 838.2 1607.5 840.7 1608.3 844.7 1609.0 847.1 1609.8 849.5 1610.6 853.6 1611.4 856.0 1612.2 859.5 1612.9 861.9 1613.7 866.4 1614.4 869.2 1615.1 872.0 1615.8 876.2 1616.4 880.0 1617.0 881.6 1617.5 886.0 1618.2 889.5 1618.9 891.6 1619.7 894.4 1620.7 896.8 1621.8 900.8 1623.7 902.5 1625.9 905.6 1628.2 906.7 1630.5 908.2 1632.8 912.2 1635.0 913.8 1637.2 916.1 1639.4 917.5 1641.6 921.0 1643.9 921.6 1646.7 925.5 1649.6 927.6 1652.4 929.0 1654.9 930.9 1657.6 931.0 1660.0 932.2 1661.3 930.1 1662.6 926.9 1663.7 924.1 1664.7 920.5 1665.7 916.6 1666.6 913.0 1667.4 909.8 1668.0 906.8 1668.5 902.8 1668.9 898.9 1669.3 895.8 1669.6 894.4 1669.9 890.8 1670.3 888.4 1670.7 884.8 1671.1 880.4 1671.6 878.9 1672.1 875.1 1672.7 870.9 1673.2 866.6 1673.8 863.4 1674.4 859.1 1675.1 857.9 1675.7 857.5 1676.6 858.0 1677.5 860.2 1678.5 863.3 1679.4 867.6 1680.3 871.5 1680.8 874.4 1681.3 877.2 1681.8 880.0 1682.2 883.7 1682.7 885.7 1683.1 889.2 1683.5 893.1 1684.0 897.0 1684.4 899.6 1684.8 903.9 1685.3 905.3 1685.8 909.1 1686.4 913.2 1686.9 916.0 1687.5 920.0 1688.0 924.6 1688.7 928.1 1689.4 929.6 1690.3 932.7 1691.3 935.4 1694.0 937.9 1696.9 937.9 1699.8 934.2 1702.4 933.1 1703.9 933.8 1705.2 938.6 1706.5 941.3 1707.9 945.2 1709.0 947.9 1710.1 951.0 1711.2 956.3 1712.4 957.9 1713.7 961.1 1715.3 964.5 1717.2 967.0 1719.2 969.5 1721.4 973.2 1723.8 973.0 1726.4 974.8 1729.4 978.4 1732.6 977.4 1736.0 979.9 1739.4 979.2 1742.9 979.6 1745.9 980.4 1748.8 980.4 1751.9 981.6 1755.0 981.1 1758.1 980.9 1761.4 982.3 1764.5 983.2 1767.9 982.7 1771.5 983.0 1775.1 981.1 1778.5 983.2 1781.8 981.7 1784.7 980.2 1787.2 981.8 1789.9 978.2 1791.9 976.2 1793.7 971.3 1795.5 972.1 1797.2 970.4 1798.8 973.8 1800.3 977.4 1802.0 980.8 1803.8 985.1 1806.5 987.5 1809.4 989.4 1813.0 991.4 1815.6 991.7 1818.6 993.8 1821.9 991.1 1825.4 990.4 1828.8 990.5 1832.1 990.2 1835.1 989.7 1838.3 988.1 1841.4 990.5 1844.4 990.0 1847.2 988.3 1849.9 986.6 1852.8 983.8 1855.5 980.8 1858.2 979.2 1860.9 979.6 1863.6 978.4 1866.4 980.8 1869.2 981.4 1872.0 983.7 1875.3 981.8 1878.8 980.8 1882.1 978.0 1884.9 976.8 1886.6 973.8 1888.1 969.1 1889.3 966.1 1890.3 965.2 1891.3 962.0 1892.3 958.3 1893.0 955.5 1893.6 951.8 1894.2 948.9 1894.8 944.7 1895.3 942.3 1895.8 937.9 1896.2 935.1 1896.7 931.6 1897.2 928.4 1897.8 928.7 1898.4 926.4 1899.0 923.2 1900.2 917.4 1901.5 917.2 1902.5 916.8 1903.7 919.1 1904.8 922.4 1906.0 926.1 1907.0 930.6 1907.6 933.3 1908.1 936.9 1908.6 941.5 1909.0 943.3 1909.4 946.1 1909.8 952.2 1910.2 955.5 1910.7 957.6 1911.2 959.6 1911.8 963.7 1912.5 965.8 1914.2 968.3 1916.2 968.9 1918.1 965.6 1920.2 963.6 1922.4 960.6 1924.5 960.0 1926.5 960.6 1928.5 961.7 1930.5 967.3 1932.8 970.5 1934.7 972.0 1936.7 974.4 1938.8 975.7 1941.0 980.2 1943.3 980.6 1945.7 982.6 1949.0 985.7 1952.5 986.4 1956.1 986.6 1960.0 986.0 1963.0 987.8 1966.2 988.3 1969.6 985.6 1973.0 985.0 1976.5 985.1 1979.9 984.5 1983.3 985.7 1986.6 984.0 1990.0 985.2 1993.4 985.1 1996.7 983.5 2000.1 984.5 2003.4 983.2 2006.7 984.6 2009.7 984.1 2012.6 982.5 2015.6 979.9 2018.6 979.4 2021.5 980.7 2024.4 978.9 2027.2 977.9 2030.0 976.1 2032.9 973.8 2035.9 972.7 2038.8 972.3 2041.6 968.6 2044.4 966.5 2047.0 966.1 2049.4 967.1 2052.0 967.8 2054.3 969.5 2056.5 972.4 2058.7 972.9 2061.1 974.9 2063.5 976.7 2066.0 980.9 2068.6 981.6 2071.2 986.0 2073.9 987.6 2076.6 988.8 2079.6 989.6 2082.7 988.9 2085.9 986.8 2089.0 986.2 2092.2 983.8 2095.5 986.0 2098.8 982.0 2102.1 984.0 2105.4 983.2 2108.5 981.7 2111.5 983.6 2114.3 984.5 2117.1 986.2 2120.1 989.0 2123.3 990.2 2126.3 992.1 2129.5 993.9 2132.8 992.9 2136.3 994.2 2139.7 994.6 2143.2 992.8 2146.6 992.6 2150.1 992.4 2153.8 994.2 2157.6 993.1 2161.2 995.1 2164.6 993.3 2167.6 994.4 2170.0 990.7 2171.5 990.5 2172.5 988.2 2173.1 982.2 2173.5 981.5 2173.6 975.4 2173.7 973.5 2173.7 968.2 2173.8 964.5 2174.1 961.3 2174.6 958.1 2175.6 956.1 2176.7 951.6 2177.9 948.0 2179.0 943.3 2180.1 941.9 2180.9 945.3 2181.8 945.3 2182.5 950.3 2183.3 952.8 2184.0 957.9 2184.8 962.3 2185.5 968.0 2186.2 968.8 2186.8 973.9 2187.3 978.8 2188.0 981.6 2188.9 985.3 2190.2 987.8 2193.2 987.8 2196.4 985.5 2198.6 991.0 2200.6 995.1 2202.6 997.6 2205.6 994.7 2208.8 991.1 2211.3 992.1 2213.9 996.9 2216.6 997.3 2220.6 997.8 2224.4 995.2 2226.5 993.3 2228.4 993.5" stroke="#00ff00" clip-path="url(#clipR)"/>
<path d="M110.0 810.3L111.8 800.3 114.0 807.7 116.4 803.7 119.4 792.4 122.8 805.4 126.3 801.6 129.6 797.6 132.4 807.5 135.8 810.8 138.7 798.0 141.7 796.4 144.6 808.0 147.6 797.9 150.9 805.1 153.6 803.5 156.6 807.2 159.8 810.2 163.0 796.3 166.2 805.7 169.3 795.7 172.0 793.5 174.6 790.6 177.2 797.7 179.9 794.0 182.5 790.8 185.1 794.3 187.7 795.6 190.3 783.4 193.0 787.6 195.7 776.5 198.3 773.9 201.0 779.5 203.6 782.6 206.2 770.1 208.9 767.6 211.6 780.7 214.2 773.7 216.8 773.6 219.4 756.7 222.0 758.0 224.6 757.4 226.9 754.4 229.2 763.9 231.5 760.5 233.8 745.8 236.1 752.9 238.3 739.3 240.7 748.8 243.0 738.4 245.6 747.3 248.2 733.3 250.9 744.9 253.5 735.4 256.2 725.2 258.9 738.3 261.5 729.3 264.1 727.5 266.7 716.0 269.3 726.3 271.9 724.5 274.5 709.2 277.2 723.6 279.9 716.3 282.9 711.3 286.0 716.6 289.1 711.4 292.3 706.3 295.4 708.1 298.4 712.7 301.1 705.3 303.7 696.3 305.0 700.3 306.3 695.4 307.6 694.2 308.9 701.0 311.4 692.5 314.1 696.5 316.8 684.4 319.8 683.4 322.8 696.3 325.9 687.7 329.0 685.4 332.1 692.8 335.2 693.8 338.3 695.8 341.4 685.7 344.5 689.4 347.5 689.4 350.6 688.0 353.7 686.1 356.8 686.9 359.8 689.1 362.9 691.0 366.0 695.0 369.1 698.1 372.1 691.3 375.2 692.6 378.3 687.6 381.3 690.7 384.4 696.9 387.4 693.7 390.5 693.6 393.6 695.9 396.8 704.9 400.0 697.6 403.2 709.5 406.2 704.4 409.0 712.0 410.9 707.1 412.8 697.1 414.5 702.6 416.2 708.6 418.1 695.9 420.0 706.2 422.8 706.7 425.8 707.8 428.9 701.1 432.1 708.6 435.3 707.3 438.4 714.8 441.5 705.6 444.6 710.8 447.7 719.0 450.8 719.1 453.8 716.7 456.9 718.9 460.0 724.0 463.1 712.7 466.1 722.4 469.2 725.7 472.2 718.2 475.3 726.6 478.4 729.7 481.4 731.5 484.5 725.6 487.5 739.6 490.6 733.7 493.7 742.2 496.8 739.2 499.8 736.5 502.9 745.2 506.0 745.8 509.1 735.1 512.2 733.1 515.3 750.5 518.3 746.9 521.4 737.2 524.4 745.9 527.5 741.2 530.6 752.0 533.6 753.7 536.8 743.9 539.9 749.9 543.0 752.9 546.1 754.4 549.0 751.3 552.2 744.6 555.4 750.5 558.5 755.6 561.3 746.0 563.8 744.6 566.1 742.5 568.1 739.9 569.7 736.9 570.5 735.2 571.2 733.5 572.1 731.1 572.9 728.4 573.5 725.5 574.1 722.4 574.6 719.2 575.1 715.9 575.6 712.6 576.2 709.2 576.7 705.9 577.2 703.0 577.7 700.1 578.2 697.1 578.7 694.0 579.1 690.9 579.6 687.8 580.1 684.7 580.5 681.5 581.0 678.4 581.4 675.2 581.8 672.1 582.2 669.0 582.6 665.9 582.9 662.8 583.2 659.7 583.5 656.5 583.8 653.4 584.1 650.3 584.4 647.2 584.7 644.1 585.0 641.0 585.3 638.0 585.6 635.1 585.9 632.2 586.3 629.0 586.6 625.8 587.0 622.8 587.4 619.8 587.7 616.8 588.2 613.8 588.6 610.8 589.1 607.7 589.6 604.5 590.1 601.2 590.4 599.3 590.7 597.5 591.0 595.4 591.3 593.4 591.6 591.3 591.9 589.2 592.2 587.1 592.5 585.0 592.9 583.0 593.2 581.0 593.6 579.2 593.9 577.4 594.6 574.2 595.4 571.8 596.2 570.1 597.0 569.5 598.1 570.2 599.3 572.4 600.5 575.4 601.1 577.2 601.8 579.0 602.4 580.9 603.0 582.7 604.3 586.1 605.4 588.9 606.6 591.8 607.7 594.8 608.8 597.8 610.0 600.9 611.2 604.0 612.3 607.0 613.5 610.0 614.7 612.8 615.9 615.6 617.1 618.4 618.3 621.1 619.5 623.9 620.7 626.6 621.8 629.4 622.8 632.2 623.3 634.0 623.9 635.7 624.4 637.8 624.9 639.8 625.3 641.9 625.8 644.0 626.2 645.9 626.7 647.9 627.5 651.2 628.4 653.5 629.2 654.3 630.2 653.1 631.1 650.0 631.6 648.0 632.0 645.9 632.4 643.7 632.9 641.6 633.3 639.6 633.8 637.7 634.3 635.8 634.7 633.9 635.1 631.7 635.6 629.5 636.0 627.4 636.5 625.4 637.4 622.3 638.4 621.1 639.3 621.9 640.2 624.0 641.2 627.2 641.7 629.1 642.2 631.1 642.7 633.2 643.1 635.2 643.6 637.3 644.1 639.4 644.5 641.3 644.9 643.2 645.5 646.0 646.0 648.8 646.5 651.8 647.0 654.9 647.4 658.0 647.9 661.1 648.3 664.3 648.8 667.4 649.3 670.5 649.8 673.5 650.4 676.4 651.1 679.6 651.8 682.9 652.5 686.1 653.2 689.3 654.0 692.5 654.8 695.5 655.7 698.5 656.7 701.3 657.8 704.0 659.3 707.2 660.9 711.9 662.6 711.1 664.5 718.1 666.5 720.2 668.8 719.2 671.1 723.9 673.5 724.1 676.2 728.4 678.9 727.2 681.7 728.6 684.5 730.6 687.3 731.0 690.3 732.7 693.3 732.7 696.3 731.8 699.3 734.4 702.5 733.1 705.7 737.2 708.8 735.8 712.2 737.0 713.9 739.0 715.7 736.8 717.5 738.5 719.2 740.4 722.7 740.0 725.8 742.1 728.5 738.9 730.6 741.8 732.8 741.0 734.6 740.3" stroke="#ff00ff" clip-path="url(#clipL)"/>
<path d="M762.5 803.8L764.3 805.3 766.5 806.7 768.4 807.4 770.8 805.8 773.6 806.9 776.7 808.1 780.1 811.1 783.5 808.6 787.0 813.7 790.5 814.6 793.8 812.1 796.9 813.3 799.8 816.6 802.6 815.6 805.5 819.8 808.3 821.1 811.2 820.1 813.9 820.7 816.7 822.2 819.4 824.4 822.0 825.4 824.5 828.8 827.8 829.5 831.0 830.8 834.1 832.0 837.1 832.2 840.0 833.6 843.0 836.1 845.8 835.4 848.5 837.8 851.2 840.9 853.9 844.5 856.5 847.0 859.0 848.5 861.4 851.0 863.8 852.9 866.1 854.8 868.2 856.4 870.3 861.1 872.3 863.4 874.3 862.4 876.0 866.6 877.8 868.7 879.4 873.2 881.0 874.7 882.6 877.4 884.0 880.6 885.3 883.0 886.9 886.4 888.3 891.0 889.6 894.1 890.9 895.5 892.3 894.6 893.8 892.2 895.2 888.1 896.4 884.2 897.0 882.0 897.5 879.1 897.8 876.7 898.1 873.0 898.3 870.0 898.5 866.6 898.7 863.7 898.9 859.8 899.2 856.9 899.4 854.4 899.7 850.9 899.9 848.4 900.2 845.4 900.4 842.9 900.7 839.7 900.9 836.4 901.1 832.9 901.3 829.5 901.5 826.7 901.7 823.0 901.9 819.6 902.0 817.1 902.2 814.4 902.3 811.6 902.4 809.1 902.5 806.4 902.6 803.3 902.7 800.0 902.8 797.2 902.9 793.8 903.0 790.7 903.0 788.1 903.1 784.7 903.2 781.1 903.3 778.0 903.4 775.5 903.5 772.3 903.5 768.9 903.6 766.1 903.7 762.7 903.8 759.5 903.9 757.3 904.0 754.2 904.1 750.9 904.2 748.2 904.3 745.7 904.4 741.9 904.4 739.0 904.5 736.5 904.6 733.7 904.7 730.4 904.8 727.8 904.9 724.7 905.0 721.2 905.1 718.3 905.2 715.7 905.3 712.5 905.3 709.4 905.4 706.7 905.5 702.9 905.6 700.5 905.7 697.5 905.8 694.4 905.8 691.5 905.9 688.0 906.0 685.4 906.1 682.0 906.1 679.8 906.2 676.6 906.3 673.8 906.4 670.3 906.4 666.9 906.5 663.8 906.6 661.4 906.6 657.4 906.7 655.2 906.8 651.7 906.9 648.5 906.9 645.3 907.0 642.1 907.1 638.9 907.1 635.5 907.2 633.1 907.3 629.8 907.4 625.9 907.4 623.3 907.5 619.8 907.6 616.8 907.6 614.3 907.7 611.1 907.8 608.7 907.8 605.3 907.9 602.0 907.9 599.9 908.0 596.6 908.1 594.0 908.1 590.1 908.2 587.8 908.2 584.3 908.3 581.3 908.4 578.6 908.4 576.1 908.5 573.0 908.5 569.5 908.6 566.1 908.6 564.0 908.7 560.9 908.8 557.3 908.8 554.5 908.9 551.4 908.9 548.5 909.0 545.3 909.1 542.2 909.1 539.0 909.2 535.9 909.2 532.8 909.3 529.6 909.4 527.5 909.4 524.1 909.5 521.1 909.5 517.6 909.6 514.7 909.6 512.4 909.7 508.5 909.7 506.3 909.8 502.8 909.8 499.3 909.9 496.9 909.9 493.1 910.0 490.3 910.0 487.3 910.1 484.6 910.2 481.7 910.2 477.8 910.3 475.4 910.3 472.0 910.4 468.6 910.4 466.3 910.5 462.8 910.5 459.5 910.6 456.9 910.7 453.2 910.7 450.4 910.8 447.8 910.8 444.8 910.9 441.9 911.0 439.1 911.1 435.4 911.1 432.9 911.2 430.1 911.3 426.4 911.4 423.4 911.5 421.0 911.6 417.0 911.6 414.4 911.7 410.8 911.8 407.9 911.9 405.1 912.0 401.4 912.2 398.4 912.3 395.8 912.4 392.1 912.5 389.6 912.6 386.0 912.7 383.4 912.8 380.6 912.9 377.4 913.0 374.3 913.1 371.9 913.2 368.7 913.3 366.1 913.4 363.0 913.5 359.8 913.6 357.2 913.7 354.6 913.8 351.3 913.9 349.2 914.0 345.5 914.1 342.3 914.2 338.7 914.3 335.6 914.4 332.3 914.5 329.3 914.6 325.4 914.7 322.1 914.8 318.8 914.9 315.9 915.0 312.5 915.1 309.7 915.2 307.0 915.3 303.6 915.4 301.8 915.5 298.8 915.7 296.1 915.8 293.7 916.0 290.6 916.3 287.0 916.5 283.6 916.8 281.0 917.0 277.8 917.3 275.3 917.6 271.6 917.9 269.1 918.2 264.5 918.5 260.2 918.8 256.2 919.1 251.9 919.5 248.2 919.8 245.4 920.2 243.5 920.5 242.7 920.9 243.3 921.3 245.0 921.7 248.9 922.1 252.1 922.5 256.0 922.9 260.2 923.3 265.0 923.6 267.7 923.9 270.9 924.2 274.7 924.5 277.8 924.7 280.4 924.9 283.6 925.2 286.5 925.4 290.1 925.6 293.1 925.8 296.3 926.0 298.8 926.2 301.8 926.4 304.4 926.6 308.2 926.8 312.7 926.9 314.3 927.0 316.8 927.1 319.6 927.2 322.5 927.3 324.4 927.3 328.0 927.4 330.2 927.5 333.3 927.6 337.0 927.7 340.1 927.7 342.7 927.8 346.1 927.9 349.2 928.0 353.3 928.0 356.4 928.1 360.0 928.2 363.0 928.3 366.8 928.3 369.7 928.4 373.0 928.5 376.8 928.5 379.6 928.6 383.0 928.7 385.4 928.8 389.0 928.9 391.7 928.9 395.1 929.0 398.3 929.1 401.3 929.2 404.4 929.2 407.5 929.3 410.9 929.4 413.8 929.5 416.5 929.5 419.6 929.6 423.3 929.7 426.3 929.8 428.7 929.8 432.0 929.9 435.1 930.0 438.3 930.0 441.5 930.1 444.9 930.2 447.1 930.3 450.7 930.3 453.8 930.4 456.1 930.5 459.5 930.6 462.4 930.6 465.4 930.7 468.5 930.8 471.9 930.8 475.4 930.9 478.8 930.9 482.0 930.9 484.8 931.0 488.2 931.0 491.5 931.1 494.2 931.1 497.2 931.2 500.1 931.3 503.9 931.3 506.6 931.4 509.4 931.5 513.1 931.6 515.5 931.7 519.1 931.8 521.7 932.0 524.6 932.1 527.7 932.3 530.4 932.5 533.5 932.8 536.7 933.1 540.2 933.3 542.8 933.7 545.8 934.0 549.2 934.3 551.8 934.6 554.7 935.0 557.3 935.3 560.7 935.7 563.5 936.0 566.7 936.4 569.5 936.7 572.2 937.0 575.6 937.3 578.3 937.6 581.6 937.9 584.7 938.2 587.5 938.5 590.8 938.8 594.0 939.1 597.3 939.4 600.0 939.7 603.7 940.0 606.6 940.3 609.3 940.6 612.1 941.0 615.5 941.3 618.5 941.6 621.7 941.9 624.2 942.3 628.2 942.6 631.6 942.9 634.2 943.2 637.8 943.5 640.8 943.8 644.3 944.2 647.4 944.6 650.4 945.1 652.9 945.6 655.2 946.2 658.5 947.2 662.0 948.4 664.9 949.6 667.5 950.9 670.4 952.2 673.2 953.5 676.8 954.5 679.6 955.5 682.9 956.5 686.0 957.5 688.8 958.5 691.8 959.6 695.5 960.6 698.4 961.7 701.7 962.8 704.2 964.2 707.7 965.6 710.8 967.0 714.6 968.5 717.0 970.2 720.0 972.0 722.7 973.9 725.3 975.9 727.8 978.1 729.8 980.3 732.3 982.6 733.3 984.9 735.6 987.7 737.8 990.6 739.7 993.5 741.3 996.5 743.1 999.6 745.2 1002.2 747.8 1004.8 748.4 1007.4 751.3 1010.1 751.1 1012.8 754.6 1015.5 756.6 1018.1 758.0 1020.7 759.6 1023.4 761.3 1026.0 763.9 1028.6 766.1 1031.2 769.6 1033.8 769.9 1036.5 772.4 1039.1 775.2 1041.6 776.2 1044.2 776.4 1046.7 779.2 1049.4 780.8 1052.1 783.1 1054.9 782.5 1057.5 784.4 1060.3 786.1 1063.1 787.9 1066.0 788.4 1068.9 791.5 1071.8 791.7 1074.7 792.7 1077.4 796.3 1080.0 796.6 1083.0 799.0 1085.8 798.4 1088.6 799.8 1091.3 802.6 1094.1 802.0 1096.9 805.1 1099.9 806.6 1103.0 806.5 1106.1 808.6 1109.2 809.4 1112.2 811.3 1115.3 810.9 1118.4 812.6 1121.4 815.6 1124.4 816.0 1127.5 818.6 1130.5 819.6 1133.7 822.1 1136.5 821.9 1139.5 825.3 1142.5 826.7 1145.6 829.6 1148.6 830.4 1151.3 833.0 1153.8 832.9 1155.9 832.1 1157.5 831.4 1158.7 830.6 1159.6 827.7 1160.4 823.1 1160.9 819.3 1161.5 815.8 1161.9 810.6 1162.5 808.2 1163.2 803.5 1163.8 800.3 1164.4 796.7 1164.9 792.9 1165.3 789.1 1165.7 785.9 1166.2 781.2 1166.8 779.3 1167.5 776.1 1168.3 771.6 1169.4 770.4 1170.6 770.3 1174.1 768.6 1178.1 770.6 1181.7 772.7 1184.4 775.0 1186.7 778.8 1189.0 781.8 1190.5 785.7 1191.9 789.6 1193.3 792.0 1194.8 795.1 1196.4 798.4 1198.2 801.3 1201.2 801.0 1204.5 802.4 1207.5 802.2 1210.0 804.6 1212.1 807.9 1213.9 809.1 1214.8 809.3 1215.5 806.7 1216.1 804.4 1216.6 801.4 1217.0 796.1 1217.5 793.8 1217.9 790.3 1218.5 785.4 1219.1 783.5 1219.7 779.6 1220.2 775.5 1220.8 771.6 1221.4 766.9 1222.1 764.3 1222.7 760.8 1223.4 758.9 1224.1 758.5 1225.1 758.9 1226.3 762.8 1227.4 766.2 1228.6 769.5 1229.6 772.1 1230.3 775.1 1230.9 779.8 1231.4 783.5 1232.0 786.4 1232.5 791.5 1233.1 793.5 1233.6 798.4 1234.1 799.1 1234.6 801.8 1235.1 801.6 1235.7 802.4 1236.3 799.9 1236.8 797.2 1237.4 793.6 1238.0 789.3 1238.5 785.5 1239.1 779.9 1239.7 775.7 1240.2 773.0 1240.7 768.9 1241.3 765.4 1241.8 762.0 1242.3 758.7 1242.9 754.6 1243.4 751.9 1244.0 749.6 1244.6 746.8 1245.3 747.2 1246.1 749.0 1247.0 750.0 1248.0 753.2 1248.9 757.2 1249.9 760.2 1250.8 764.9 1251.7 768.1 1252.4 769.9 1253.1 773.7 1253.8 777.4 1254.5 782.5 1255.1 787.2 1255.8 791.4 1256.4 793.2 1257.0 795.7 1257.6 797.9 1258.2 798.0 1258.7 797.4 1259.1 796.1 1259.5 794.9 1260.0 792.3 1260.4 789.6 1260.8 786.4 1261.2 785.1 1261.6 779.2 1262.0 775.6 1262.4 771.8 1262.7 767.3 1263.1 763.0 1263.5 759.9 1263.9 755.4 1264.2 751.9 1264.6 748.7 1264.9 746.5 1265.3 742.7 1265.6 741.0 1265.9 736.9 1266.2 733.6 1266.5 730.2 1266.8 728.0 1267.0 724.7 1267.3 721.7 1267.6 719.3 1267.9 714.7 1268.2 713.3 1268.5 709.8 1268.8 705.3 1269.1 703.8 1269.4 700.9 1269.8 697.3 1270.1 694.0 1270.4 689.5 1270.8 686.4 1271.2 682.4 1271.5 679.1 1271.9 674.8 1272.3 671.7 1272.7 666.0 1273.1 662.8 1273.5 658.7 1273.8 655.5 1274.2 650.2 1274.7 647.5 1275.1 644.8 1275.5 641.9 1275.9 639.0 1276.3 636.4 1276.7 636.6 1277.1 633.4 1277.5 635.4 1277.9 634.6 1278.4 636.8 1278.8 637.9 1279.3 639.1 1279.8 641.9 1280.2 646.1 1280.7 649.1 1281.1 653.8 1281.6 657.2 1282.1 661.3 1282.5 664.8 1283.0 669.3 1283.5 672.7 1284.0 677.8 1284.4 681.2 1284.9 683.6 1285.4 688.7 1285.9 690.0 1286.3 693.0 1286.8 696.5 1287.3 701.3 1287.8 704.4 1288.3 706.1 1288.7 708.7 1289.2 712.0 1289.7 714.9 1290.2 718.2 1290.7 721.0 1291.2 725.7 1291.8 727.3 1292.3 730.2 1292.9 732.9 1293.5 735.9 1294.1 741.1 1294.8 743.5 1295.4 746.4 1296.0 748.8 1296.7 752.2 1297.4 755.5 1298.1 758.0 1298.8 759.8 1299.6 763.8 1300.5 768.0 1301.3 771.4 1302.2 774.7 1303.1 777.8 1304.0 780.8 1305.1 783.7 1306.2 785.4 1307.4 788.4 1308.8 789.4 1311.7 791.8 1315.0 792.9 1318.1 794.0 1320.6 795.8 1323.0 799.2 1325.2 802.8 1327.3 802.7 1328.8 801.8 1330.2 800.6 1331.4 797.1 1332.6 793.8 1333.7 789.7 1334.7 784.7 1335.2 783.9 1335.7 780.3 1336.2 778.1 1336.6 777.0 1337.0 772.3 1337.3 768.8 1337.6 767.9 1337.9 764.5 1338.2 761.2 1338.4 758.1 1338.6 753.4 1338.9 750.8 1339.1 747.4 1339.3 743.9 1339.5 739.9 1339.7 737.7 1340.0 734.0 1340.2 729.9 1340.4 728.4 1340.7 725.0 1340.9 722.0 1341.1 718.9 1341.3 714.9 1341.5 711.6 1341.7 709.3 1341.9 706.0 1342.1 702.1 1342.3 698.5 1342.5 696.1 1342.7 694.0 1342.9 690.9 1343.1 687.7 1343.3 685.2 1343.5 681.8 1343.7 677.3 1343.9 675.5 1344.1 673.2 1344.4 668.8 1344.6 664.2 1344.8 660.4 1345.1 657.0 1345.3 652.9 1345.5 649.9 1345.8 646.3 1346.0 642.1 1346.3 638.5 1346.5 635.5 1346.8 631.4 1347.1 629.3 1347.3 629.3 1347.6 627.6 1347.9 628.5 1348.2 626.7 1348.5 629.9 1348.8 630.9 1349.1 632.1 1349.4 634.3 1349.7 637.4 1350.1 641.9 1350.4 646.1 1350.7 649.8 1351.1 652.9 1351.4 657.0 1351.7 662.1 1352.1 665.0 1352.4 669.4 1352.8 671.2 1353.1 675.9 1353.5 678.3 1353.8 681.4 1354.1 684.4 1354.5 688.8 1354.8 690.4 1355.2 694.3 1355.5 698.0 1355.9 701.0 1356.2 705.5 1356.6 708.2 1357.0 711.5 1357.4 712.5 1357.8 715.4 1358.2 720.2 1358.6 722.8 1359.2 726.1 1359.9 729.0 1360.5 732.6 1361.2 736.2 1361.9 739.2 1362.6 741.0 1363.3 745.1 1364.0 749.0 1364.8 751.9 1365.6 754.4 1366.4 758.6 1367.2 762.3 1368.1 764.2 1369.2 767.6 1370.3 771.8 1371.5 773.3 1372.9 779.3 1374.3 781.3 1375.7 786.0 1377.1 787.0 1378.4 788.5 1379.8 787.9 1381.2 784.1 1382.6 781.7 1384.0 778.6 1385.4 774.7 1386.6 771.2 1387.6 768.3 1388.1 764.3 1388.6 761.8 1389.0 761.1 1389.3 756.9 1389.6 754.9 1389.9 751.3 1390.1 747.6 1390.2 745.8 1390.4 742.8 1390.5 738.5 1390.6 735.6 1390.6 733.4 1390.7 729.6 1390.8 726.3 1390.9 721.3 1391.0 719.6 1391.1 715.8 1391.3 711.1 1391.4 708.1 1391.6 705.9 1391.7 703.0 1391.9 701.1 1392.0 697.7 1392.1 695.0 1392.2 691.4 1392.4 688.7 1392.5 686.2 1392.6 683.5 1392.7 679.0 1392.8 676.1 1392.9 674.1 1393.0 671.0 1393.2 665.6 1393.3 664.0 1393.4 659.3 1393.5 656.8 1393.6 655.1 1393.7 651.8 1393.8 648.2 1393.9 643.8 1394.0 642.7 1394.1 638.5 1394.2 634.6 1394.3 631.8 1394.4 628.5 1394.5 625.7 1394.6 622.7 1394.7 621.6 1394.8 617.4 1394.9 613.3 1394.9 612.4 1395.0 609.4 1395.1 605.0 1395.2 603.1 1395.3 598.6 1395.4 596.0 1395.5 593.2 1395.5 589.4 1395.6 586.8 1395.7 585.0 1395.8 580.1 1395.9 577.7 1396.0 575.9 1396.1 571.8 1396.2 567.9 1396.3 566.5 1396.4 563.2 1396.5 559.8 1396.6 555.9 1396.7 554.0 1396.8 549.6 1396.9 546.7 1397.0 542.0 1397.1 538.9 1397.2 533.3 1397.3 529.1 1397.4 525.1 1397.5 521.5 1397.6 517.4 1397.7 513.8 1397.8 510.5 1397.9 506.6 1398.0 503.4 1398.1 500.1 1398.3 495.5 1398.4 492.5 1398.5 491.2 1398.7 488.4 1398.9 485.5 1399.0 484.4 1399.2 483.6 1399.4 483.3 1399.6 482.9 1400.0 483.7 1400.5 486.2 1401.0 489.4 1401.5 492.8 1402.0 496.2 1402.5 501.9 1403.0 504.5 1403.4 507.7 1403.7 510.6 1404.1 512.8 1404.5 517.7 1404.8 519.3 1405.1 523.8 1405.5 525.0 1405.8 528.3 1406.1 533.9 1406.3 535.1 1406.5 539.1 1406.8 541.0 1407.0 544.4 1407.2 545.8 1407.4 550.3 1407.6 551.9 1407.8 556.3 1408.0 558.8 1408.2 560.8 1408.4 565.5 1408.6 567.4 1408.8 570.7 1409.0 575.4 1409.2 578.3 1409.4 580.6 1409.6 584.6 1409.8 587.6 1409.9 590.7 1410.1 592.7 1410.2 596.8 1410.3 600.2 1410.4 601.3 1410.5 604.1 1410.6 607.3 1410.7 610.9 1410.8 615.5 1410.9 618.5 1411.0 621.5 1411.0 624.5 1411.1 628.0 1411.2 630.4 1411.3 633.7 1411.4 638.0 1411.5 640.7 1411.6 642.2 1411.7 646.7 1411.9 650.7 1412.0 651.5 1412.1 655.6 1412.3 657.7 1412.4 661.1 1412.6 663.8 1412.8 667.6 1413.0 669.2 1413.3 673.7 1413.5 674.2 1413.9 678.7 1414.3 682.8 1414.7 685.9 1415.1 690.2 1415.5 691.8 1416.0 695.9 1416.5 698.9 1417.0 700.7 1417.5 704.2 1418.0 708.0 1418.6 709.7 1419.1 713.6 1419.7 715.7 1420.2 718.3 1420.8 720.6 1421.6 725.6 1422.5 729.0 1423.4 731.7 1424.3 734.7 1425.3 739.6 1426.3 741.6 1427.2 744.7 1428.2 746.6 1429.4 750.3 1430.5 752.9 1432.8 754.1 1433.7 753.3 1434.6 751.9 1435.5 749.8 1436.4 746.2 1437.2 741.6 1437.9 738.2 1438.7 734.0 1439.3 729.8 1439.7 728.4 1440.0 725.5 1440.4 722.3 1440.6 719.6 1440.9 717.1 1441.1 714.9 1441.3 710.7 1441.5 706.5 1441.7 705.4 1441.9 701.9 1442.0 698.9 1442.2 695.0 1442.3 691.1 1442.4 687.4 1442.6 683.8 1442.7 682.7 1442.9 677.8 1443.0 674.5 1443.1 671.3 1443.3 668.7 1443.4 666.0 1443.5 663.9 1443.7 660.8 1443.8 656.2 1443.9 655.1 1444.0 650.0 1444.1 647.6 1444.1 645.9 1444.2 641.8 1444.3 639.7 1444.4 635.9 1444.5 632.0 1444.6 630.0 1444.6 626.3 1444.7 623.4 1444.8 621.1 1444.9 616.4 1444.9 614.4 1445.0 610.5 1445.1 607.8 1445.1 606.5 1445.2 603.2 1445.2 599.3 1445.3 596.6 1445.3 593.5 1445.4 591.0 1445.4 588.9 1445.5 583.7 1445.5 581.4 1445.6 578.9 1445.7 575.2 1445.7 571.7 1445.8 570.2 1445.8 566.7 1445.9 562.1 1446.0 559.6 1446.1 556.8 1446.1 554.5 1446.2 551.3 1446.3 547.6 1446.4 545.2 1446.5 542.7 1446.6 539.2 1446.7 536.8 1446.8 533.5 1446.9 530.6 1447.0 526.8 1447.1 524.9 1447.2 520.4 1447.3 518.7 1447.4 514.8 1447.5 512.1 1447.6 507.9 1447.7 506.4 1447.8 503.0 1447.9 500.5 1448.0 497.1 1448.1 493.6 1448.2 490.9 1448.2 486.0 1448.3 484.7 1448.4 479.9 1448.5 478.3 1448.6 474.7 1448.6 471.3 1448.6 468.5 1448.7 464.1 1448.7 460.5 1448.7 457.2 1448.6 455.1 1448.6 451.1 1448.6 446.9 1448.6 443.5 1448.5 438.7 1448.5 434.9 1448.5 431.9 1448.5 427.8 1448.4 424.6 1448.4 422.2 1448.4 419.3 1448.5 414.7 1448.5 412.2 1448.5 409.3 1448.6 406.1 1448.7 402.3 1448.8 399.2 1448.9 397.8 1449.1 394.1 1449.3 393.4 1449.5 390.5 1449.7 388.8 1450.0 386.7 1450.3 385.1 1451.1 382.6 1451.8 381.3 1454.0 378.7 1457.6 378.4 1461.4 380.5 1463.1 377.8 1464.5 374.0 1465.7 370.3 1466.9 367.6 1468.4 363.7 1469.9 358.5 1471.5 357.1 1472.8 358.6 1474.1 360.5 1475.5 362.2 1476.8 367.0 1478.0 369.9 1478.7 372.9 1479.3 374.9 1479.9 379.1 1480.4 381.8 1480.9 383.7 1481.3 386.1 1481.8 389.8 1482.2 392.5 1482.6 398.1 1483.1 399.5 1483.5 404.6 1483.9 405.3 1484.2 408.4 1484.5 412.4 1484.9 416.1 1485.2 419.1 1485.5 420.2 1485.9 425.2 1486.2 427.0 1486.5 430.6 1486.8 432.5 1487.1 437.8 1487.4 440.0 1487.7 442.9 1487.9 446.9 1488.2 450.4 1488.5 452.8 1488.7 456.3 1489.0 459.6 1489.2 461.8 1489.5 464.7 1489.7 467.9 1489.9 471.1 1490.1 475.4 1490.4 478.2 1490.6 480.8 1490.7 484.2 1490.9 487.5 1491.1 490.3 1491.3 493.3 1491.5 497.2 1491.7 499.3 1491.9 503.1 1492.1 505.0 1492.3 508.6 1492.5 512.4 1492.7 513.9 1492.9 518.0 1493.2 519.8 1493.4 524.2 1493.6 526.0 1493.8 531.0 1494.1 532.5 1494.3 536.8 1494.5 538.5 1494.8 542.1 1495.0 545.5 1495.3 548.6 1495.5 550.9 1495.8 554.6 1496.1 556.8 1496.4 560.1 1496.7 564.3 1497.0 566.2 1497.4 569.1 1497.7 572.5 1498.1 575.3 1498.5 579.9 1498.8 582.4 1499.2 584.7 1499.6 589.3 1500.0 591.5 1500.4 594.8 1500.8 596.8 1501.1 599.6 1501.5 603.2 1501.9 607.3 1502.3 610.4 1502.7 612.3 1503.1 616.2 1503.5 619.5 1503.9 624.9 1504.3 628.4 1504.7 630.7 1505.1 634.0 1505.5 636.2 1506.0 638.9 1506.5 642.4 1507.0 644.2 1508.0 647.6 1509.0 650.3 1510.1 654.3 1511.2 657.7 1512.0 659.3 1512.8 662.9 1513.6 667.0 1514.4 671.8 1515.2 674.6 1516.1 679.1 1516.9 682.0 1517.7 683.7 1518.5 684.8 1519.2 683.8 1519.8 683.5 1520.4 679.9 1521.0 678.1 1521.6 673.1 1522.2 668.8 1522.8 666.0 1523.4 662.2 1524.0 657.4 1524.6 653.6 1525.3 649.7 1525.9 647.4 1526.8 644.5 1527.6 640.1 1528.5 635.8 1529.4 632.7 1530.3 629.4 1531.3 626.6 1532.4 625.0 1533.6 627.4 1534.8 628.3 1536.1 631.7 1537.5 636.5 1539.0 638.6 1540.6 641.3 1542.5 644.2 1544.7 647.1 1547.0 648.4 1549.3 652.1 1551.5 654.3 1553.5 657.2 1554.7 660.5 1555.9 661.8 1556.9 667.5 1557.9 670.8 1558.8 675.5 1559.7 677.8 1560.6 682.6 1561.4 686.1 1562.2 689.1 1563.0 691.5 1563.8 693.8 1564.6 693.6 1565.4 693.3 1566.0 691.3 1566.6 688.1 1567.2 685.6 1567.7 681.5 1568.3 676.9 1569.0 672.1 1569.8 669.5 1570.8 665.0 1572.0 664.5 1575.0 663.3 1578.3 663.2 1581.2 662.2 1582.2 660.5 1583.0 658.3 1583.7 655.9 1584.3 653.9 1584.7 650.7 1585.1 648.5 1585.4 643.8 1585.6 639.7 1585.8 638.4 1586.0 634.4 1586.1 629.1 1586.3 626.2 1586.5 624.1 1586.7 620.2 1586.9 616.0 1587.1 613.3 1587.3 611.4 1587.4 606.9 1587.5 604.5 1587.5 601.0 1587.6 596.5 1587.7 593.9 1587.8 591.1 1587.9 587.4 1588.1 584.1 1588.3 582.3 1588.6 578.1 1589.0 576.1 1589.5 570.3 1590.1 567.1 1590.7 562.3 1591.3 559.0 1591.9 557.6 1592.6 555.3 1593.2 554.7 1593.7 556.5 1594.2 557.5 1594.7 560.5 1595.2 561.8 1595.7 565.0 1596.2 570.3 1596.8 575.0 1597.4 578.6 1598.1 581.6 1598.8 584.2 1599.6 587.9 1601.0 590.4 1602.6 595.2 1604.3 597.5 1606.0 600.7 1607.5 603.8 1608.8 605.3 1609.8 609.0 1610.5 611.9 1611.2 615.0 1611.8 617.6 1612.4 622.6 1613.0 625.1 1613.5 627.5 1614.0 630.4 1614.4 635.4 1614.8 638.0 1615.3 640.5 1615.7 644.4 1616.2 647.4 1616.8 650.4 1617.4 653.5 1618.1 657.3 1619.1 660.9 1620.1 662.7 1621.3 667.0 1622.5 669.1 1623.9 672.8 1625.4 676.2 1627.4 677.6 1629.7 680.3 1632.0 683.7 1634.4 686.8 1636.5 688.9 1639.1 691.6 1641.4 694.1 1643.9 696.6 1645.6 699.8 1647.4 704.3 1649.2 707.4 1651.1 710.4 1653.0 711.2 1654.9 713.6 1658.6 715.8 1662.3 716.1 1666.0 714.8 1669.2 710.4 1670.0 708.8 1670.6 706.4 1671.1 703.5 1671.5 701.5 1671.9 697.5 1672.1 694.6 1672.3 690.7 1672.5 687.9 1672.6 683.2 1672.8 679.7 1672.9 677.0 1673.1 672.4 1673.3 669.1 1673.5 667.0 1673.8 664.2 1674.3 659.4 1674.8 657.2 1675.3 652.8 1675.8 648.5 1676.4 645.4 1676.9 643.3 1677.5 641.3 1678.1 643.9 1678.8 645.9 1679.5 648.5 1680.2 653.5 1680.8 656.9 1681.5 660.3 1682.1 664.7 1682.5 667.7 1682.9 670.9 1683.2 674.7 1683.5 677.5 1683.8 680.3 1684.2 683.1 1684.6 685.6 1685.1 688.5 1685.8 691.7 1686.7 696.2 1687.8 699.6 1688.9 702.3 1690.2 704.9 1691.6 707.6 1693.2 708.0 1696.1 706.8 1699.4 705.3 1702.4 703.7 1704.2 705.3 1705.6 711.2 1707.0 713.4 1708.3 717.6 1709.8 717.9 1711.4 722.3 1713.0 725.2 1714.7 726.8 1716.7 732.7 1719.0 733.4 1721.2 737.2 1723.7 736.4 1726.3 741.1 1729.2 740.2 1732.0 744.2 1734.8 742.0 1737.4 745.2 1740.4 745.2 1743.3 749.4 1746.2 749.7 1749.1 751.2 1752.2 752.1 1755.1 751.8 1758.2 750.6 1761.3 753.9 1764.4 752.7 1767.5 753.2 1770.6 752.0 1773.8 752.4 1777.1 756.4 1780.5 756.5 1783.7 756.7 1786.6 756.7 1789.0 755.1 1791.6 754.7 1793.5 751.7 1795.5 748.4 1797.5 750.7 1799.5 753.3 1801.6 757.7 1803.8 760.2 1806.5 765.0 1809.4 764.7 1813.0 767.6 1815.6 770.1 1818.6 766.6 1821.8 766.8 1825.2 770.2 1828.6 765.8 1832.0 766.9 1835.1 767.0 1838.3 765.9 1841.4 768.8 1844.4 769.0 1847.4 766.5 1850.5 768.1 1853.5 767.4 1856.6 766.8 1859.7 766.5 1862.8 769.9 1865.9 767.9 1868.9 767.5 1872.0 765.5 1875.2 767.3 1878.6 766.0 1882.0 765.1 1885.2 764.4 1888.1 763.5 1890.4 762.8 1892.2 760.9 1893.4 755.8 1894.2 754.8 1895.0 752.3 1896.0 749.4 1897.0 745.9 1898.1 740.9 1899.1 736.3 1900.2 732.8 1901.2 726.9 1902.3 728.0 1903.3 724.5 1904.7 726.8 1906.1 730.4 1907.4 735.6 1908.8 739.8 1909.8 742.5 1910.8 747.0 1911.7 747.8 1912.9 749.3 1914.4 753.1 1916.8 751.3 1919.6 749.5 1922.5 744.6 1925.4 742.3 1928.2 743.9 1930.9 746.7 1933.7 751.5 1936.5 753.1 1939.2 755.8 1941.8 759.4 1944.5 761.9 1947.6 763.1 1950.6 762.0 1953.8 763.4 1957.2 764.9 1960.6 764.1 1964.1 765.4 1967.2 764.6 1970.3 765.4 1973.5 763.1 1976.7 760.4 1980.0 763.5 1983.3 763.3 1986.5 759.1 1989.8 762.0 1993.2 759.4 1996.6 759.0 2000.0 758.0 2003.4 758.2 2006.7 756.2 2009.6 758.7 2012.6 755.4 2015.6 757.0 2018.5 756.2 2021.4 752.6 2024.3 751.9 2027.2 751.9 2030.0 750.1 2033.0 750.5 2036.1 749.7 2039.1 746.6 2042.1 747.1 2044.9 746.7 2047.7 742.3 2050.2 744.8 2054.0 743.2 2057.5 747.8 2061.1 749.0 2064.0 748.4 2066.9 751.3 2070.0 755.6 2073.2 755.9 2076.6 755.1 2079.7 754.9 2083.0 756.5 2086.5 754.9 2090.0 754.2 2093.5 753.2 2096.8 750.5 2100.0 749.8 2103.2 750.0 2106.2 753.9 2109.1 750.7 2112.2 752.7 2115.5 750.4 2118.5 752.0 2121.9 749.9 2125.4 751.9 2128.9 751.6 2132.5 750.6 2135.9 748.2 2139.1 748.4 2142.0 748.5 2145.4 749.2 2148.4 751.6 2151.3 754.8 2154.4 751.6 2157.6 752.5 2161.0 752.7 2164.4 751.8 2167.5 751.9 2170.0 750.9 2171.3 748.8 2172.2 743.9 2172.8 742.8 2173.2 736.7 2173.4 735.3 2173.6 730.9 2173.8 728.9 2174.1 723.5 2174.6 721.1 2175.7 714.7 2176.9 710.7 2178.1 710.3 2179.3 705.2 2180.1 708.2 2180.9 708.3 2181.6 714.0 2182.3 719.2 2183.1 720.8 2184.0 724.7 2184.9 730.3 2185.7 733.3 2186.6 735.2 2187.6 737.1 2188.8 742.2 2190.2 743.0 2193.9 745.7 2198.0 744.8 2200.7 742.5 2203.5 743.2 2206.2 741.5 2208.8 738.5 2211.5 741.0 2214.0 744.8 2216.6 745.2 2220.6 749.6 2224.4 751.2 2226.5 752.2 2228.4 752.1" stroke="#ff00ff" clip-path="url(#clipR)"/>
<path d="M110.0 638.8L111.8 638.7 114.0 638.5 116.3 638.3 119.2 638.2 122.4 638.0 125.8 637.7 129.1 637.4 132.0 637.0 135.1 636.4 138.1 635.6 140.9 634.8 144.0 634.0 147.1 633.3 150.3 632.6 153.6 631.9 156.9 631.0 160.0 630.0 162.9 628.9 165.8 627.6 168.6 626.3 171.3 624.7 174.0 623.0 176.4 621.2 178.8 619.3 181.1 617.2 183.4 615.1 185.7 612.8 188.0 610.5 190.3 608.2 192.6 605.9 194.9 603.5 197.2 601.0 199.5 598.4 201.8 595.8 204.0 593.0 205.9 590.5 207.7 587.8 209.5 585.0 211.3 582.1 213.0 579.2 214.8 576.3 216.5 573.5 218.3 570.7 220.0 568.0 221.8 565.4 223.5 562.9 225.3 560.4 227.0 557.9 228.8 555.5 230.5 553.1 232.2 550.6 234.0 548.0 235.7 545.5 237.3 543.0 239.0 540.5 240.7 537.9 242.3 535.3 244.0 532.7 245.7 530.1 247.3 527.6 249.0 525.0 250.7 522.4 252.3 519.9 254.0 517.4 255.7 514.8 257.3 512.3 259.0 509.7 260.7 507.2 262.3 504.6 264.0 502.0 265.7 499.4 267.3 496.7 269.0 494.0 270.7 491.3 272.3 488.7 274.0 486.0 275.7 483.3 277.3 480.6 279.0 478.0 280.7 475.4 282.3 472.8 284.0 470.2 285.6 467.7 287.3 465.1 289.0 462.5 290.6 460.0 292.3 457.5 294.0 455.0 295.8 452.3 297.7 449.6 299.5 446.8 301.4 444.1 303.3 441.5 305.1 438.9 307.1 436.4 309.0 434.0 311.0 431.6 313.1 429.3 315.3 427.0 317.4 424.8 319.5 422.8 321.6 420.8 323.7 419.0 326.6 416.6 329.4 414.5 332.2 412.6 335.0 411.0 338.2 409.4 341.4 408.2 344.7 407.6 348.4 407.7 352.2 408.4 356.0 409.5 359.1 410.7 362.2 412.1 365.3 413.9 368.6 416.0 370.8 417.6 373.1 419.4 375.4 421.3 377.8 423.4 380.3 425.6 382.7 427.9 385.2 430.3 387.6 432.6 390.0 435.0 392.1 437.1 394.3 439.3 396.4 441.5 398.5 443.7 400.7 446.0 402.8 448.3 405.0 450.7 407.1 453.1 409.3 455.6 411.4 458.2 413.6 460.9 415.3 463.1 417.1 465.3 418.9 467.7 420.7 470.1 422.5 472.6 424.3 475.1 426.1 477.6 428.0 480.2 429.8 482.8 431.6 485.4 433.4 488.0 435.1 490.6 436.9 493.1 438.6 495.7 440.3 498.2 441.9 500.6 443.5 503.0 445.4 505.9 447.3 508.8 449.2 511.8 451.1 514.7 452.9 517.6 454.7 520.5 456.4 523.3 458.1 526.1 459.7 528.7 461.3 531.3 462.8 533.7 464.2 536.0 466.2 539.3 468.0 542.2 469.6 544.9 471.4 547.7 473.5 550.8 475.0 553.0 476.7 555.3 478.6 557.8 480.5 560.4 482.4 563.0 484.5 565.6 486.4 568.1 488.4 570.6 490.3 572.9 492.1 575.0 493.7 576.9 496.3 579.7 498.6 582.0 500.9 584.2 503.5 586.7 505.5 588.7 507.7 590.9 509.9 593.3 512.3 595.7 514.6 598.1 517.0 600.4 519.3 602.6 521.4 604.5 523.9 606.6 526.2 608.6 528.5 610.4 530.9 612.1 533.4 613.7 536.4 615.4 539.5 617.0 542.8 618.5 546.0 619.8 549.0 621.1 552.9 622.8 556.6 624.3 560.1 625.2 563.7 625.2 567.0 624.5 570.0 623.3 573.0 621.1 574.7 619.3 576.6 616.9 578.5 614.2 580.4 611.3 582.3 608.3 584.2 605.4 585.9 602.7 587.9 599.7 589.7 596.7 591.5 593.7 593.2 590.9 595.0 588.0 596.7 585.0 598.3 581.6 599.9 578.5 601.6 576.1 603.4 575.0 606.1 576.3 609.0 579.6 612.0 583.0 614.0 585.0 616.1 586.9 618.2 589.0 620.4 591.2 622.8 593.5 624.9 595.6 627.0 597.8 629.3 600.2 631.6 602.6 634.0 605.0 636.4 607.4 638.8 609.7 641.2 611.9 643.8 614.2 646.3 616.5 648.9 618.8 651.5 621.0 654.2 623.1 656.9 624.9 659.6 626.6 662.5 628.1 665.5 629.4 668.4 630.5 671.5 631.4 674.7 632.3 678.0 633.1 680.8 633.7 683.8 634.3 686.8 634.7 690.0 635.2 693.1 635.5 696.3 635.9 699.5 636.2 702.6 636.5 705.7 636.8 709.0 637.1 712.5 637.4 716.1 637.7 719.6 637.9 722.9 638.1 725.9 638.3 728.5 638.5 730.6 638.6 732.8 638.8 734.6 638.9" stroke="#ff8000" clip-path="url(#clipL)"/>
<path d="M762.5 650.9L764.3 650.8 766.5 651.0 768.4 651.0 770.7 650.8 773.4 651.0 776.5 651.2 779.7 651.0 783.2 651.1 786.7 651.1 790.2 651.2 793.6 651.3 796.9 651.1 799.8 651.3 802.8 651.1 805.9 650.9 808.9 651.1 812.0 650.7 815.1 650.6 818.2 650.5 821.3 650.3 824.4 650.3 827.5 650.4 830.6 650.1 833.7 650.1 836.8 649.9 839.8 649.9 842.9 649.7 846.0 649.3 849.1 649.3 852.1 649.0 855.2 649.1 858.3 648.9 861.4 648.5 864.5 648.5 867.5 648.2 870.6 648.2 873.7 647.9 876.8 647.6 880.0 647.4 883.1 647.5 886.3 647.1 889.4 647.0 892.5 646.7 895.6 646.6 898.7 646.4 901.7 646.1 904.6 645.6 907.5 645.5 910.8 644.7 914.0 644.6 917.3 643.9 920.4 643.5 923.5 642.7 926.5 642.0 929.5 641.5 932.3 640.8 935.1 639.9 938.4 638.4 941.6 637.1 944.6 635.6 947.6 633.9 950.5 632.3 953.5 630.6 956.2 629.2 958.8 627.8 961.5 626.1 964.1 624.6 966.7 622.8 969.4 621.3 972.0 619.7 974.7 617.8 977.3 616.1 980.0 613.8 982.7 612.0 985.3 610.3 987.9 608.7 990.4 607.8 993.7 606.4 996.9 605.4 1000.1 604.8 1003.3 605.5 1006.2 604.7 1009.2 606.6 1012.2 606.7 1015.1 608.5 1018.1 611.0 1020.4 612.6 1022.7 614.1 1024.9 615.7 1027.2 618.7 1029.5 621.3 1031.8 622.6 1034.1 624.1 1036.5 627.4 1039.1 627.8 1041.7 630.1 1044.3 633.1 1047.0 635.0 1049.6 635.8 1052.3 636.0 1054.9 637.5 1057.9 638.3 1060.9 640.3 1063.9 640.6 1066.9 640.1 1070.0 641.1 1073.4 640.2 1076.7 640.3 1080.2 640.9 1083.8 640.5 1087.6 641.1 1090.4 640.9 1093.3 641.9 1096.4 640.1 1099.5 640.9 1102.7 639.7 1105.9 640.4 1109.1 639.5 1112.2 639.8 1115.3 638.1 1118.4 638.1 1121.6 638.3 1124.8 636.3 1128.0 635.7 1131.2 635.6 1134.2 634.7 1137.3 634.3 1140.2 633.2 1142.9 632.0 1145.9 630.2 1148.6 629.0 1151.3 627.0 1153.9 623.8 1156.4 623.4 1158.9 620.2 1161.4 617.8 1163.7 615.4 1166.0 612.8 1168.1 610.2 1170.3 608.7 1172.5 606.9 1174.8 603.6 1177.2 601.7 1179.8 600.2 1182.6 598.6 1185.6 597.7 1188.8 597.4 1192.0 597.7 1195.2 597.0 1198.3 597.2 1201.2 595.1 1203.8 594.7 1206.9 593.3 1209.7 592.1 1212.3 591.0 1215.0 590.2 1218.6 589.5 1222.3 587.3 1225.9 586.8 1229.3 587.4 1232.7 587.8 1236.0 588.9 1239.4 592.1 1242.7 594.2 1246.2 594.7 1249.3 595.3 1252.5 595.0 1255.9 593.5 1259.1 593.2 1262.3 591.0 1265.5 589.1 1268.7 588.7 1272.0 587.7 1274.9 587.6 1277.9 588.5 1281.0 589.4 1283.9 592.0 1286.7 592.0 1289.9 592.7 1293.0 591.6 1296.0 591.3 1299.1 589.6 1302.2 587.5 1305.2 587.1 1307.7 588.8 1310.2 589.7 1312.6 591.9 1315.0 595.2 1317.5 598.6 1320.0 600.8 1322.5 603.1 1325.4 604.9 1328.1 605.9 1331.1 604.0 1334.2 604.0 1337.3 602.3 1340.2 603.2 1342.8 604.8 1345.3 605.8 1347.7 608.9 1350.1 611.5 1352.5 612.8 1354.9 615.5 1358.6 614.4 1362.3 613.5 1366.0 611.6 1369.0 611.8 1372.0 611.6 1375.1 609.4 1378.4 608.3 1381.3 609.0 1384.3 607.3 1387.4 606.3 1390.6 606.2 1393.8 606.2 1396.9 606.6 1400.0 606.4 1403.1 609.8 1406.2 610.9 1409.3 611.5 1412.3 612.8 1415.3 614.3 1418.0 613.7 1420.6 611.2 1423.3 609.9 1425.9 607.8 1428.5 606.0 1431.1 604.0 1433.7 601.0 1437.6 601.1 1441.5 601.8 1445.2 601.9 1448.5 601.3 1450.8 598.9 1452.8 597.6 1454.5 593.4 1456.1 591.2 1457.7 588.7 1459.0 585.7 1460.2 581.6 1461.3 579.4 1462.3 576.8 1463.3 573.0 1464.2 569.0 1465.1 566.3 1465.7 564.2 1466.2 560.2 1466.6 558.5 1467.0 554.0 1467.4 550.7 1467.8 547.7 1468.1 545.7 1468.5 543.2 1468.8 539.2 1469.1 536.3 1469.5 533.5 1469.8 529.6 1470.2 526.2 1470.6 524.2 1471.0 520.1 1471.5 517.6 1471.9 514.5 1472.4 509.9 1472.8 508.0 1473.2 503.9 1473.7 501.5 1474.1 498.9 1474.6 495.5 1475.1 492.2 1475.6 489.2 1476.1 485.9 1476.7 483.5 1477.4 479.0 1478.1 475.5 1478.7 472.0 1479.4 467.4 1480.2 466.2 1480.9 462.4 1481.7 462.2 1482.5 463.8 1483.5 465.3 1484.4 468.0 1485.4 470.8 1486.3 475.8 1487.3 478.6 1488.2 483.3 1489.0 485.8 1489.7 488.7 1490.4 492.0 1491.0 495.6 1491.5 498.7 1492.1 502.5 1492.7 505.9 1493.3 508.8 1493.9 511.9 1494.6 513.8 1495.3 517.5 1496.0 522.4 1496.6 526.7 1497.3 529.7 1498.1 533.7 1499.1 535.6 1500.4 538.2 1501.9 539.7 1504.4 540.5 1507.5 540.0 1510.7 537.2 1513.9 534.7 1516.7 531.8 1519.3 530.4 1521.6 528.2 1523.8 525.4 1525.9 524.3 1527.6 520.4 1529.1 517.7 1530.6 515.2 1532.0 511.8 1533.5 507.2 1535.1 504.3 1536.9 502.0 1538.9 500.6 1540.8 498.1 1542.6 494.6 1544.3 492.1 1545.4 489.3 1546.3 487.6 1547.2 483.9 1548.0 480.3 1548.8 477.4 1549.5 475.1 1550.2 470.2 1550.9 467.7 1551.7 464.1 1552.5 461.9 1553.2 457.8 1553.9 453.2 1554.6 448.7 1555.3 445.2 1556.0 442.3 1556.7 439.0 1557.5 438.3 1558.2 437.4 1559.1 437.2 1560.1 440.5 1561.0 443.0 1562.0 447.5 1562.9 450.2 1563.8 454.4 1564.6 459.2 1565.2 462.3 1565.8 465.1 1566.3 470.8 1566.8 474.8 1567.2 478.1 1567.7 482.4 1568.2 483.7 1568.7 486.1 1569.2 487.3 1569.7 486.1 1570.2 485.1 1570.8 482.6 1571.3 480.4 1571.9 476.2 1572.4 473.1 1573.0 469.8 1573.6 463.9 1574.1 460.4 1574.7 456.0 1575.2 452.9 1575.7 450.7 1576.2 447.0 1576.6 442.4 1576.9 440.0 1577.2 437.7 1577.5 433.7 1577.9 430.4 1578.2 426.5 1578.6 423.0 1579.1 420.7 1579.7 418.7 1580.4 415.8 1581.2 412.4 1582.8 410.1 1584.7 406.7 1586.7 404.4 1588.6 402.7 1590.4 400.8 1591.4 398.2 1592.4 394.6 1593.3 391.4 1594.1 388.3 1594.9 385.8 1595.7 381.5 1596.4 379.9 1597.2 375.5 1597.9 372.0 1598.8 369.3 1599.6 366.7 1600.8 362.6 1602.0 358.1 1603.2 354.1 1604.4 350.4 1605.6 348.0 1606.8 345.1 1607.9 343.9 1608.9 345.0 1609.9 348.0 1610.9 350.5 1611.9 353.6 1612.7 358.1 1613.6 362.6 1614.4 367.6 1614.9 369.8 1615.4 372.9 1615.8 375.4 1616.2 377.4 1616.6 381.5 1616.9 383.6 1617.3 386.1 1617.6 389.5 1617.9 394.3 1618.3 397.1 1618.6 400.3 1618.9 402.8 1619.2 407.1 1619.6 410.2 1619.9 412.1 1620.2 416.7 1620.5 418.7 1620.7 421.9 1620.9 426.6 1621.1 428.8 1621.3 433.2 1621.5 436.2 1621.7 439.7 1621.9 443.8 1622.1 445.8 1622.4 450.5 1622.6 451.9 1623.0 455.7 1623.3 459.2 1623.7 460.9 1624.2 463.5 1624.8 466.3 1625.4 467.5 1627.0 471.7 1628.9 474.6 1630.9 476.2 1632.8 480.0 1634.7 481.1 1636.6 485.2 1638.5 486.6 1640.2 489.4 1641.0 492.3 1641.7 494.8 1642.3 497.4 1642.9 500.2 1643.4 504.1 1643.9 506.1 1644.4 510.4 1644.9 513.1 1645.3 515.9 1645.7 519.3 1646.2 523.3 1646.6 525.8 1647.1 529.3 1647.6 533.3 1648.1 536.5 1648.6 538.6 1649.0 541.3 1649.5 545.2 1650.0 548.0 1650.4 550.9 1650.9 555.2 1651.3 557.4 1651.8 561.4 1652.3 564.4 1652.8 568.4 1653.3 571.0 1653.8 574.2 1654.3 576.7 1654.9 579.5 1655.7 581.3 1656.5 585.5 1657.3 589.5 1658.2 591.2 1659.0 595.0 1660.0 596.2 1660.9 600.5 1662.0 602.8 1663.7 605.0 1665.4 607.0 1667.3 610.1 1669.2 613.3 1671.0 615.6 1673.0 619.9 1674.9 622.9 1676.8 625.3 1678.4 625.8 1680.0 623.4 1681.4 620.1 1682.7 616.0 1684.0 611.9 1685.2 609.0 1686.4 604.0 1687.7 601.4 1689.5 600.0 1691.9 599.1 1694.9 600.4 1697.9 603.0 1700.6 604.5 1702.4 608.4 1703.9 610.3 1705.4 612.7 1706.8 617.2 1708.2 620.8 1709.8 622.7 1711.6 625.1 1714.0 627.8 1716.5 630.2 1719.1 630.9 1721.8 633.8 1724.5 634.1 1727.6 636.5 1730.8 640.1 1734.0 640.4 1737.4 641.4 1740.6 642.1 1744.0 643.1 1747.5 642.9 1750.9 641.3 1754.0 640.4 1756.9 638.8 1759.5 636.8 1762.1 633.8 1764.5 631.9 1766.9 629.5 1770.0 626.5 1772.9 624.6 1776.1 620.9 1779.1 622.4 1782.5 621.8 1785.8 623.5 1789.0 624.5 1791.9 627.4 1794.7 628.4 1797.4 631.7 1800.1 633.7 1803.1 636.1 1806.0 636.9 1809.3 638.6 1812.3 638.0 1815.6 638.3 1819.1 638.0 1822.6 636.4 1825.9 635.0 1829.0 632.5 1831.9 631.5 1834.8 630.3 1837.7 627.1 1840.6 625.6 1843.9 623.4 1847.2 622.5 1850.4 620.6 1853.5 621.0 1856.4 619.0 1859.2 617.1 1861.9 615.6 1864.6 613.6 1866.5 609.5 1868.4 607.6 1870.2 603.1 1872.0 600.4 1873.8 597.1 1875.6 595.1 1877.5 593.9 1879.6 594.5 1881.7 598.2 1883.8 601.1 1886.0 605.5 1888.2 606.9 1890.4 609.1 1893.1 608.3 1895.8 606.8 1898.6 605.5 1901.5 603.6 1904.7 602.3 1908.0 601.9 1911.3 600.7 1914.4 598.6 1916.7 595.5 1918.8 593.4 1920.9 590.4 1922.9 585.8 1925.1 584.2 1927.3 582.8 1930.4 584.2 1933.5 586.0 1936.8 588.5 1940.2 590.2 1943.7 591.4 1947.4 591.3 1951.2 592.9 1954.9 593.2 1957.9 591.9 1961.0 590.6 1964.0 591.0 1966.9 590.1 1969.7 589.4 1973.1 588.2 1976.3 587.5 1980.0 586.9 1982.7 586.7 1985.9 586.4 1989.4 585.1 1993.0 585.4 1996.5 584.6 1999.9 585.1 2002.8 584.1 2005.1 583.2 2008.5 580.4 2011.3 578.6 2012.9 575.7 2014.5 571.6 2016.2 570.2 2018.0 566.2 2020.0 564.3 2022.2 563.0 2025.1 562.1 2028.4 562.3 2031.8 565.1 2035.0 566.0 2037.8 565.1 2040.7 563.0 2043.1 561.2 2045.5 556.6 2047.2 554.4 2049.0 550.8 2050.7 547.7 2052.4 545.5 2054.1 544.6 2056.5 545.3 2058.9 548.1 2061.1 551.0 2062.5 554.2 2063.7 557.3 2064.8 559.1 2065.9 563.0 2067.3 565.4 2068.9 568.2 2071.1 571.0 2073.6 573.6 2076.2 576.3 2078.9 576.9 2081.3 577.5 2085.2 577.3 2089.1 576.1 2091.5 574.2 2094.1 572.1 2096.6 569.4 2099.2 568.8 2101.5 567.1 2104.3 566.3 2106.9 570.1 2109.3 572.4 2111.3 575.4 2113.1 575.6 2115.5 579.8 2118.1 580.8 2121.1 580.5 2124.4 582.5 2127.8 581.9 2131.1 583.4 2134.3 581.7 2137.6 581.2 2140.8 582.3 2143.9 584.8 2146.6 582.7 2150.8 580.5 2154.4 580.9 2156.5 584.9 2158.2 585.5 2160.6 589.6 2163.6 590.3 2167.3 591.4 2171.1 590.5 2174.6 591.9 2177.5 588.5 2180.2 587.8 2182.8 585.3 2185.5 583.4 2189.3 584.6 2193.1 587.0 2196.4 587.7 2198.6 590.4 2200.3 592.8 2202.6 594.5 2205.7 593.8 2209.4 595.9 2213.2 593.8 2216.6 592.1 2220.8 594.2 2224.4 591.5 2226.5 592.1 2228.4 594.4" stroke="#ff8000" clip-path="url(#clipR)"/>
</g>
<g fill="none" stroke="#000" stroke-width="7.5" stroke-linecap="butt" stroke-linejoin="miter">
<path d="M728.5 59.3H114.5 V1599.5H728.0 M766.0 1599.5H2227.0V59.3H766.5"/>
</g>
<path d="M281.8 1599.5V1633.0M562.0 1599.5V1633.0M846.0 1599.5V1633.0M1142.8 1599.5V1633.0M1439.5 1599.5V1633.0M1736.3 1599.5V1633.0M2033.0 1599.5V1633.0M141.7 1599.5V1617.0M421.9 1599.5V1617.0M702.1 1599.5V1617.0M994.4 1599.5V1617.0M1291.1 1599.5V1617.0M1587.9 1599.5V1617.0M1884.6 1599.5V1617.0M2181.4 1599.5V1617.0" stroke="#000" stroke-width="7" fill="none"/>
<path d="M710.7 92.2L749.2 25.6M746.4 92.2L785.2 25.6M710.7 1630.7L749.2 1564.2M746.8 1630.7L785.2 1565.0" stroke="#000" stroke-width="6" stroke-linecap="butt" fill="none"/>
<g fill="none" stroke-width="8">
<path d="M1053.0 134.3H1231.0" stroke="#000000"/>
<path d="M1437.6 134.8H1616.6" stroke="#008000"/>
<path d="M1828.5 134.7H2006.1" stroke="#ff0000"/>
<path d="M1053.0 229.3H1231.0" stroke="#0000ff"/>
<path d="M1443.4 229.3H1622.4" stroke="#00ff00"/>
<path d="M1832.9 229.3H2011.9" stroke="#ff00ff"/>
<path d="M1053.0 323.7H1231.0" stroke="#ff8000"/>
</g>
<g font-family="'Liberation Sans', Arial, sans-serif" font-size="77" fill="#000">
<text x="1248.0" y="160.0">PCL</text>
<text x="1636.0" y="160.0">10%</text>
<text x="2022.5" y="160.0">20%</text>
<text x="1248.0" y="254.5">30%</text>
<text x="1637.3" y="254.5">40%</text>
<text x="2029.3" y="254.5">50%</text>
<text x="1248.0" y="348.0">PCD</text>
</g>
<g font-family="'Liberation Sans', Arial, sans-serif" font-weight="bold" font-size="76" letter-spacing="-1" text-anchor="middle" fill="#000">
<text x="281.8" y="1712">3500</text>
<text x="562.0" y="1712">3000</text>
<text x="846.0" y="1712">1800</text>
<text x="1142.8" y="1712">1500</text>
<text x="1439.5" y="1712">1200</text>
<text x="1736.3" y="1712">900</text>
<text x="2033.0" y="1712">600</text>
</g>
<text x="873" y="1808.5" font-family="'Liberation Serif', 'Times New Roman', serif" font-weight="bold" font-size="82.5" fill="#000">Wavenumber <tspan font-weight="normal">(</tspan>cm<tspan dy="-44" font-size="50">-1</tspan><tspan dy="44" font-weight="normal">)</tspan></text>
<text transform="translate(72 1123.5) rotate(-90)" x="0" y="0" font-family="'Liberation Serif', 'Times New Roman', serif" font-weight="bold" font-size="82" letter-spacing="0.9" fill="#000">Absorbance<tspan font-weight="normal">(</tspan>a.u.<tspan font-weight="normal">)</tspan></text>
</svg>
</body></html>
